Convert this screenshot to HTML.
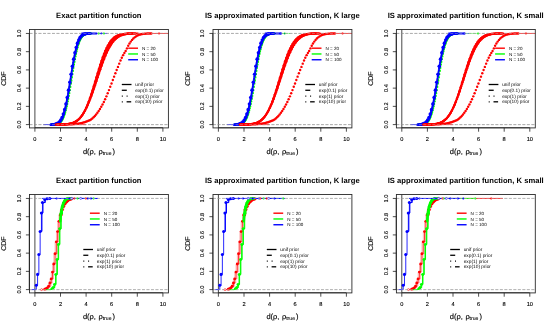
<!DOCTYPE html>
<html><head><meta charset="utf-8"><title>CDF plots</title>
<style>html,body{margin:0;padding:0;background:#fff;}svg{display:block;font-family:"Liberation Sans",sans-serif;text-rendering:geometricPrecision;}</style>
</head><body>
<svg width="550" height="330" viewBox="0 0 550 330">
<defs><filter id="bl" x="0" y="0" width="550" height="330" filterUnits="userSpaceOnUse"><feGaussianBlur stdDeviation="0.32"/></filter></defs>
<rect width="550" height="330" fill="#fff"/>
<g filter="url(#bl)">
<rect width="550" height="330" fill="#fff"/>
<g transform="translate(0,0)">
<text transform="translate(98.8,17.7) scale(0.1)" font-size="76.5" text-anchor="middle" font-weight="bold" fill="#000">Exact partition function</text>
<line x1="29.5" x2="168.4" y1="124.6" y2="124.6" stroke="#7f7f7f" stroke-width="0.7" stroke-dasharray="2.9 1.6"/>
<line x1="29.5" x2="168.4" y1="33.45" y2="33.45" stroke="#7f7f7f" stroke-width="0.7" stroke-dasharray="2.9 1.6"/>
<line x1="34.9" x2="34.9" y1="29.5" y2="127.9" stroke="#333" stroke-width="0.9"/>
<line x1="51.19" x2="60.18" y1="124.6" y2="124.6" stroke="#00ff00" stroke-width="0.8"/>
<g fill="#00ff00"><circle cx="51.96" cy="124.57" r="1.0"/><circle cx="52.48" cy="124.56" r="1.0"/><circle cx="52.99" cy="124.55" r="1.0"/><circle cx="53.5" cy="124.53" r="1.0"/><circle cx="54.02" cy="124.5" r="1.0"/><circle cx="54.53" cy="124.47" r="1.0"/><circle cx="55.04" cy="124.42" r="1.0"/><circle cx="55.56" cy="124.37" r="1.0"/><circle cx="56.07" cy="124.29" r="1.0"/><circle cx="56.58" cy="124.2" r="1.0"/><circle cx="57.1" cy="124.09" r="1.0"/><circle cx="57.61" cy="123.94" r="1.0"/><circle cx="58.13" cy="123.76" r="1.0"/><circle cx="58.64" cy="123.53" r="1.0"/><circle cx="59.15" cy="123.26" r="1.0"/><circle cx="59.67" cy="122.93" r="1.0"/><circle cx="60.18" cy="122.53" r="1.0"/><circle cx="60.69" cy="122.05" r="1.0"/><circle cx="61.21" cy="121.48" r="1.0"/><circle cx="61.72" cy="120.82" r="1.0"/><circle cx="62.23" cy="120.04" r="1.0"/><circle cx="62.75" cy="119.14" r="1.0"/><circle cx="63.26" cy="118.11" r="1.0"/><circle cx="63.78" cy="116.93" r="1.0"/><circle cx="64.29" cy="115.6" r="1.0"/><circle cx="64.8" cy="114.11" r="1.0"/><circle cx="65.32" cy="112.45" r="1.0"/><circle cx="65.83" cy="110.62" r="1.0"/><circle cx="66.34" cy="108.62" r="1.0"/><circle cx="66.86" cy="106.44" r="1.0"/><circle cx="67.37" cy="104.1" r="1.0"/><circle cx="67.88" cy="101.59" r="1.0"/><circle cx="68.4" cy="98.92" r="1.0"/><circle cx="68.91" cy="96.12" r="1.0"/><circle cx="69.42" cy="93.19" r="1.0"/><circle cx="69.94" cy="90.16" r="1.0"/><circle cx="70.45" cy="87.04" r="1.0"/><circle cx="70.97" cy="83.86" r="1.0"/><circle cx="71.48" cy="80.64" r="1.0"/><circle cx="71.99" cy="77.41" r="1.0"/><circle cx="72.51" cy="74.19" r="1.0"/><circle cx="73.02" cy="71.01" r="1.0"/><circle cx="73.53" cy="67.89" r="1.0"/><circle cx="74.05" cy="64.86" r="1.0"/><circle cx="74.56" cy="61.93" r="1.0"/><circle cx="75.07" cy="59.13" r="1.0"/><circle cx="75.59" cy="56.46" r="1.0"/><circle cx="76.1" cy="53.95" r="1.0"/><circle cx="76.62" cy="51.61" r="1.0"/><circle cx="77.13" cy="49.43" r="1.0"/><circle cx="77.64" cy="47.43" r="1.0"/><circle cx="78.16" cy="45.6" r="1.0"/><circle cx="78.67" cy="43.94" r="1.0"/><circle cx="79.18" cy="42.45" r="1.0"/><circle cx="79.7" cy="41.12" r="1.0"/><circle cx="80.21" cy="39.94" r="1.0"/><circle cx="80.72" cy="38.91" r="1.0"/><circle cx="81.24" cy="38.01" r="1.0"/><circle cx="81.75" cy="37.23" r="1.0"/><circle cx="82.26" cy="36.57" r="1.0"/><circle cx="82.78" cy="36" r="1.0"/><circle cx="83.29" cy="35.52" r="1.0"/><circle cx="83.81" cy="35.12" r="1.0"/><circle cx="84.32" cy="34.79" r="1.0"/><circle cx="84.83" cy="34.52" r="1.0"/><circle cx="85.35" cy="34.29" r="1.0"/><circle cx="85.86" cy="34.11" r="1.0"/><circle cx="86.37" cy="33.96" r="1.0"/><circle cx="86.89" cy="33.85" r="1.0"/><circle cx="87.4" cy="33.76" r="1.0"/><circle cx="87.91" cy="33.68" r="1.0"/><circle cx="88.43" cy="33.63" r="1.0"/><circle cx="88.94" cy="33.58" r="1.0"/><circle cx="89.46" cy="33.55" r="1.0"/><circle cx="89.97" cy="33.52" r="1.0"/><circle cx="90.48" cy="33.5" r="1.0"/><circle cx="91" cy="33.49" r="1.0"/><circle cx="51.19" cy="124.58" r="1.0"/><circle cx="51.71" cy="124.57" r="1.0"/><circle cx="52.22" cy="124.56" r="1.0"/><circle cx="52.73" cy="124.54" r="1.0"/><circle cx="53.25" cy="124.52" r="1.0"/><circle cx="53.76" cy="124.49" r="1.0"/><circle cx="54.27" cy="124.46" r="1.0"/><circle cx="54.79" cy="124.41" r="1.0"/><circle cx="55.3" cy="124.35" r="1.0"/><circle cx="55.81" cy="124.27" r="1.0"/><circle cx="56.33" cy="124.18" r="1.0"/><circle cx="56.84" cy="124.05" r="1.0"/><circle cx="57.36" cy="123.9" r="1.0"/><circle cx="57.87" cy="123.71" r="1.0"/><circle cx="58.38" cy="123.47" r="1.0"/><circle cx="58.9" cy="123.18" r="1.0"/><circle cx="59.41" cy="122.83" r="1.0"/><circle cx="59.92" cy="122.41" r="1.0"/><circle cx="60.44" cy="121.92" r="1.0"/><circle cx="60.95" cy="121.32" r="1.0"/><circle cx="61.46" cy="120.63" r="1.0"/><circle cx="61.98" cy="119.83" r="1.0"/><circle cx="62.49" cy="118.89" r="1.0"/><circle cx="63" cy="117.83" r="1.0"/><circle cx="63.52" cy="116.61" r="1.0"/><circle cx="64.03" cy="115.24" r="1.0"/><circle cx="64.55" cy="113.71" r="1.0"/><circle cx="65.06" cy="112.01" r="1.0"/><circle cx="65.57" cy="110.14" r="1.0"/><circle cx="66.09" cy="108.09" r="1.0"/><circle cx="66.6" cy="105.87" r="1.0"/><circle cx="67.11" cy="103.48" r="1.0"/><circle cx="67.63" cy="100.93" r="1.0"/><circle cx="68.14" cy="98.23" r="1.0"/><circle cx="68.65" cy="95.4" r="1.0"/><circle cx="69.17" cy="92.44" r="1.0"/><circle cx="69.68" cy="89.39" r="1.0"/><circle cx="70.2" cy="86.25" r="1.0"/><circle cx="70.71" cy="83.06" r="1.0"/><circle cx="71.22" cy="79.83" r="1.0"/><circle cx="71.74" cy="76.6" r="1.0"/><circle cx="72.25" cy="73.39" r="1.0"/><circle cx="72.76" cy="70.22" r="1.0"/><circle cx="73.28" cy="67.12" r="1.0"/><circle cx="73.79" cy="64.12" r="1.0"/><circle cx="74.3" cy="61.22" r="1.0"/><circle cx="74.82" cy="58.45" r="1.0"/><circle cx="75.33" cy="55.82" r="1.0"/><circle cx="75.84" cy="53.35" r="1.0"/><circle cx="76.36" cy="51.05" r="1.0"/><circle cx="76.87" cy="48.91" r="1.0"/><circle cx="77.39" cy="46.95" r="1.0"/><circle cx="77.9" cy="45.17" r="1.0"/><circle cx="78.41" cy="43.55" r="1.0"/><circle cx="78.93" cy="42.1" r="1.0"/><circle cx="79.44" cy="40.81" r="1.0"/><circle cx="79.95" cy="39.67" r="1.0"/><circle cx="80.47" cy="38.67" r="1.0"/><circle cx="80.98" cy="37.81" r="1.0"/><circle cx="81.49" cy="37.06" r="1.0"/><circle cx="82.01" cy="36.42" r="1.0"/><circle cx="82.52" cy="35.87" r="1.0"/><circle cx="83.04" cy="35.42" r="1.0"/><circle cx="83.55" cy="35.03" r="1.0"/><circle cx="84.06" cy="34.72" r="1.0"/><circle cx="84.58" cy="34.46" r="1.0"/><circle cx="85.09" cy="34.24" r="1.0"/><circle cx="85.6" cy="34.07" r="1.0"/><circle cx="86.12" cy="33.93" r="1.0"/><circle cx="86.63" cy="33.82" r="1.0"/><circle cx="87.14" cy="33.74" r="1.0"/><circle cx="87.66" cy="33.67" r="1.0"/><circle cx="88.17" cy="33.61" r="1.0"/><circle cx="88.68" cy="33.57" r="1.0"/><circle cx="89.2" cy="33.54" r="1.0"/><circle cx="89.71" cy="33.52" r="1.0"/><circle cx="90.23" cy="33.5" r="1.0"/><circle cx="90.74" cy="33.49" r="1.0"/></g>
<line x1="83.29" x2="104.48" y1="33.45" y2="33.45" stroke="#00ff00" stroke-width="0.5" stroke-opacity="0.7"/>
<g fill="#0000ff"><circle cx="50.16" cy="124.58" r="0.9"/><circle cx="50.42" cy="124.57" r="0.9"/><circle cx="50.68" cy="124.57" r="0.9"/><circle cx="50.94" cy="124.56" r="0.9"/><circle cx="51.19" cy="124.56" r="0.9"/><circle cx="51.45" cy="124.55" r="0.9"/><circle cx="51.71" cy="124.54" r="0.9"/><circle cx="51.96" cy="124.53" r="0.9"/><circle cx="52.22" cy="124.52" r="0.9"/><circle cx="52.48" cy="124.51" r="0.9"/><circle cx="52.73" cy="124.49" r="0.9"/><circle cx="52.99" cy="124.48" r="0.9"/><circle cx="53.25" cy="124.46" r="0.9"/><circle cx="53.5" cy="124.44" r="0.9"/><circle cx="53.76" cy="124.41" r="0.9"/><circle cx="54.02" cy="124.38" r="0.9"/><circle cx="54.27" cy="124.35" r="0.9"/><circle cx="54.53" cy="124.31" r="0.9"/><circle cx="54.79" cy="124.27" r="0.9"/><circle cx="55.04" cy="124.23" r="0.9"/><circle cx="55.3" cy="124.18" r="0.9"/><circle cx="55.56" cy="124.12" r="0.9"/><circle cx="55.81" cy="124.05" r="0.9"/><circle cx="56.07" cy="123.98" r="0.9"/><circle cx="56.33" cy="123.9" r="0.9"/><circle cx="56.58" cy="123.81" r="0.9"/><circle cx="56.84" cy="123.71" r="0.9"/><circle cx="57.1" cy="123.59" r="0.9"/><circle cx="57.36" cy="123.47" r="0.9"/><circle cx="57.61" cy="123.33" r="0.9"/><circle cx="57.87" cy="123.18" r="0.9"/><circle cx="58.13" cy="123.02" r="0.9"/><circle cx="58.38" cy="122.83" r="0.9"/><circle cx="58.64" cy="122.63" r="0.9"/><circle cx="58.9" cy="122.41" r="0.9"/><circle cx="59.15" cy="122.18" r="0.9"/><circle cx="59.41" cy="121.92" r="0.9"/><circle cx="59.67" cy="121.63" r="0.9"/><circle cx="59.92" cy="121.32" r="0.9"/><circle cx="60.18" cy="120.99" r="0.9"/><circle cx="60.44" cy="120.63" r="0.9"/><circle cx="60.69" cy="120.24" r="0.9"/><circle cx="60.95" cy="119.83" r="0.9"/><circle cx="61.21" cy="119.38" r="0.9"/><circle cx="61.46" cy="118.89" r="0.9"/><circle cx="61.72" cy="118.38" r="0.9"/><circle cx="61.98" cy="117.83" r="0.9"/><circle cx="62.23" cy="117.24" r="0.9"/><circle cx="62.49" cy="116.61" r="0.9"/><circle cx="62.75" cy="115.95" r="0.9"/><circle cx="63" cy="115.24" r="0.9"/><circle cx="63.26" cy="114.5" r="0.9"/><circle cx="63.52" cy="113.71" r="0.9"/><circle cx="63.78" cy="112.88" r="0.9"/><circle cx="64.03" cy="112.01" r="0.9"/><circle cx="64.29" cy="111.1" r="0.9"/><circle cx="64.55" cy="110.14" r="0.9"/><circle cx="64.8" cy="109.14" r="0.9"/><circle cx="65.06" cy="108.09" r="0.9"/><circle cx="65.32" cy="107" r="0.9"/><circle cx="65.57" cy="105.87" r="0.9"/><circle cx="65.83" cy="104.7" r="0.9"/><circle cx="66.09" cy="103.48" r="0.9"/><circle cx="66.34" cy="102.23" r="0.9"/><circle cx="66.6" cy="100.93" r="0.9"/><circle cx="66.86" cy="99.6" r="0.9"/><circle cx="67.11" cy="98.23" r="0.9"/><circle cx="67.37" cy="96.83" r="0.9"/><circle cx="67.63" cy="95.4" r="0.9"/><circle cx="67.88" cy="93.93" r="0.9"/><circle cx="68.14" cy="92.44" r="0.9"/><circle cx="68.4" cy="90.93" r="0.9"/><circle cx="68.65" cy="89.39" r="0.9"/><circle cx="68.91" cy="87.83" r="0.9"/><circle cx="69.17" cy="86.25" r="0.9"/><circle cx="69.42" cy="84.66" r="0.9"/><circle cx="69.68" cy="83.06" r="0.9"/><circle cx="69.94" cy="81.45" r="0.9"/><circle cx="70.2" cy="79.83" r="0.9"/><circle cx="70.45" cy="78.22" r="0.9"/><circle cx="70.71" cy="76.6" r="0.9"/><circle cx="70.97" cy="74.99" r="0.9"/><circle cx="71.22" cy="73.39" r="0.9"/><circle cx="71.48" cy="71.8" r="0.9"/><circle cx="71.74" cy="70.22" r="0.9"/><circle cx="71.99" cy="68.66" r="0.9"/><circle cx="72.25" cy="67.12" r="0.9"/><circle cx="72.51" cy="65.61" r="0.9"/><circle cx="72.76" cy="64.12" r="0.9"/><circle cx="73.02" cy="62.65" r="0.9"/><circle cx="73.28" cy="61.22" r="0.9"/><circle cx="73.53" cy="59.82" r="0.9"/><circle cx="73.79" cy="58.45" r="0.9"/><circle cx="74.05" cy="57.12" r="0.9"/><circle cx="74.3" cy="55.82" r="0.9"/><circle cx="74.56" cy="54.57" r="0.9"/><circle cx="74.82" cy="53.35" r="0.9"/><circle cx="75.07" cy="52.18" r="0.9"/><circle cx="75.33" cy="51.05" r="0.9"/><circle cx="75.59" cy="49.96" r="0.9"/><circle cx="75.84" cy="48.91" r="0.9"/><circle cx="76.1" cy="47.91" r="0.9"/><circle cx="76.36" cy="46.95" r="0.9"/><circle cx="76.62" cy="46.04" r="0.9"/><circle cx="76.87" cy="45.17" r="0.9"/><circle cx="77.13" cy="44.34" r="0.9"/><circle cx="77.39" cy="43.55" r="0.9"/><circle cx="77.64" cy="42.81" r="0.9"/><circle cx="77.9" cy="42.1" r="0.9"/><circle cx="78.16" cy="41.44" r="0.9"/><circle cx="78.41" cy="40.81" r="0.9"/><circle cx="78.67" cy="40.22" r="0.9"/><circle cx="78.93" cy="39.67" r="0.9"/><circle cx="79.18" cy="39.16" r="0.9"/><circle cx="79.44" cy="38.67" r="0.9"/><circle cx="79.7" cy="38.22" r="0.9"/><circle cx="79.95" cy="37.81" r="0.9"/><circle cx="80.21" cy="37.42" r="0.9"/><circle cx="80.47" cy="37.06" r="0.9"/><circle cx="80.72" cy="36.73" r="0.9"/><circle cx="80.98" cy="36.42" r="0.9"/><circle cx="81.24" cy="36.13" r="0.9"/><circle cx="81.49" cy="35.87" r="0.9"/><circle cx="81.75" cy="35.64" r="0.9"/><circle cx="82.01" cy="35.42" r="0.9"/><circle cx="82.26" cy="35.22" r="0.9"/><circle cx="82.52" cy="35.03" r="0.9"/><circle cx="82.78" cy="34.87" r="0.9"/><circle cx="83.04" cy="34.72" r="0.9"/><circle cx="83.29" cy="34.58" r="0.9"/><circle cx="83.55" cy="34.46" r="0.9"/><circle cx="83.81" cy="34.34" r="0.9"/><circle cx="84.06" cy="34.24" r="0.9"/><circle cx="84.32" cy="34.15" r="0.9"/><circle cx="84.58" cy="34.07" r="0.9"/><circle cx="84.83" cy="34" r="0.9"/><circle cx="85.09" cy="33.93" r="0.9"/><circle cx="85.35" cy="33.87" r="0.9"/><circle cx="85.6" cy="33.82" r="0.9"/><circle cx="85.86" cy="33.78" r="0.9"/><circle cx="86.12" cy="33.74" r="0.9"/><circle cx="86.37" cy="33.7" r="0.9"/><circle cx="86.63" cy="33.67" r="0.9"/><circle cx="86.89" cy="33.64" r="0.9"/><circle cx="87.14" cy="33.61" r="0.9"/><circle cx="87.4" cy="33.59" r="0.9"/><circle cx="87.66" cy="33.57" r="0.9"/><circle cx="87.91" cy="33.56" r="0.9"/><circle cx="88.17" cy="33.54" r="0.9"/><circle cx="88.43" cy="33.53" r="0.9"/><circle cx="88.68" cy="33.52" r="0.9"/><circle cx="88.94" cy="33.51" r="0.9"/><circle cx="89.2" cy="33.5" r="0.9"/><circle cx="89.46" cy="33.49" r="0.9"/><circle cx="89.71" cy="33.49" r="0.9"/><circle cx="50.55" cy="124.58" r="0.9"/><circle cx="50.81" cy="124.57" r="0.9"/><circle cx="51.06" cy="124.57" r="0.9"/><circle cx="51.32" cy="124.56" r="0.9"/><circle cx="51.58" cy="124.56" r="0.9"/><circle cx="51.83" cy="124.55" r="0.9"/><circle cx="52.09" cy="124.54" r="0.9"/><circle cx="52.35" cy="124.53" r="0.9"/><circle cx="52.6" cy="124.52" r="0.9"/><circle cx="52.86" cy="124.51" r="0.9"/><circle cx="53.12" cy="124.49" r="0.9"/><circle cx="53.37" cy="124.48" r="0.9"/><circle cx="53.63" cy="124.46" r="0.9"/><circle cx="53.89" cy="124.44" r="0.9"/><circle cx="54.15" cy="124.41" r="0.9"/><circle cx="54.4" cy="124.38" r="0.9"/><circle cx="54.66" cy="124.35" r="0.9"/><circle cx="54.92" cy="124.31" r="0.9"/><circle cx="55.17" cy="124.27" r="0.9"/><circle cx="55.43" cy="124.23" r="0.9"/><circle cx="55.69" cy="124.18" r="0.9"/><circle cx="55.94" cy="124.12" r="0.9"/><circle cx="56.2" cy="124.05" r="0.9"/><circle cx="56.46" cy="123.98" r="0.9"/><circle cx="56.71" cy="123.9" r="0.9"/><circle cx="56.97" cy="123.81" r="0.9"/><circle cx="57.23" cy="123.71" r="0.9"/><circle cx="57.48" cy="123.59" r="0.9"/><circle cx="57.74" cy="123.47" r="0.9"/><circle cx="58" cy="123.33" r="0.9"/><circle cx="58.25" cy="123.18" r="0.9"/><circle cx="58.51" cy="123.02" r="0.9"/><circle cx="58.77" cy="122.83" r="0.9"/><circle cx="59.02" cy="122.63" r="0.9"/><circle cx="59.28" cy="122.41" r="0.9"/><circle cx="59.54" cy="122.18" r="0.9"/><circle cx="59.79" cy="121.92" r="0.9"/><circle cx="60.05" cy="121.63" r="0.9"/><circle cx="60.31" cy="121.32" r="0.9"/><circle cx="60.57" cy="120.99" r="0.9"/><circle cx="60.82" cy="120.63" r="0.9"/><circle cx="61.08" cy="120.24" r="0.9"/><circle cx="61.34" cy="119.83" r="0.9"/><circle cx="61.59" cy="119.38" r="0.9"/><circle cx="61.85" cy="118.89" r="0.9"/><circle cx="62.11" cy="118.38" r="0.9"/><circle cx="62.36" cy="117.83" r="0.9"/><circle cx="62.62" cy="117.24" r="0.9"/><circle cx="62.88" cy="116.61" r="0.9"/><circle cx="63.13" cy="115.95" r="0.9"/><circle cx="63.39" cy="115.24" r="0.9"/><circle cx="63.65" cy="114.5" r="0.9"/><circle cx="63.9" cy="113.71" r="0.9"/><circle cx="64.16" cy="112.88" r="0.9"/><circle cx="64.42" cy="112.01" r="0.9"/><circle cx="64.67" cy="111.1" r="0.9"/><circle cx="64.93" cy="110.14" r="0.9"/><circle cx="65.19" cy="109.14" r="0.9"/><circle cx="65.44" cy="108.09" r="0.9"/><circle cx="65.7" cy="107" r="0.9"/><circle cx="65.96" cy="105.87" r="0.9"/><circle cx="66.21" cy="104.7" r="0.9"/><circle cx="66.47" cy="103.48" r="0.9"/><circle cx="66.73" cy="102.23" r="0.9"/><circle cx="66.99" cy="100.93" r="0.9"/><circle cx="67.24" cy="99.6" r="0.9"/><circle cx="67.5" cy="98.23" r="0.9"/><circle cx="67.76" cy="96.83" r="0.9"/><circle cx="68.01" cy="95.4" r="0.9"/><circle cx="68.27" cy="93.93" r="0.9"/><circle cx="68.53" cy="92.44" r="0.9"/><circle cx="68.78" cy="90.93" r="0.9"/><circle cx="69.04" cy="89.39" r="0.9"/><circle cx="69.3" cy="87.83" r="0.9"/><circle cx="69.55" cy="86.25" r="0.9"/><circle cx="69.81" cy="84.66" r="0.9"/><circle cx="70.07" cy="83.06" r="0.9"/><circle cx="70.32" cy="81.45" r="0.9"/><circle cx="70.58" cy="79.83" r="0.9"/><circle cx="70.84" cy="78.22" r="0.9"/><circle cx="71.09" cy="76.6" r="0.9"/><circle cx="71.35" cy="74.99" r="0.9"/><circle cx="71.61" cy="73.39" r="0.9"/><circle cx="71.86" cy="71.8" r="0.9"/><circle cx="72.12" cy="70.22" r="0.9"/><circle cx="72.38" cy="68.66" r="0.9"/><circle cx="72.63" cy="67.12" r="0.9"/><circle cx="72.89" cy="65.61" r="0.9"/><circle cx="73.15" cy="64.12" r="0.9"/><circle cx="73.41" cy="62.65" r="0.9"/><circle cx="73.66" cy="61.22" r="0.9"/><circle cx="73.92" cy="59.82" r="0.9"/><circle cx="74.18" cy="58.45" r="0.9"/><circle cx="74.43" cy="57.12" r="0.9"/><circle cx="74.69" cy="55.82" r="0.9"/><circle cx="74.95" cy="54.57" r="0.9"/><circle cx="75.2" cy="53.35" r="0.9"/><circle cx="75.46" cy="52.18" r="0.9"/><circle cx="75.72" cy="51.05" r="0.9"/><circle cx="75.97" cy="49.96" r="0.9"/><circle cx="76.23" cy="48.91" r="0.9"/><circle cx="76.49" cy="47.91" r="0.9"/><circle cx="76.74" cy="46.95" r="0.9"/><circle cx="77" cy="46.04" r="0.9"/><circle cx="77.26" cy="45.17" r="0.9"/><circle cx="77.51" cy="44.34" r="0.9"/><circle cx="77.77" cy="43.55" r="0.9"/><circle cx="78.03" cy="42.81" r="0.9"/><circle cx="78.28" cy="42.1" r="0.9"/><circle cx="78.54" cy="41.44" r="0.9"/><circle cx="78.8" cy="40.81" r="0.9"/><circle cx="79.05" cy="40.22" r="0.9"/><circle cx="79.31" cy="39.67" r="0.9"/><circle cx="79.57" cy="39.16" r="0.9"/><circle cx="79.83" cy="38.67" r="0.9"/><circle cx="80.08" cy="38.22" r="0.9"/><circle cx="80.34" cy="37.81" r="0.9"/><circle cx="80.6" cy="37.42" r="0.9"/><circle cx="80.85" cy="37.06" r="0.9"/><circle cx="81.11" cy="36.73" r="0.9"/><circle cx="81.37" cy="36.42" r="0.9"/><circle cx="81.62" cy="36.13" r="0.9"/><circle cx="81.88" cy="35.87" r="0.9"/><circle cx="82.14" cy="35.64" r="0.9"/><circle cx="82.39" cy="35.42" r="0.9"/><circle cx="82.65" cy="35.22" r="0.9"/><circle cx="82.91" cy="35.03" r="0.9"/><circle cx="83.16" cy="34.87" r="0.9"/><circle cx="83.42" cy="34.72" r="0.9"/><circle cx="83.68" cy="34.58" r="0.9"/><circle cx="83.93" cy="34.46" r="0.9"/><circle cx="84.19" cy="34.34" r="0.9"/><circle cx="84.45" cy="34.24" r="0.9"/><circle cx="84.7" cy="34.15" r="0.9"/><circle cx="84.96" cy="34.07" r="0.9"/><circle cx="85.22" cy="34" r="0.9"/><circle cx="85.47" cy="33.93" r="0.9"/><circle cx="85.73" cy="33.87" r="0.9"/><circle cx="85.99" cy="33.82" r="0.9"/><circle cx="86.25" cy="33.78" r="0.9"/><circle cx="86.5" cy="33.74" r="0.9"/><circle cx="86.76" cy="33.7" r="0.9"/><circle cx="87.02" cy="33.67" r="0.9"/><circle cx="87.27" cy="33.64" r="0.9"/><circle cx="87.53" cy="33.61" r="0.9"/><circle cx="87.79" cy="33.59" r="0.9"/><circle cx="88.04" cy="33.57" r="0.9"/><circle cx="88.3" cy="33.56" r="0.9"/><circle cx="88.56" cy="33.54" r="0.9"/><circle cx="88.81" cy="33.53" r="0.9"/><circle cx="89.07" cy="33.52" r="0.9"/><circle cx="89.33" cy="33.51" r="0.9"/><circle cx="89.58" cy="33.5" r="0.9"/><circle cx="89.84" cy="33.49" r="0.9"/><circle cx="90.1" cy="33.49" r="0.9"/><circle cx="90.35" cy="33.48" r="0.9"/></g>
<g fill="#0000ff"><circle cx="55.69" cy="124.09" r="1.8"/><circle cx="56.97" cy="123.65" r="1.8"/><circle cx="58.25" cy="122.93" r="1.8"/><circle cx="59.54" cy="121.78" r="1.8"/><circle cx="60.82" cy="120.04" r="1.8"/><circle cx="62.11" cy="117.54" r="1.8"/><circle cx="63.39" cy="114.11" r="1.8"/><circle cx="64.67" cy="109.64" r="1.8"/><circle cx="65.96" cy="104.1" r="1.8"/><circle cx="67.24" cy="97.54" r="1.8"/><circle cx="68.53" cy="90.16" r="1.8"/><circle cx="69.81" cy="82.25" r="1.8"/><circle cx="71.09" cy="74.19" r="1.8"/><circle cx="72.38" cy="66.36" r="1.8"/><circle cx="73.66" cy="59.13" r="1.8"/><circle cx="74.95" cy="52.76" r="1.8"/><circle cx="76.23" cy="47.43" r="1.8"/><circle cx="77.51" cy="43.17" r="1.8"/><circle cx="78.8" cy="39.94" r="1.8"/><circle cx="80.08" cy="37.61" r="1.8"/><circle cx="81.37" cy="36" r="1.8"/><circle cx="82.65" cy="34.95" r="1.8"/><circle cx="83.93" cy="34.29" r="1.8"/><circle cx="85.22" cy="33.9" r="1.8"/></g>
<line x1="43.49" x2="55.04" y1="124.6" y2="124.6" stroke="#0000ff" stroke-width="0.7"/>
<line x1="82.01" x2="96.52" y1="33.45" y2="33.45" stroke="#0000ff" stroke-width="2.0" stroke-linecap="round"/>
<line x1="96.13" x2="107.43" y1="33.45" y2="33.45" stroke="#0000ff" stroke-width="0.6"/>
<g fill="#00ff00"><circle cx="98.7" cy="33.45" r="1.0"/><circle cx="103.96" cy="33.45" r="1.0"/></g>
<circle cx="101.4" cy="33.45" r="0.9" fill="#0000ff"/>
<polygon points="67.88,123.97 68.53,123.87 69.17,123.75 69.81,123.62 70.45,123.47 71.09,123.31 71.74,123.12 72.38,122.91 73.02,122.67 73.66,122.41 74.3,122.12 74.95,121.8 75.59,121.44 76.23,121.05 76.87,120.62 77.51,120.14 78.16,119.62 78.8,119.06 79.44,118.45 80.08,117.78 80.72,117.07 81.37,116.29 82.01,115.41 82.65,114.41 83.29,113.33 83.93,112.18 84.58,110.95 85.22,109.64 85.86,108.25 86.5,106.78 87.14,105.23 87.79,103.61 88.43,101.92 89.07,100.15 89.71,98.32 90.35,96.43 91,94.48 91.64,92.48 92.28,90.43 92.92,88.34 93.56,86.22 94.21,84.07 94.85,81.91 95.49,79.73 96.13,77.56 96.77,75.38 97.42,73.23 98.06,71.09 98.7,68.98 99.34,66.9 99.98,64.87 100.63,62.88 101.27,60.95 101.91,59.08 102.55,57.27 103.19,55.53 103.84,53.86 104.48,52.27 105.12,50.75 105.76,49.31 106.4,47.94 107.05,46.66 107.69,45.46 108.33,44.33 108.97,43.28 109.61,42.31 110.26,41.4 110.9,40.57 111.54,39.81 112.18,39.11 112.82,38.47 113.47,37.89 114.11,37.37 114.75,36.89 115.39,36.47 116.03,36.09 116.68,35.75 117.32,35.44 117.96,35.18 118.6,34.94 119.24,34.73 119.89,34.55 120.53,34.39 121.17,34.25 121.81,34.13 122.45,34.02 123.1,33.93 123.74,33.86 124.38,33.79 125.02,33.73 125.66,33.69 126.31,33.65 126.95,33.61 127.59,33.58 128.23,33.56 128.23,33.9 127.59,33.97 126.95,34.06 126.31,34.16 125.66,34.27 125.02,34.4 124.38,34.54 123.74,34.7 123.1,34.88 122.45,35.09 121.81,35.32 121.17,35.57 120.53,35.85 119.89,36.17 119.24,36.52 118.6,36.9 117.96,37.32 117.32,37.79 116.68,38.29 116.03,38.84 115.39,39.45 114.75,40.1 114.11,40.8 113.47,41.56 112.82,42.37 112.18,43.25 111.54,44.18 110.9,45.18 110.26,46.24 109.61,47.36 108.97,48.54 108.33,49.79 107.69,51.1 107.05,52.47 106.4,53.91 105.76,55.4 105.12,56.95 104.48,58.55 103.84,60.21 103.19,61.92 102.55,63.67 101.91,65.46 101.27,67.29 100.63,69.16 99.98,71.05 99.34,72.96 98.7,74.89 98.06,76.83 97.42,78.78 96.77,80.73 96.13,82.67 95.49,84.61 94.85,86.53 94.21,88.42 93.56,90.29 92.92,92.13 92.28,93.94 91.64,95.7 91,97.42 90.35,99.09 89.71,100.7 89.07,102.27 88.43,103.78 87.79,105.23 87.14,106.61 86.5,107.94 85.86,109.2 85.22,110.4 84.58,111.54 83.93,112.61 83.29,113.62 82.65,114.57 82.01,115.46 81.37,116.34 80.72,117.19 80.08,117.98 79.44,118.7 78.8,119.36 78.16,119.96 77.51,120.5 76.87,121 76.23,121.44 75.59,121.83 74.95,122.19 74.3,122.5 73.66,122.78 73.02,123.03 72.38,123.25 71.74,123.44 71.09,123.61 70.45,123.76 69.81,123.88 69.17,123.99 68.53,124.09 67.88,124.17" fill="#ff0000" stroke="#ff0000" stroke-width="1.5" stroke-linejoin="round"/>
<line x1="60.18" x2="85.86" y1="124.6" y2="124.6" stroke="#ff0000" stroke-width="0.7"/>
<line x1="124.38" x2="168.4" y1="33.45" y2="33.45" stroke="#ff0000" stroke-width="0.7"/>
<g fill="#ff0000"><circle cx="58.9" cy="124.57" r="1.05"/><circle cx="60.18" cy="124.56" r="1.05"/><circle cx="61.46" cy="124.54" r="1.05"/><circle cx="62.75" cy="124.5" r="1.05"/><circle cx="64.03" cy="124.46" r="1.05"/><circle cx="65.32" cy="124.39" r="1.05"/><circle cx="66.6" cy="124.3" r="1.05"/><circle cx="67.88" cy="124.17" r="1.05"/><circle cx="69.17" cy="123.99" r="1.05"/><circle cx="70.45" cy="123.76" r="1.05"/><circle cx="71.74" cy="123.44" r="1.05"/><circle cx="73.02" cy="123.03" r="1.05"/><circle cx="74.3" cy="122.5" r="1.05"/><circle cx="75.59" cy="121.83" r="1.05"/><circle cx="76.87" cy="121" r="1.05"/><circle cx="78.16" cy="119.96" r="1.05"/><circle cx="79.44" cy="118.7" r="1.05"/><circle cx="80.72" cy="117.19" r="1.05"/><circle cx="82.01" cy="115.41" r="1.05"/><circle cx="83.29" cy="113.33" r="1.05"/><circle cx="84.58" cy="110.95" r="1.05"/><circle cx="85.86" cy="108.25" r="1.05"/><circle cx="87.14" cy="105.23" r="1.05"/><circle cx="88.43" cy="101.92" r="1.05"/><circle cx="89.71" cy="98.32" r="1.05"/><circle cx="91" cy="94.48" r="1.05"/><circle cx="92.28" cy="90.43" r="1.05"/><circle cx="93.56" cy="86.22" r="1.05"/><circle cx="94.85" cy="81.91" r="1.05"/><circle cx="96.13" cy="77.56" r="1.05"/><circle cx="97.42" cy="73.23" r="1.05"/><circle cx="98.7" cy="68.98" r="1.05"/><circle cx="99.98" cy="64.87" r="1.05"/><circle cx="101.27" cy="60.95" r="1.05"/><circle cx="102.55" cy="57.27" r="1.05"/><circle cx="103.84" cy="53.86" r="1.05"/><circle cx="105.12" cy="50.75" r="1.05"/><circle cx="106.4" cy="47.94" r="1.05"/><circle cx="107.69" cy="45.46" r="1.05"/><circle cx="108.97" cy="43.28" r="1.05"/><circle cx="110.26" cy="41.4" r="1.05"/><circle cx="111.54" cy="39.81" r="1.05"/><circle cx="112.82" cy="38.47" r="1.05"/><circle cx="114.11" cy="37.37" r="1.05"/><circle cx="115.39" cy="36.47" r="1.05"/><circle cx="116.68" cy="35.75" r="1.05"/><circle cx="117.96" cy="35.18" r="1.05"/><circle cx="119.24" cy="34.73" r="1.05"/><circle cx="120.53" cy="34.39" r="1.05"/><circle cx="121.81" cy="34.13" r="1.05"/><circle cx="123.1" cy="33.93" r="1.05"/><circle cx="124.38" cy="33.79" r="1.05"/><circle cx="125.66" cy="33.69" r="1.05"/><circle cx="126.95" cy="33.61" r="1.05"/><circle cx="128.23" cy="33.56" r="1.05"/><circle cx="129.52" cy="33.52" r="1.05"/><circle cx="130.8" cy="33.5" r="1.05"/><circle cx="132.08" cy="33.48" r="1.05"/><circle cx="58.25" cy="124.57" r="1.05"/><circle cx="59.54" cy="124.56" r="1.05"/><circle cx="60.82" cy="124.54" r="1.05"/><circle cx="62.11" cy="124.51" r="1.05"/><circle cx="63.39" cy="124.46" r="1.05"/><circle cx="64.67" cy="124.4" r="1.05"/><circle cx="65.96" cy="124.32" r="1.05"/><circle cx="67.24" cy="124.2" r="1.05"/><circle cx="68.53" cy="124.04" r="1.05"/><circle cx="69.81" cy="123.83" r="1.05"/><circle cx="71.09" cy="123.55" r="1.05"/><circle cx="72.38" cy="123.18" r="1.05"/><circle cx="73.66" cy="122.71" r="1.05"/><circle cx="74.95" cy="122.11" r="1.05"/><circle cx="76.23" cy="121.36" r="1.05"/><circle cx="77.51" cy="120.44" r="1.05"/><circle cx="78.8" cy="119.32" r="1.05"/><circle cx="80.08" cy="117.97" r="1.05"/><circle cx="81.37" cy="116.37" r="1.05"/><circle cx="82.65" cy="114.5" r="1.05"/><circle cx="83.93" cy="112.35" r="1.05"/><circle cx="85.22" cy="109.9" r="1.05"/><circle cx="86.5" cy="107.15" r="1.05"/><circle cx="87.79" cy="104.1" r="1.05"/><circle cx="89.07" cy="100.78" r="1.05"/><circle cx="90.35" cy="97.2" r="1.05"/><circle cx="91.64" cy="93.39" r="1.05"/><circle cx="92.92" cy="89.4" r="1.05"/><circle cx="94.21" cy="85.28" r="1.05"/><circle cx="95.49" cy="81.06" r="1.05"/><circle cx="96.77" cy="76.83" r="1.05"/><circle cx="98.06" cy="72.62" r="1.05"/><circle cx="99.34" cy="68.5" r="1.05"/><circle cx="100.63" cy="64.51" r="1.05"/><circle cx="101.91" cy="60.71" r="1.05"/><circle cx="103.19" cy="57.14" r="1.05"/><circle cx="104.48" cy="53.83" r="1.05"/><circle cx="105.76" cy="50.8" r="1.05"/><circle cx="107.05" cy="48.06" r="1.05"/><circle cx="108.33" cy="45.62" r="1.05"/><circle cx="109.61" cy="43.47" r="1.05"/><circle cx="110.9" cy="41.62" r="1.05"/><circle cx="112.18" cy="40.03" r="1.05"/><circle cx="113.47" cy="38.69" r="1.05"/><circle cx="114.75" cy="37.57" r="1.05"/><circle cx="116.03" cy="36.66" r="1.05"/><circle cx="117.32" cy="35.91" r="1.05"/><circle cx="118.6" cy="35.32" r="1.05"/><circle cx="119.89" cy="34.85" r="1.05"/><circle cx="121.17" cy="34.49" r="1.05"/><circle cx="122.45" cy="34.21" r="1.05"/><circle cx="123.74" cy="34" r="1.05"/><circle cx="125.02" cy="33.84" r="1.05"/><circle cx="126.31" cy="33.73" r="1.05"/><circle cx="127.59" cy="33.64" r="1.05"/><circle cx="128.87" cy="33.58" r="1.05"/><circle cx="130.16" cy="33.54" r="1.05"/><circle cx="131.44" cy="33.51" r="1.05"/><circle cx="132.73" cy="33.49" r="1.05"/><circle cx="57.87" cy="124.57" r="1.05"/><circle cx="59.15" cy="124.56" r="1.05"/><circle cx="60.44" cy="124.54" r="1.05"/><circle cx="61.72" cy="124.51" r="1.05"/><circle cx="63" cy="124.46" r="1.05"/><circle cx="64.29" cy="124.4" r="1.05"/><circle cx="65.57" cy="124.32" r="1.05"/><circle cx="66.86" cy="124.21" r="1.05"/><circle cx="68.14" cy="124.05" r="1.05"/><circle cx="69.42" cy="123.85" r="1.05"/><circle cx="70.71" cy="123.58" r="1.05"/><circle cx="71.99" cy="123.23" r="1.05"/><circle cx="73.28" cy="122.79" r="1.05"/><circle cx="74.56" cy="122.23" r="1.05"/><circle cx="75.84" cy="121.53" r="1.05"/><circle cx="77.13" cy="120.67" r="1.05"/><circle cx="78.41" cy="119.63" r="1.05"/><circle cx="79.7" cy="118.38" r="1.05"/><circle cx="80.98" cy="116.89" r="1.05"/><circle cx="82.26" cy="115.16" r="1.05"/><circle cx="83.55" cy="113.16" r="1.05"/><circle cx="84.83" cy="110.88" r="1.05"/><circle cx="86.12" cy="108.31" r="1.05"/><circle cx="87.4" cy="105.47" r="1.05"/><circle cx="88.68" cy="102.35" r="1.05"/><circle cx="89.97" cy="98.98" r="1.05"/><circle cx="91.25" cy="95.37" r="1.05"/><circle cx="92.54" cy="91.57" r="1.05"/><circle cx="93.82" cy="87.62" r="1.05"/><circle cx="95.1" cy="83.56" r="1.05"/><circle cx="96.39" cy="79.44" r="1.05"/><circle cx="97.67" cy="75.31" r="1.05"/><circle cx="98.96" cy="71.23" r="1.05"/><circle cx="100.24" cy="67.25" r="1.05"/><circle cx="101.52" cy="63.42" r="1.05"/><circle cx="102.81" cy="59.78" r="1.05"/><circle cx="104.09" cy="56.35" r="1.05"/><circle cx="105.38" cy="53.18" r="1.05"/><circle cx="106.66" cy="50.28" r="1.05"/><circle cx="107.94" cy="47.66" r="1.05"/><circle cx="109.23" cy="45.33" r="1.05"/><circle cx="110.51" cy="43.27" r="1.05"/><circle cx="111.8" cy="41.48" r="1.05"/><circle cx="113.08" cy="39.95" r="1.05"/><circle cx="114.36" cy="38.66" r="1.05"/><circle cx="115.65" cy="37.57" r="1.05"/><circle cx="116.93" cy="36.68" r="1.05"/><circle cx="118.22" cy="35.95" r="1.05"/><circle cx="119.5" cy="35.36" r="1.05"/><circle cx="120.78" cy="34.9" r="1.05"/><circle cx="122.07" cy="34.53" r="1.05"/><circle cx="123.35" cy="34.25" r="1.05"/><circle cx="124.64" cy="34.03" r="1.05"/><circle cx="125.92" cy="33.87" r="1.05"/><circle cx="127.2" cy="33.75" r="1.05"/><circle cx="128.49" cy="33.66" r="1.05"/><circle cx="129.77" cy="33.6" r="1.05"/><circle cx="131.06" cy="33.55" r="1.05"/><circle cx="132.34" cy="33.52" r="1.05"/><circle cx="133.62" cy="33.5" r="1.05"/><circle cx="134.91" cy="33.48" r="1.05"/><circle cx="57.23" cy="124.57" r="1.05"/><circle cx="58.51" cy="124.56" r="1.05"/><circle cx="59.79" cy="124.54" r="1.05"/><circle cx="61.08" cy="124.51" r="1.05"/><circle cx="62.36" cy="124.46" r="1.05"/><circle cx="63.65" cy="124.41" r="1.05"/><circle cx="64.93" cy="124.33" r="1.05"/><circle cx="66.21" cy="124.22" r="1.05"/><circle cx="67.5" cy="124.08" r="1.05"/><circle cx="68.78" cy="123.89" r="1.05"/><circle cx="70.07" cy="123.64" r="1.05"/><circle cx="71.35" cy="123.33" r="1.05"/><circle cx="72.63" cy="122.92" r="1.05"/><circle cx="73.92" cy="122.41" r="1.05"/><circle cx="75.2" cy="121.78" r="1.05"/><circle cx="76.49" cy="121" r="1.05"/><circle cx="77.77" cy="120.06" r="1.05"/><circle cx="79.05" cy="118.92" r="1.05"/><circle cx="80.34" cy="117.58" r="1.05"/><circle cx="81.62" cy="116.01" r="1.05"/><circle cx="82.91" cy="114.2" r="1.05"/><circle cx="84.19" cy="112.12" r="1.05"/><circle cx="85.47" cy="109.79" r="1.05"/><circle cx="86.76" cy="107.18" r="1.05"/><circle cx="88.04" cy="104.31" r="1.05"/><circle cx="89.33" cy="101.19" r="1.05"/><circle cx="90.61" cy="97.83" r="1.05"/><circle cx="91.89" cy="94.27" r="1.05"/><circle cx="93.18" cy="90.54" r="1.05"/><circle cx="94.46" cy="86.67" r="1.05"/><circle cx="95.75" cy="82.71" r="1.05"/><circle cx="97.03" cy="78.7" r="1.05"/><circle cx="98.31" cy="74.7" r="1.05"/><circle cx="99.6" cy="70.75" r="1.05"/><circle cx="100.88" cy="66.9" r="1.05"/><circle cx="102.17" cy="63.19" r="1.05"/><circle cx="103.45" cy="59.66" r="1.05"/><circle cx="104.73" cy="56.34" r="1.05"/><circle cx="106.02" cy="53.26" r="1.05"/><circle cx="107.3" cy="50.43" r="1.05"/><circle cx="108.59" cy="47.87" r="1.05"/><circle cx="109.87" cy="45.57" r="1.05"/><circle cx="111.15" cy="43.54" r="1.05"/><circle cx="112.44" cy="41.77" r="1.05"/><circle cx="113.72" cy="40.24" r="1.05"/><circle cx="115.01" cy="38.93" r="1.05"/><circle cx="116.29" cy="37.83" r="1.05"/><circle cx="117.57" cy="36.91" r="1.05"/><circle cx="118.86" cy="36.16" r="1.05"/><circle cx="120.14" cy="35.55" r="1.05"/><circle cx="121.43" cy="35.06" r="1.05"/><circle cx="122.71" cy="34.67" r="1.05"/><circle cx="123.99" cy="34.36" r="1.05"/><circle cx="125.28" cy="34.13" r="1.05"/><circle cx="126.56" cy="33.95" r="1.05"/><circle cx="127.85" cy="33.81" r="1.05"/><circle cx="129.13" cy="33.71" r="1.05"/><circle cx="130.41" cy="33.63" r="1.05"/><circle cx="131.7" cy="33.58" r="1.05"/><circle cx="132.98" cy="33.54" r="1.05"/><circle cx="134.27" cy="33.51" r="1.05"/><circle cx="135.55" cy="33.49" r="1.05"/><circle cx="55.56" cy="124.58" r="1.05"/><circle cx="56.84" cy="124.57" r="1.05"/><circle cx="58.13" cy="124.55" r="1.05"/><circle cx="59.41" cy="124.53" r="1.05"/><circle cx="60.69" cy="124.5" r="1.05"/><circle cx="61.98" cy="124.46" r="1.05"/><circle cx="63.26" cy="124.4" r="1.05"/><circle cx="64.55" cy="124.32" r="1.05"/><circle cx="65.83" cy="124.21" r="1.05"/><circle cx="67.11" cy="124.07" r="1.05"/><circle cx="68.4" cy="123.89" r="1.05"/><circle cx="69.68" cy="123.65" r="1.05"/><circle cx="70.97" cy="123.34" r="1.05"/><circle cx="72.25" cy="122.95" r="1.05"/><circle cx="73.53" cy="122.47" r="1.05"/><circle cx="74.82" cy="121.86" r="1.05"/><circle cx="76.1" cy="121.13" r="1.05"/><circle cx="77.39" cy="120.24" r="1.05"/><circle cx="78.67" cy="119.18" r="1.05"/><circle cx="79.95" cy="117.92" r="1.05"/><circle cx="81.24" cy="116.45" r="1.05"/><circle cx="82.52" cy="114.76" r="1.05"/><circle cx="83.81" cy="112.82" r="1.05"/><circle cx="85.09" cy="110.64" r="1.05"/><circle cx="86.37" cy="108.2" r="1.05"/><circle cx="87.66" cy="105.51" r="1.05"/><circle cx="88.94" cy="102.58" r="1.05"/><circle cx="90.23" cy="99.41" r="1.05"/><circle cx="91.51" cy="96.05" r="1.05"/><circle cx="92.79" cy="92.5" r="1.05"/><circle cx="94.08" cy="88.8" r="1.05"/><circle cx="95.36" cy="84.99" r="1.05"/><circle cx="96.65" cy="81.12" r="1.05"/><circle cx="97.93" cy="77.22" r="1.05"/><circle cx="99.21" cy="73.35" r="1.05"/><circle cx="100.5" cy="69.53" r="1.05"/><circle cx="101.78" cy="65.83" r="1.05"/><circle cx="103.07" cy="62.27" r="1.05"/><circle cx="104.35" cy="58.88" r="1.05"/><circle cx="105.63" cy="55.7" r="1.05"/><circle cx="106.92" cy="52.75" r="1.05"/><circle cx="108.2" cy="50.05" r="1.05"/><circle cx="109.49" cy="47.59" r="1.05"/><circle cx="110.77" cy="45.38" r="1.05"/><circle cx="112.05" cy="43.43" r="1.05"/><circle cx="113.34" cy="41.72" r="1.05"/><circle cx="114.62" cy="40.23" r="1.05"/><circle cx="115.91" cy="38.96" r="1.05"/><circle cx="117.19" cy="37.88" r="1.05"/><circle cx="118.47" cy="36.98" r="1.05"/><circle cx="119.76" cy="36.24" r="1.05"/><circle cx="121.04" cy="35.62" r="1.05"/><circle cx="122.33" cy="35.13" r="1.05"/><circle cx="123.61" cy="34.74" r="1.05"/><circle cx="124.89" cy="34.42" r="1.05"/><circle cx="126.18" cy="34.18" r="1.05"/><circle cx="127.46" cy="33.99" r="1.05"/><circle cx="128.75" cy="33.85" r="1.05"/><circle cx="130.03" cy="33.74" r="1.05"/><circle cx="131.31" cy="33.66" r="1.05"/><circle cx="132.6" cy="33.6" r="1.05"/><circle cx="133.88" cy="33.55" r="1.05"/><circle cx="135.17" cy="33.52" r="1.05"/><circle cx="136.45" cy="33.5" r="1.05"/><circle cx="137.73" cy="33.48" r="1.05"/></g>
<g fill="#ff0000"><circle cx="56.33" cy="124.58" r="1.2"/><circle cx="57.61" cy="124.57" r="1.2"/><circle cx="58.9" cy="124.56" r="1.2"/><circle cx="60.18" cy="124.55" r="1.2"/><circle cx="61.46" cy="124.54" r="1.2"/><circle cx="62.75" cy="124.52" r="1.2"/><circle cx="64.03" cy="124.5" r="1.2"/><circle cx="65.32" cy="124.47" r="1.2"/><circle cx="66.6" cy="124.44" r="1.2"/><circle cx="67.88" cy="124.4" r="1.2"/><circle cx="69.17" cy="124.35" r="1.2"/><circle cx="70.45" cy="124.29" r="1.2"/><circle cx="71.74" cy="124.22" r="1.2"/><circle cx="73.02" cy="124.13" r="1.2"/><circle cx="74.3" cy="124.03" r="1.2"/><circle cx="75.59" cy="123.91" r="1.2"/><circle cx="76.87" cy="123.76" r="1.2"/><circle cx="78.16" cy="123.59" r="1.2"/><circle cx="79.44" cy="123.39" r="1.2"/><circle cx="80.72" cy="123.16" r="1.2"/><circle cx="82.01" cy="122.88" r="1.2"/><circle cx="83.29" cy="122.57" r="1.2"/><circle cx="84.58" cy="122.21" r="1.2"/><circle cx="85.86" cy="121.8" r="1.2"/><circle cx="87.14" cy="121.32" r="1.2"/><circle cx="88.43" cy="120.79" r="1.2"/><circle cx="89.71" cy="120.19" r="1.2"/><circle cx="91" cy="119.49" r="1.2"/><circle cx="92.28" cy="118.47" r="1.2"/><circle cx="93.56" cy="117.3" r="1.2"/><circle cx="94.85" cy="115.97" r="1.2"/><circle cx="96.13" cy="114.46" r="1.2"/><circle cx="97.42" cy="112.78" r="1.2"/><circle cx="98.7" cy="110.93" r="1.2"/><circle cx="99.98" cy="108.96" r="1.2"/><circle cx="101.27" cy="106.82" r="1.2"/><circle cx="102.55" cy="104.52" r="1.2"/><circle cx="103.84" cy="102.05" r="1.2"/><circle cx="105.12" cy="99.29" r="1.2"/><circle cx="106.4" cy="96.35" r="1.2"/><circle cx="107.69" cy="93.28" r="1.2"/><circle cx="108.97" cy="90.08" r="1.2"/><circle cx="110.26" cy="86.8" r="1.2"/><circle cx="111.54" cy="83.44" r="1.2"/><circle cx="112.82" cy="80.05" r="1.2"/><circle cx="114.11" cy="76.65" r="1.2"/><circle cx="115.39" cy="73.27" r="1.2"/><circle cx="116.68" cy="70.05" r="1.2"/><circle cx="117.96" cy="66.9" r="1.2"/><circle cx="119.24" cy="63.65" r="1.2"/><circle cx="120.53" cy="60.54" r="1.2"/><circle cx="121.81" cy="57.75" r="1.2"/><circle cx="123.1" cy="55.14" r="1.2"/><circle cx="124.38" cy="52.99" r="1.2"/><circle cx="125.66" cy="50.98" r="1.2"/><circle cx="126.95" cy="48.4" r="1.2"/><circle cx="128.23" cy="45.82" r="1.2"/><circle cx="129.52" cy="43.57" r="1.2"/><circle cx="130.8" cy="41.6" r="1.2"/><circle cx="132.08" cy="39.91" r="1.2"/><circle cx="133.37" cy="38.51" r="1.2"/><circle cx="134.65" cy="37.35" r="1.2"/><circle cx="135.94" cy="36.4" r="1.2"/><circle cx="137.22" cy="35.65" r="1.2"/><circle cx="138.5" cy="35.07" r="1.2"/><circle cx="139.79" cy="34.63" r="1.2"/><circle cx="141.07" cy="34.29" r="1.2"/><circle cx="142.36" cy="34.04" r="1.2"/><circle cx="143.64" cy="33.86" r="1.2"/><circle cx="144.92" cy="33.73" r="1.2"/><circle cx="146.21" cy="33.64" r="1.2"/><circle cx="147.49" cy="33.57" r="1.2"/><circle cx="148.78" cy="33.53" r="1.2"/><circle cx="150.06" cy="33.5" r="1.2"/><circle cx="151.34" cy="33.48" r="1.2"/></g>
<circle cx="159.05" cy="33.45" r="0.9" fill="none" stroke="#ff0000" stroke-width="0.5"/>
<line x1="29.5" x2="168.4" y1="124.6" y2="124.6" stroke="#bbb" stroke-opacity="0.8" stroke-width="0.6" stroke-dasharray="2.9 1.6"/>
<line x1="29.5" x2="168.4" y1="33.45" y2="33.45" stroke="#bbb" stroke-opacity="0.8" stroke-width="0.6" stroke-dasharray="2.9 1.6"/>
<rect x="29.5" y="29.5" width="138.9" height="98.4" fill="none" stroke="#2a2a2a" stroke-width="0.9"/>
<path d="M29.5 124.6H25.9M34.9 127.9V131.7M29.5 106.37H25.9M60.5 127.9V131.7M29.5 88.14H25.9M86.1 127.9V131.7M29.5 69.91H25.9M111.7 127.9V131.7M29.5 51.68H25.9M137.3 127.9V131.7M29.5 33.45H25.9M162.9 127.9V131.7M34.9 127.7H162.9M29.25 124.6V33.45" stroke="#222" stroke-width="0.8" fill="none"/>
<text transform="translate(34.9,140.6) scale(0.1)" font-size="57" text-anchor="middle" stroke="#000" stroke-width="1.2" fill="#000">0</text>
<text transform="translate(20.8,124.6) rotate(-90) scale(0.1)" font-size="57" text-anchor="middle" stroke="#000" stroke-width="1.2" fill="#000">0.0</text>
<text transform="translate(60.5,140.6) scale(0.1)" font-size="57" text-anchor="middle" stroke="#000" stroke-width="1.2" fill="#000">2</text>
<text transform="translate(20.8,106.37) rotate(-90) scale(0.1)" font-size="57" text-anchor="middle" stroke="#000" stroke-width="1.2" fill="#000">0.2</text>
<text transform="translate(86.1,140.6) scale(0.1)" font-size="57" text-anchor="middle" stroke="#000" stroke-width="1.2" fill="#000">4</text>
<text transform="translate(20.8,88.14) rotate(-90) scale(0.1)" font-size="57" text-anchor="middle" stroke="#000" stroke-width="1.2" fill="#000">0.4</text>
<text transform="translate(111.7,140.6) scale(0.1)" font-size="57" text-anchor="middle" stroke="#000" stroke-width="1.2" fill="#000">6</text>
<text transform="translate(20.8,69.91) rotate(-90) scale(0.1)" font-size="57" text-anchor="middle" stroke="#000" stroke-width="1.2" fill="#000">0.6</text>
<text transform="translate(137.3,140.6) scale(0.1)" font-size="57" text-anchor="middle" stroke="#000" stroke-width="1.2" fill="#000">8</text>
<text transform="translate(20.8,51.68) rotate(-90) scale(0.1)" font-size="57" text-anchor="middle" stroke="#000" stroke-width="1.2" fill="#000">0.8</text>
<text transform="translate(162.9,140.6) scale(0.1)" font-size="57" text-anchor="middle" stroke="#000" stroke-width="1.2" fill="#000">10</text>
<text transform="translate(20.8,33.45) rotate(-90) scale(0.1)" font-size="57" text-anchor="middle" stroke="#000" stroke-width="1.2" fill="#000">1.0</text>
<text transform="translate(6.3,78.55) rotate(-90) scale(0.1)" font-size="70" text-anchor="middle" stroke="#000" stroke-width="1" fill="#000">CDF</text>
<text transform="translate(82.9,153.8) scale(0.1)" font-size="75" stroke="#000" stroke-width="1.5" fill="#000">d(ρ,</text>
<text transform="translate(98.6,153.8) scale(0.1)" font-size="75" stroke="#000" stroke-width="1.5" fill="#000">ρ</text>
<text transform="translate(102.7,155.3) scale(0.1)" font-size="51" stroke="#000" stroke-width="1" fill="#000">true</text>
<text transform="translate(112.5,153.8) scale(0.1)" font-size="75" stroke="#000" stroke-width="1.5" fill="#000">)</text>
<g stroke-width="1.4" fill="none">
<line x1="128.2" x2="138" y1="48.2" y2="48.2" stroke="#ff0000"/>
<line x1="128.2" x2="138" y1="53.97" y2="53.97" stroke="#00ff00"/>
<line x1="128.2" x2="138" y1="59.74" y2="59.74" stroke="#0000ff"/>
</g>
<text transform="translate(142,49.85) scale(0.1)" font-size="45.5" fill="#000">N = 20</text>
<text transform="translate(142,55.62) scale(0.1)" font-size="45.5" fill="#000">N = 50</text>
<text transform="translate(142,61.39) scale(0.1)" font-size="45.5" fill="#000">N = 100</text>
<g stroke="#000" stroke-width="1.3" fill="none">
<line x1="121.8" x2="131.5" y1="84.5" y2="84.5"/>
<line x1="121.8" x2="126.8" y1="90.27" y2="90.27"/>
<line x1="121.8" x2="122.8" y1="96.04" y2="96.04"/>
<line x1="126.6" x2="127.6" y1="96.04" y2="96.04"/>
<line x1="121.8" x2="122.8" y1="101.81" y2="101.81"/>
<line x1="126.6" x2="131.2" y1="101.81" y2="101.81"/>
</g>
<text transform="translate(135.3,86.15) scale(0.1)" font-size="48" fill="#000">unif prior</text>
<text transform="translate(135.3,91.92) scale(0.1)" font-size="48" fill="#000">exp(0.1) prior</text>
<text transform="translate(135.3,97.69) scale(0.1)" font-size="48" fill="#000">exp(1) prior</text>
<text transform="translate(135.3,103.46) scale(0.1)" font-size="48" fill="#000">exp(10) prior</text>
</g>
<g transform="translate(183.5,0)">
<text transform="translate(98.8,17.7) scale(0.1)" font-size="76.5" text-anchor="middle" font-weight="bold" fill="#000">IS approximated partition function, K large</text>
<line x1="29.5" x2="168.4" y1="124.6" y2="124.6" stroke="#7f7f7f" stroke-width="0.7" stroke-dasharray="2.9 1.6"/>
<line x1="29.5" x2="168.4" y1="33.45" y2="33.45" stroke="#7f7f7f" stroke-width="0.7" stroke-dasharray="2.9 1.6"/>
<line x1="34.9" x2="34.9" y1="29.5" y2="127.9" stroke="#333" stroke-width="0.9"/>
<line x1="51.19" x2="60.18" y1="124.6" y2="124.6" stroke="#00ff00" stroke-width="0.8"/>
<g fill="#00ff00"><circle cx="51.96" cy="124.57" r="1.0"/><circle cx="52.48" cy="124.56" r="1.0"/><circle cx="52.99" cy="124.55" r="1.0"/><circle cx="53.5" cy="124.53" r="1.0"/><circle cx="54.02" cy="124.5" r="1.0"/><circle cx="54.53" cy="124.47" r="1.0"/><circle cx="55.04" cy="124.42" r="1.0"/><circle cx="55.56" cy="124.37" r="1.0"/><circle cx="56.07" cy="124.29" r="1.0"/><circle cx="56.58" cy="124.2" r="1.0"/><circle cx="57.1" cy="124.09" r="1.0"/><circle cx="57.61" cy="123.94" r="1.0"/><circle cx="58.13" cy="123.76" r="1.0"/><circle cx="58.64" cy="123.53" r="1.0"/><circle cx="59.15" cy="123.26" r="1.0"/><circle cx="59.67" cy="122.93" r="1.0"/><circle cx="60.18" cy="122.53" r="1.0"/><circle cx="60.69" cy="122.05" r="1.0"/><circle cx="61.21" cy="121.48" r="1.0"/><circle cx="61.72" cy="120.82" r="1.0"/><circle cx="62.23" cy="120.04" r="1.0"/><circle cx="62.75" cy="119.14" r="1.0"/><circle cx="63.26" cy="118.11" r="1.0"/><circle cx="63.78" cy="116.93" r="1.0"/><circle cx="64.29" cy="115.6" r="1.0"/><circle cx="64.8" cy="114.11" r="1.0"/><circle cx="65.32" cy="112.45" r="1.0"/><circle cx="65.83" cy="110.62" r="1.0"/><circle cx="66.34" cy="108.62" r="1.0"/><circle cx="66.86" cy="106.44" r="1.0"/><circle cx="67.37" cy="104.1" r="1.0"/><circle cx="67.88" cy="101.59" r="1.0"/><circle cx="68.4" cy="98.92" r="1.0"/><circle cx="68.91" cy="96.12" r="1.0"/><circle cx="69.42" cy="93.19" r="1.0"/><circle cx="69.94" cy="90.16" r="1.0"/><circle cx="70.45" cy="87.04" r="1.0"/><circle cx="70.97" cy="83.86" r="1.0"/><circle cx="71.48" cy="80.64" r="1.0"/><circle cx="71.99" cy="77.41" r="1.0"/><circle cx="72.51" cy="74.19" r="1.0"/><circle cx="73.02" cy="71.01" r="1.0"/><circle cx="73.53" cy="67.89" r="1.0"/><circle cx="74.05" cy="64.86" r="1.0"/><circle cx="74.56" cy="61.93" r="1.0"/><circle cx="75.07" cy="59.13" r="1.0"/><circle cx="75.59" cy="56.46" r="1.0"/><circle cx="76.1" cy="53.95" r="1.0"/><circle cx="76.62" cy="51.61" r="1.0"/><circle cx="77.13" cy="49.43" r="1.0"/><circle cx="77.64" cy="47.43" r="1.0"/><circle cx="78.16" cy="45.6" r="1.0"/><circle cx="78.67" cy="43.94" r="1.0"/><circle cx="79.18" cy="42.45" r="1.0"/><circle cx="79.7" cy="41.12" r="1.0"/><circle cx="80.21" cy="39.94" r="1.0"/><circle cx="80.72" cy="38.91" r="1.0"/><circle cx="81.24" cy="38.01" r="1.0"/><circle cx="81.75" cy="37.23" r="1.0"/><circle cx="82.26" cy="36.57" r="1.0"/><circle cx="82.78" cy="36" r="1.0"/><circle cx="83.29" cy="35.52" r="1.0"/><circle cx="83.81" cy="35.12" r="1.0"/><circle cx="84.32" cy="34.79" r="1.0"/><circle cx="84.83" cy="34.52" r="1.0"/><circle cx="85.35" cy="34.29" r="1.0"/><circle cx="85.86" cy="34.11" r="1.0"/><circle cx="86.37" cy="33.96" r="1.0"/><circle cx="86.89" cy="33.85" r="1.0"/><circle cx="87.4" cy="33.76" r="1.0"/><circle cx="87.91" cy="33.68" r="1.0"/><circle cx="88.43" cy="33.63" r="1.0"/><circle cx="88.94" cy="33.58" r="1.0"/><circle cx="89.46" cy="33.55" r="1.0"/><circle cx="89.97" cy="33.52" r="1.0"/><circle cx="90.48" cy="33.5" r="1.0"/><circle cx="91" cy="33.49" r="1.0"/><circle cx="51.19" cy="124.58" r="1.0"/><circle cx="51.71" cy="124.57" r="1.0"/><circle cx="52.22" cy="124.56" r="1.0"/><circle cx="52.73" cy="124.54" r="1.0"/><circle cx="53.25" cy="124.52" r="1.0"/><circle cx="53.76" cy="124.49" r="1.0"/><circle cx="54.27" cy="124.46" r="1.0"/><circle cx="54.79" cy="124.41" r="1.0"/><circle cx="55.3" cy="124.35" r="1.0"/><circle cx="55.81" cy="124.27" r="1.0"/><circle cx="56.33" cy="124.18" r="1.0"/><circle cx="56.84" cy="124.05" r="1.0"/><circle cx="57.36" cy="123.9" r="1.0"/><circle cx="57.87" cy="123.71" r="1.0"/><circle cx="58.38" cy="123.47" r="1.0"/><circle cx="58.9" cy="123.18" r="1.0"/><circle cx="59.41" cy="122.83" r="1.0"/><circle cx="59.92" cy="122.41" r="1.0"/><circle cx="60.44" cy="121.92" r="1.0"/><circle cx="60.95" cy="121.32" r="1.0"/><circle cx="61.46" cy="120.63" r="1.0"/><circle cx="61.98" cy="119.83" r="1.0"/><circle cx="62.49" cy="118.89" r="1.0"/><circle cx="63" cy="117.83" r="1.0"/><circle cx="63.52" cy="116.61" r="1.0"/><circle cx="64.03" cy="115.24" r="1.0"/><circle cx="64.55" cy="113.71" r="1.0"/><circle cx="65.06" cy="112.01" r="1.0"/><circle cx="65.57" cy="110.14" r="1.0"/><circle cx="66.09" cy="108.09" r="1.0"/><circle cx="66.6" cy="105.87" r="1.0"/><circle cx="67.11" cy="103.48" r="1.0"/><circle cx="67.63" cy="100.93" r="1.0"/><circle cx="68.14" cy="98.23" r="1.0"/><circle cx="68.65" cy="95.4" r="1.0"/><circle cx="69.17" cy="92.44" r="1.0"/><circle cx="69.68" cy="89.39" r="1.0"/><circle cx="70.2" cy="86.25" r="1.0"/><circle cx="70.71" cy="83.06" r="1.0"/><circle cx="71.22" cy="79.83" r="1.0"/><circle cx="71.74" cy="76.6" r="1.0"/><circle cx="72.25" cy="73.39" r="1.0"/><circle cx="72.76" cy="70.22" r="1.0"/><circle cx="73.28" cy="67.12" r="1.0"/><circle cx="73.79" cy="64.12" r="1.0"/><circle cx="74.3" cy="61.22" r="1.0"/><circle cx="74.82" cy="58.45" r="1.0"/><circle cx="75.33" cy="55.82" r="1.0"/><circle cx="75.84" cy="53.35" r="1.0"/><circle cx="76.36" cy="51.05" r="1.0"/><circle cx="76.87" cy="48.91" r="1.0"/><circle cx="77.39" cy="46.95" r="1.0"/><circle cx="77.9" cy="45.17" r="1.0"/><circle cx="78.41" cy="43.55" r="1.0"/><circle cx="78.93" cy="42.1" r="1.0"/><circle cx="79.44" cy="40.81" r="1.0"/><circle cx="79.95" cy="39.67" r="1.0"/><circle cx="80.47" cy="38.67" r="1.0"/><circle cx="80.98" cy="37.81" r="1.0"/><circle cx="81.49" cy="37.06" r="1.0"/><circle cx="82.01" cy="36.42" r="1.0"/><circle cx="82.52" cy="35.87" r="1.0"/><circle cx="83.04" cy="35.42" r="1.0"/><circle cx="83.55" cy="35.03" r="1.0"/><circle cx="84.06" cy="34.72" r="1.0"/><circle cx="84.58" cy="34.46" r="1.0"/><circle cx="85.09" cy="34.24" r="1.0"/><circle cx="85.6" cy="34.07" r="1.0"/><circle cx="86.12" cy="33.93" r="1.0"/><circle cx="86.63" cy="33.82" r="1.0"/><circle cx="87.14" cy="33.74" r="1.0"/><circle cx="87.66" cy="33.67" r="1.0"/><circle cx="88.17" cy="33.61" r="1.0"/><circle cx="88.68" cy="33.57" r="1.0"/><circle cx="89.2" cy="33.54" r="1.0"/><circle cx="89.71" cy="33.52" r="1.0"/><circle cx="90.23" cy="33.5" r="1.0"/><circle cx="90.74" cy="33.49" r="1.0"/></g>
<line x1="83.29" x2="106.4" y1="33.45" y2="33.45" stroke="#00ff00" stroke-width="0.5" stroke-opacity="0.7"/>
<g fill="#0000ff"><circle cx="50.16" cy="124.58" r="0.9"/><circle cx="50.42" cy="124.57" r="0.9"/><circle cx="50.68" cy="124.57" r="0.9"/><circle cx="50.94" cy="124.56" r="0.9"/><circle cx="51.19" cy="124.56" r="0.9"/><circle cx="51.45" cy="124.55" r="0.9"/><circle cx="51.71" cy="124.54" r="0.9"/><circle cx="51.96" cy="124.53" r="0.9"/><circle cx="52.22" cy="124.52" r="0.9"/><circle cx="52.48" cy="124.51" r="0.9"/><circle cx="52.73" cy="124.49" r="0.9"/><circle cx="52.99" cy="124.48" r="0.9"/><circle cx="53.25" cy="124.46" r="0.9"/><circle cx="53.5" cy="124.44" r="0.9"/><circle cx="53.76" cy="124.41" r="0.9"/><circle cx="54.02" cy="124.38" r="0.9"/><circle cx="54.27" cy="124.35" r="0.9"/><circle cx="54.53" cy="124.31" r="0.9"/><circle cx="54.79" cy="124.27" r="0.9"/><circle cx="55.04" cy="124.23" r="0.9"/><circle cx="55.3" cy="124.18" r="0.9"/><circle cx="55.56" cy="124.12" r="0.9"/><circle cx="55.81" cy="124.05" r="0.9"/><circle cx="56.07" cy="123.98" r="0.9"/><circle cx="56.33" cy="123.9" r="0.9"/><circle cx="56.58" cy="123.81" r="0.9"/><circle cx="56.84" cy="123.71" r="0.9"/><circle cx="57.1" cy="123.59" r="0.9"/><circle cx="57.36" cy="123.47" r="0.9"/><circle cx="57.61" cy="123.33" r="0.9"/><circle cx="57.87" cy="123.18" r="0.9"/><circle cx="58.13" cy="123.02" r="0.9"/><circle cx="58.38" cy="122.83" r="0.9"/><circle cx="58.64" cy="122.63" r="0.9"/><circle cx="58.9" cy="122.41" r="0.9"/><circle cx="59.15" cy="122.18" r="0.9"/><circle cx="59.41" cy="121.92" r="0.9"/><circle cx="59.67" cy="121.63" r="0.9"/><circle cx="59.92" cy="121.32" r="0.9"/><circle cx="60.18" cy="120.99" r="0.9"/><circle cx="60.44" cy="120.63" r="0.9"/><circle cx="60.69" cy="120.24" r="0.9"/><circle cx="60.95" cy="119.83" r="0.9"/><circle cx="61.21" cy="119.38" r="0.9"/><circle cx="61.46" cy="118.89" r="0.9"/><circle cx="61.72" cy="118.38" r="0.9"/><circle cx="61.98" cy="117.83" r="0.9"/><circle cx="62.23" cy="117.24" r="0.9"/><circle cx="62.49" cy="116.61" r="0.9"/><circle cx="62.75" cy="115.95" r="0.9"/><circle cx="63" cy="115.24" r="0.9"/><circle cx="63.26" cy="114.5" r="0.9"/><circle cx="63.52" cy="113.71" r="0.9"/><circle cx="63.78" cy="112.88" r="0.9"/><circle cx="64.03" cy="112.01" r="0.9"/><circle cx="64.29" cy="111.1" r="0.9"/><circle cx="64.55" cy="110.14" r="0.9"/><circle cx="64.8" cy="109.14" r="0.9"/><circle cx="65.06" cy="108.09" r="0.9"/><circle cx="65.32" cy="107" r="0.9"/><circle cx="65.57" cy="105.87" r="0.9"/><circle cx="65.83" cy="104.7" r="0.9"/><circle cx="66.09" cy="103.48" r="0.9"/><circle cx="66.34" cy="102.23" r="0.9"/><circle cx="66.6" cy="100.93" r="0.9"/><circle cx="66.86" cy="99.6" r="0.9"/><circle cx="67.11" cy="98.23" r="0.9"/><circle cx="67.37" cy="96.83" r="0.9"/><circle cx="67.63" cy="95.4" r="0.9"/><circle cx="67.88" cy="93.93" r="0.9"/><circle cx="68.14" cy="92.44" r="0.9"/><circle cx="68.4" cy="90.93" r="0.9"/><circle cx="68.65" cy="89.39" r="0.9"/><circle cx="68.91" cy="87.83" r="0.9"/><circle cx="69.17" cy="86.25" r="0.9"/><circle cx="69.42" cy="84.66" r="0.9"/><circle cx="69.68" cy="83.06" r="0.9"/><circle cx="69.94" cy="81.45" r="0.9"/><circle cx="70.2" cy="79.83" r="0.9"/><circle cx="70.45" cy="78.22" r="0.9"/><circle cx="70.71" cy="76.6" r="0.9"/><circle cx="70.97" cy="74.99" r="0.9"/><circle cx="71.22" cy="73.39" r="0.9"/><circle cx="71.48" cy="71.8" r="0.9"/><circle cx="71.74" cy="70.22" r="0.9"/><circle cx="71.99" cy="68.66" r="0.9"/><circle cx="72.25" cy="67.12" r="0.9"/><circle cx="72.51" cy="65.61" r="0.9"/><circle cx="72.76" cy="64.12" r="0.9"/><circle cx="73.02" cy="62.65" r="0.9"/><circle cx="73.28" cy="61.22" r="0.9"/><circle cx="73.53" cy="59.82" r="0.9"/><circle cx="73.79" cy="58.45" r="0.9"/><circle cx="74.05" cy="57.12" r="0.9"/><circle cx="74.3" cy="55.82" r="0.9"/><circle cx="74.56" cy="54.57" r="0.9"/><circle cx="74.82" cy="53.35" r="0.9"/><circle cx="75.07" cy="52.18" r="0.9"/><circle cx="75.33" cy="51.05" r="0.9"/><circle cx="75.59" cy="49.96" r="0.9"/><circle cx="75.84" cy="48.91" r="0.9"/><circle cx="76.1" cy="47.91" r="0.9"/><circle cx="76.36" cy="46.95" r="0.9"/><circle cx="76.62" cy="46.04" r="0.9"/><circle cx="76.87" cy="45.17" r="0.9"/><circle cx="77.13" cy="44.34" r="0.9"/><circle cx="77.39" cy="43.55" r="0.9"/><circle cx="77.64" cy="42.81" r="0.9"/><circle cx="77.9" cy="42.1" r="0.9"/><circle cx="78.16" cy="41.44" r="0.9"/><circle cx="78.41" cy="40.81" r="0.9"/><circle cx="78.67" cy="40.22" r="0.9"/><circle cx="78.93" cy="39.67" r="0.9"/><circle cx="79.18" cy="39.16" r="0.9"/><circle cx="79.44" cy="38.67" r="0.9"/><circle cx="79.7" cy="38.22" r="0.9"/><circle cx="79.95" cy="37.81" r="0.9"/><circle cx="80.21" cy="37.42" r="0.9"/><circle cx="80.47" cy="37.06" r="0.9"/><circle cx="80.72" cy="36.73" r="0.9"/><circle cx="80.98" cy="36.42" r="0.9"/><circle cx="81.24" cy="36.13" r="0.9"/><circle cx="81.49" cy="35.87" r="0.9"/><circle cx="81.75" cy="35.64" r="0.9"/><circle cx="82.01" cy="35.42" r="0.9"/><circle cx="82.26" cy="35.22" r="0.9"/><circle cx="82.52" cy="35.03" r="0.9"/><circle cx="82.78" cy="34.87" r="0.9"/><circle cx="83.04" cy="34.72" r="0.9"/><circle cx="83.29" cy="34.58" r="0.9"/><circle cx="83.55" cy="34.46" r="0.9"/><circle cx="83.81" cy="34.34" r="0.9"/><circle cx="84.06" cy="34.24" r="0.9"/><circle cx="84.32" cy="34.15" r="0.9"/><circle cx="84.58" cy="34.07" r="0.9"/><circle cx="84.83" cy="34" r="0.9"/><circle cx="85.09" cy="33.93" r="0.9"/><circle cx="85.35" cy="33.87" r="0.9"/><circle cx="85.6" cy="33.82" r="0.9"/><circle cx="85.86" cy="33.78" r="0.9"/><circle cx="86.12" cy="33.74" r="0.9"/><circle cx="86.37" cy="33.7" r="0.9"/><circle cx="86.63" cy="33.67" r="0.9"/><circle cx="86.89" cy="33.64" r="0.9"/><circle cx="87.14" cy="33.61" r="0.9"/><circle cx="87.4" cy="33.59" r="0.9"/><circle cx="87.66" cy="33.57" r="0.9"/><circle cx="87.91" cy="33.56" r="0.9"/><circle cx="88.17" cy="33.54" r="0.9"/><circle cx="88.43" cy="33.53" r="0.9"/><circle cx="88.68" cy="33.52" r="0.9"/><circle cx="88.94" cy="33.51" r="0.9"/><circle cx="89.2" cy="33.5" r="0.9"/><circle cx="89.46" cy="33.49" r="0.9"/><circle cx="89.71" cy="33.49" r="0.9"/><circle cx="50.55" cy="124.58" r="0.9"/><circle cx="50.81" cy="124.57" r="0.9"/><circle cx="51.06" cy="124.57" r="0.9"/><circle cx="51.32" cy="124.56" r="0.9"/><circle cx="51.58" cy="124.56" r="0.9"/><circle cx="51.83" cy="124.55" r="0.9"/><circle cx="52.09" cy="124.54" r="0.9"/><circle cx="52.35" cy="124.53" r="0.9"/><circle cx="52.6" cy="124.52" r="0.9"/><circle cx="52.86" cy="124.51" r="0.9"/><circle cx="53.12" cy="124.49" r="0.9"/><circle cx="53.37" cy="124.48" r="0.9"/><circle cx="53.63" cy="124.46" r="0.9"/><circle cx="53.89" cy="124.44" r="0.9"/><circle cx="54.15" cy="124.41" r="0.9"/><circle cx="54.4" cy="124.38" r="0.9"/><circle cx="54.66" cy="124.35" r="0.9"/><circle cx="54.92" cy="124.31" r="0.9"/><circle cx="55.17" cy="124.27" r="0.9"/><circle cx="55.43" cy="124.23" r="0.9"/><circle cx="55.69" cy="124.18" r="0.9"/><circle cx="55.94" cy="124.12" r="0.9"/><circle cx="56.2" cy="124.05" r="0.9"/><circle cx="56.46" cy="123.98" r="0.9"/><circle cx="56.71" cy="123.9" r="0.9"/><circle cx="56.97" cy="123.81" r="0.9"/><circle cx="57.23" cy="123.71" r="0.9"/><circle cx="57.48" cy="123.59" r="0.9"/><circle cx="57.74" cy="123.47" r="0.9"/><circle cx="58" cy="123.33" r="0.9"/><circle cx="58.25" cy="123.18" r="0.9"/><circle cx="58.51" cy="123.02" r="0.9"/><circle cx="58.77" cy="122.83" r="0.9"/><circle cx="59.02" cy="122.63" r="0.9"/><circle cx="59.28" cy="122.41" r="0.9"/><circle cx="59.54" cy="122.18" r="0.9"/><circle cx="59.79" cy="121.92" r="0.9"/><circle cx="60.05" cy="121.63" r="0.9"/><circle cx="60.31" cy="121.32" r="0.9"/><circle cx="60.57" cy="120.99" r="0.9"/><circle cx="60.82" cy="120.63" r="0.9"/><circle cx="61.08" cy="120.24" r="0.9"/><circle cx="61.34" cy="119.83" r="0.9"/><circle cx="61.59" cy="119.38" r="0.9"/><circle cx="61.85" cy="118.89" r="0.9"/><circle cx="62.11" cy="118.38" r="0.9"/><circle cx="62.36" cy="117.83" r="0.9"/><circle cx="62.62" cy="117.24" r="0.9"/><circle cx="62.88" cy="116.61" r="0.9"/><circle cx="63.13" cy="115.95" r="0.9"/><circle cx="63.39" cy="115.24" r="0.9"/><circle cx="63.65" cy="114.5" r="0.9"/><circle cx="63.9" cy="113.71" r="0.9"/><circle cx="64.16" cy="112.88" r="0.9"/><circle cx="64.42" cy="112.01" r="0.9"/><circle cx="64.67" cy="111.1" r="0.9"/><circle cx="64.93" cy="110.14" r="0.9"/><circle cx="65.19" cy="109.14" r="0.9"/><circle cx="65.44" cy="108.09" r="0.9"/><circle cx="65.7" cy="107" r="0.9"/><circle cx="65.96" cy="105.87" r="0.9"/><circle cx="66.21" cy="104.7" r="0.9"/><circle cx="66.47" cy="103.48" r="0.9"/><circle cx="66.73" cy="102.23" r="0.9"/><circle cx="66.99" cy="100.93" r="0.9"/><circle cx="67.24" cy="99.6" r="0.9"/><circle cx="67.5" cy="98.23" r="0.9"/><circle cx="67.76" cy="96.83" r="0.9"/><circle cx="68.01" cy="95.4" r="0.9"/><circle cx="68.27" cy="93.93" r="0.9"/><circle cx="68.53" cy="92.44" r="0.9"/><circle cx="68.78" cy="90.93" r="0.9"/><circle cx="69.04" cy="89.39" r="0.9"/><circle cx="69.3" cy="87.83" r="0.9"/><circle cx="69.55" cy="86.25" r="0.9"/><circle cx="69.81" cy="84.66" r="0.9"/><circle cx="70.07" cy="83.06" r="0.9"/><circle cx="70.32" cy="81.45" r="0.9"/><circle cx="70.58" cy="79.83" r="0.9"/><circle cx="70.84" cy="78.22" r="0.9"/><circle cx="71.09" cy="76.6" r="0.9"/><circle cx="71.35" cy="74.99" r="0.9"/><circle cx="71.61" cy="73.39" r="0.9"/><circle cx="71.86" cy="71.8" r="0.9"/><circle cx="72.12" cy="70.22" r="0.9"/><circle cx="72.38" cy="68.66" r="0.9"/><circle cx="72.63" cy="67.12" r="0.9"/><circle cx="72.89" cy="65.61" r="0.9"/><circle cx="73.15" cy="64.12" r="0.9"/><circle cx="73.41" cy="62.65" r="0.9"/><circle cx="73.66" cy="61.22" r="0.9"/><circle cx="73.92" cy="59.82" r="0.9"/><circle cx="74.18" cy="58.45" r="0.9"/><circle cx="74.43" cy="57.12" r="0.9"/><circle cx="74.69" cy="55.82" r="0.9"/><circle cx="74.95" cy="54.57" r="0.9"/><circle cx="75.2" cy="53.35" r="0.9"/><circle cx="75.46" cy="52.18" r="0.9"/><circle cx="75.72" cy="51.05" r="0.9"/><circle cx="75.97" cy="49.96" r="0.9"/><circle cx="76.23" cy="48.91" r="0.9"/><circle cx="76.49" cy="47.91" r="0.9"/><circle cx="76.74" cy="46.95" r="0.9"/><circle cx="77" cy="46.04" r="0.9"/><circle cx="77.26" cy="45.17" r="0.9"/><circle cx="77.51" cy="44.34" r="0.9"/><circle cx="77.77" cy="43.55" r="0.9"/><circle cx="78.03" cy="42.81" r="0.9"/><circle cx="78.28" cy="42.1" r="0.9"/><circle cx="78.54" cy="41.44" r="0.9"/><circle cx="78.8" cy="40.81" r="0.9"/><circle cx="79.05" cy="40.22" r="0.9"/><circle cx="79.31" cy="39.67" r="0.9"/><circle cx="79.57" cy="39.16" r="0.9"/><circle cx="79.83" cy="38.67" r="0.9"/><circle cx="80.08" cy="38.22" r="0.9"/><circle cx="80.34" cy="37.81" r="0.9"/><circle cx="80.6" cy="37.42" r="0.9"/><circle cx="80.85" cy="37.06" r="0.9"/><circle cx="81.11" cy="36.73" r="0.9"/><circle cx="81.37" cy="36.42" r="0.9"/><circle cx="81.62" cy="36.13" r="0.9"/><circle cx="81.88" cy="35.87" r="0.9"/><circle cx="82.14" cy="35.64" r="0.9"/><circle cx="82.39" cy="35.42" r="0.9"/><circle cx="82.65" cy="35.22" r="0.9"/><circle cx="82.91" cy="35.03" r="0.9"/><circle cx="83.16" cy="34.87" r="0.9"/><circle cx="83.42" cy="34.72" r="0.9"/><circle cx="83.68" cy="34.58" r="0.9"/><circle cx="83.93" cy="34.46" r="0.9"/><circle cx="84.19" cy="34.34" r="0.9"/><circle cx="84.45" cy="34.24" r="0.9"/><circle cx="84.7" cy="34.15" r="0.9"/><circle cx="84.96" cy="34.07" r="0.9"/><circle cx="85.22" cy="34" r="0.9"/><circle cx="85.47" cy="33.93" r="0.9"/><circle cx="85.73" cy="33.87" r="0.9"/><circle cx="85.99" cy="33.82" r="0.9"/><circle cx="86.25" cy="33.78" r="0.9"/><circle cx="86.5" cy="33.74" r="0.9"/><circle cx="86.76" cy="33.7" r="0.9"/><circle cx="87.02" cy="33.67" r="0.9"/><circle cx="87.27" cy="33.64" r="0.9"/><circle cx="87.53" cy="33.61" r="0.9"/><circle cx="87.79" cy="33.59" r="0.9"/><circle cx="88.04" cy="33.57" r="0.9"/><circle cx="88.3" cy="33.56" r="0.9"/><circle cx="88.56" cy="33.54" r="0.9"/><circle cx="88.81" cy="33.53" r="0.9"/><circle cx="89.07" cy="33.52" r="0.9"/><circle cx="89.33" cy="33.51" r="0.9"/><circle cx="89.58" cy="33.5" r="0.9"/><circle cx="89.84" cy="33.49" r="0.9"/><circle cx="90.1" cy="33.49" r="0.9"/><circle cx="90.35" cy="33.48" r="0.9"/></g>
<g fill="#0000ff"><circle cx="55.69" cy="124.09" r="1.8"/><circle cx="56.97" cy="123.65" r="1.8"/><circle cx="58.25" cy="122.93" r="1.8"/><circle cx="59.54" cy="121.78" r="1.8"/><circle cx="60.82" cy="120.04" r="1.8"/><circle cx="62.11" cy="117.54" r="1.8"/><circle cx="63.39" cy="114.11" r="1.8"/><circle cx="64.67" cy="109.64" r="1.8"/><circle cx="65.96" cy="104.1" r="1.8"/><circle cx="67.24" cy="97.54" r="1.8"/><circle cx="68.53" cy="90.16" r="1.8"/><circle cx="69.81" cy="82.25" r="1.8"/><circle cx="71.09" cy="74.19" r="1.8"/><circle cx="72.38" cy="66.36" r="1.8"/><circle cx="73.66" cy="59.13" r="1.8"/><circle cx="74.95" cy="52.76" r="1.8"/><circle cx="76.23" cy="47.43" r="1.8"/><circle cx="77.51" cy="43.17" r="1.8"/><circle cx="78.8" cy="39.94" r="1.8"/><circle cx="80.08" cy="37.61" r="1.8"/><circle cx="81.37" cy="36" r="1.8"/><circle cx="82.65" cy="34.95" r="1.8"/><circle cx="83.93" cy="34.29" r="1.8"/><circle cx="85.22" cy="33.9" r="1.8"/></g>
<line x1="43.49" x2="55.04" y1="124.6" y2="124.6" stroke="#0000ff" stroke-width="0.7"/>
<line x1="82.01" x2="97.67" y1="33.45" y2="33.45" stroke="#0000ff" stroke-width="2.0" stroke-linecap="round"/>
<g fill="#00ff00"><circle cx="101.14" cy="33.45" r="1.0"/></g>
<circle cx="96.77" cy="33.45" r="1.0" fill="#0000ff"/>
<circle cx="101.14" cy="33.45" r="0.45" fill="#0000ff"/>
<circle cx="106.15" cy="33.45" r="0.55" fill="#00ff00" fill-opacity="0.6"/>
<polygon points="67.88,123.99 68.53,123.89 69.17,123.78 69.81,123.65 70.45,123.51 71.09,123.34 71.74,123.16 72.38,122.95 73.02,122.72 73.66,122.46 74.3,122.17 74.95,121.84 75.59,121.49 76.23,121.1 76.87,120.66 77.51,120.19 78.16,119.67 78.8,119.1 79.44,118.48 80.08,117.82 80.72,117.09 81.37,116.31 82.01,115.44 82.65,114.45 83.29,113.39 83.93,112.25 84.58,111.03 85.22,109.74 85.86,108.37 86.5,106.93 87.14,105.41 87.79,103.81 88.43,102.15 89.07,100.41 89.71,98.61 90.35,96.74 91,94.82 91.64,92.85 92.28,90.83 92.92,88.77 93.56,86.68 94.21,84.56 94.85,82.42 95.49,80.27 96.13,78.12 96.77,75.97 97.42,73.83 98.06,71.71 98.7,69.61 99.34,67.55 99.98,65.52 100.63,63.54 101.27,61.61 101.91,59.74 102.55,57.93 103.19,56.18 103.84,54.5 104.48,52.89 105.12,51.36 105.76,49.9 106.4,48.52 107.05,47.22 107.69,45.99 108.33,44.84 108.97,43.77 109.61,42.77 110.26,41.84 110.9,40.98 111.54,40.19 112.18,39.47 112.82,38.81 113.47,38.2 114.11,37.65 114.75,37.16 115.39,36.71 116.03,36.31 116.68,35.95 117.32,35.62 117.96,35.34 118.6,35.09 119.24,34.86 119.89,34.66 120.53,34.49 121.17,34.34 121.81,34.21 122.45,34.09 123.1,34 123.74,33.91 124.38,33.84 125.02,33.77 125.66,33.72 126.31,33.68 126.95,33.64 127.59,33.61 127.59,33.91 126.95,33.99 126.31,34.08 125.66,34.18 125.02,34.3 124.38,34.43 123.74,34.58 123.1,34.75 122.45,34.94 121.81,35.15 121.17,35.39 120.53,35.66 119.89,35.96 119.24,36.29 118.6,36.65 117.96,37.05 117.32,37.5 116.68,37.98 116.03,38.51 115.39,39.09 114.75,39.72 114.11,40.4 113.47,41.14 112.82,41.93 112.18,42.79 111.54,43.7 110.9,44.67 110.26,45.71 109.61,46.82 108.97,47.98 108.33,49.22 107.69,50.51 107.05,51.87 106.4,53.3 105.76,54.78 105.12,56.33 104.48,57.93 103.84,59.59 103.19,61.3 102.55,63.05 101.91,64.85 101.27,66.69 100.63,68.56 99.98,70.47 99.34,72.4 98.7,74.34 98.06,76.31 97.42,78.28 96.77,80.25 96.13,82.22 95.49,84.17 94.85,86.12 94.21,88.04 93.56,89.94 92.92,91.8 92.28,93.63 91.64,95.42 91,97.17 90.35,98.87 89.71,100.51 89.07,102.1 88.43,103.63 87.79,105.1 87.14,106.51 86.5,107.85 85.86,109.14 85.22,110.35 84.58,111.5 83.93,112.59 83.29,113.62 82.65,114.58 82.01,115.47 81.37,116.35 80.72,117.2 80.08,117.98 79.44,118.69 78.8,119.34 78.16,119.94 77.51,120.48 76.87,120.97 76.23,121.41 75.59,121.8 74.95,122.16 74.3,122.47 73.66,122.75 73.02,123 72.38,123.22 71.74,123.42 71.09,123.58 70.45,123.73 69.81,123.86 69.17,123.97 68.53,124.07 67.88,124.15" fill="#ff0000" stroke="#ff0000" stroke-width="1.5" stroke-linejoin="round"/>
<line x1="60.18" x2="85.86" y1="124.6" y2="124.6" stroke="#ff0000" stroke-width="0.7"/>
<line x1="124.38" x2="168.4" y1="33.45" y2="33.45" stroke="#ff0000" stroke-width="0.7"/>
<g fill="#ff0000"><circle cx="58.9" cy="124.57" r="1.05"/><circle cx="60.18" cy="124.55" r="1.05"/><circle cx="61.46" cy="124.53" r="1.05"/><circle cx="62.75" cy="124.5" r="1.05"/><circle cx="64.03" cy="124.45" r="1.05"/><circle cx="65.32" cy="124.38" r="1.05"/><circle cx="66.6" cy="124.28" r="1.05"/><circle cx="67.88" cy="124.15" r="1.05"/><circle cx="69.17" cy="123.97" r="1.05"/><circle cx="70.45" cy="123.73" r="1.05"/><circle cx="71.74" cy="123.42" r="1.05"/><circle cx="73.02" cy="123" r="1.05"/><circle cx="74.3" cy="122.47" r="1.05"/><circle cx="75.59" cy="121.8" r="1.05"/><circle cx="76.87" cy="120.97" r="1.05"/><circle cx="78.16" cy="119.94" r="1.05"/><circle cx="79.44" cy="118.69" r="1.05"/><circle cx="80.72" cy="117.2" r="1.05"/><circle cx="82.01" cy="115.44" r="1.05"/><circle cx="83.29" cy="113.39" r="1.05"/><circle cx="84.58" cy="111.03" r="1.05"/><circle cx="85.86" cy="108.37" r="1.05"/><circle cx="87.14" cy="105.41" r="1.05"/><circle cx="88.43" cy="102.15" r="1.05"/><circle cx="89.71" cy="98.61" r="1.05"/><circle cx="91" cy="94.82" r="1.05"/><circle cx="92.28" cy="90.83" r="1.05"/><circle cx="93.56" cy="86.68" r="1.05"/><circle cx="94.85" cy="82.42" r="1.05"/><circle cx="96.13" cy="78.12" r="1.05"/><circle cx="97.42" cy="73.83" r="1.05"/><circle cx="98.7" cy="69.61" r="1.05"/><circle cx="99.98" cy="65.52" r="1.05"/><circle cx="101.27" cy="61.61" r="1.05"/><circle cx="102.55" cy="57.93" r="1.05"/><circle cx="103.84" cy="54.5" r="1.05"/><circle cx="105.12" cy="51.36" r="1.05"/><circle cx="106.4" cy="48.52" r="1.05"/><circle cx="107.69" cy="45.99" r="1.05"/><circle cx="108.97" cy="43.77" r="1.05"/><circle cx="110.26" cy="41.84" r="1.05"/><circle cx="111.54" cy="40.19" r="1.05"/><circle cx="112.82" cy="38.81" r="1.05"/><circle cx="114.11" cy="37.65" r="1.05"/><circle cx="115.39" cy="36.71" r="1.05"/><circle cx="116.68" cy="35.95" r="1.05"/><circle cx="117.96" cy="35.34" r="1.05"/><circle cx="119.24" cy="34.86" r="1.05"/><circle cx="120.53" cy="34.49" r="1.05"/><circle cx="121.81" cy="34.21" r="1.05"/><circle cx="123.1" cy="34" r="1.05"/><circle cx="124.38" cy="33.84" r="1.05"/><circle cx="125.66" cy="33.72" r="1.05"/><circle cx="126.95" cy="33.64" r="1.05"/><circle cx="128.23" cy="33.58" r="1.05"/><circle cx="129.52" cy="33.54" r="1.05"/><circle cx="130.8" cy="33.51" r="1.05"/><circle cx="132.08" cy="33.49" r="1.05"/><circle cx="58.25" cy="124.57" r="1.05"/><circle cx="59.54" cy="124.56" r="1.05"/><circle cx="60.82" cy="124.54" r="1.05"/><circle cx="62.11" cy="124.51" r="1.05"/><circle cx="63.39" cy="124.46" r="1.05"/><circle cx="64.67" cy="124.4" r="1.05"/><circle cx="65.96" cy="124.31" r="1.05"/><circle cx="67.24" cy="124.19" r="1.05"/><circle cx="68.53" cy="124.03" r="1.05"/><circle cx="69.81" cy="123.82" r="1.05"/><circle cx="71.09" cy="123.54" r="1.05"/><circle cx="72.38" cy="123.17" r="1.05"/><circle cx="73.66" cy="122.69" r="1.05"/><circle cx="74.95" cy="122.1" r="1.05"/><circle cx="76.23" cy="121.35" r="1.05"/><circle cx="77.51" cy="120.43" r="1.05"/><circle cx="78.8" cy="119.31" r="1.05"/><circle cx="80.08" cy="117.97" r="1.05"/><circle cx="81.37" cy="116.38" r="1.05"/><circle cx="82.65" cy="114.52" r="1.05"/><circle cx="83.93" cy="112.38" r="1.05"/><circle cx="85.22" cy="109.95" r="1.05"/><circle cx="86.5" cy="107.22" r="1.05"/><circle cx="87.79" cy="104.2" r="1.05"/><circle cx="89.07" cy="100.9" r="1.05"/><circle cx="90.35" cy="97.35" r="1.05"/><circle cx="91.64" cy="93.57" r="1.05"/><circle cx="92.92" cy="89.61" r="1.05"/><circle cx="94.21" cy="85.51" r="1.05"/><circle cx="95.49" cy="81.32" r="1.05"/><circle cx="96.77" cy="77.11" r="1.05"/><circle cx="98.06" cy="72.92" r="1.05"/><circle cx="99.34" cy="68.81" r="1.05"/><circle cx="100.63" cy="64.83" r="1.05"/><circle cx="101.91" cy="61.04" r="1.05"/><circle cx="103.19" cy="57.46" r="1.05"/><circle cx="104.48" cy="54.14" r="1.05"/><circle cx="105.76" cy="51.09" r="1.05"/><circle cx="107.05" cy="48.34" r="1.05"/><circle cx="108.33" cy="45.88" r="1.05"/><circle cx="109.61" cy="43.71" r="1.05"/><circle cx="110.9" cy="41.83" r="1.05"/><circle cx="112.18" cy="40.22" r="1.05"/><circle cx="113.47" cy="38.85" r="1.05"/><circle cx="114.75" cy="37.71" r="1.05"/><circle cx="116.03" cy="36.78" r="1.05"/><circle cx="117.32" cy="36.01" r="1.05"/><circle cx="118.6" cy="35.4" r="1.05"/><circle cx="119.89" cy="34.92" r="1.05"/><circle cx="121.17" cy="34.54" r="1.05"/><circle cx="122.45" cy="34.25" r="1.05"/><circle cx="123.74" cy="34.03" r="1.05"/><circle cx="125.02" cy="33.87" r="1.05"/><circle cx="126.31" cy="33.75" r="1.05"/><circle cx="127.59" cy="33.66" r="1.05"/><circle cx="128.87" cy="33.59" r="1.05"/><circle cx="130.16" cy="33.55" r="1.05"/><circle cx="131.44" cy="33.52" r="1.05"/><circle cx="132.73" cy="33.49" r="1.05"/><circle cx="57.87" cy="124.57" r="1.05"/><circle cx="59.15" cy="124.56" r="1.05"/><circle cx="60.44" cy="124.54" r="1.05"/><circle cx="61.72" cy="124.51" r="1.05"/><circle cx="63" cy="124.46" r="1.05"/><circle cx="64.29" cy="124.4" r="1.05"/><circle cx="65.57" cy="124.32" r="1.05"/><circle cx="66.86" cy="124.21" r="1.05"/><circle cx="68.14" cy="124.05" r="1.05"/><circle cx="69.42" cy="123.85" r="1.05"/><circle cx="70.71" cy="123.58" r="1.05"/><circle cx="71.99" cy="123.23" r="1.05"/><circle cx="73.28" cy="122.79" r="1.05"/><circle cx="74.56" cy="122.23" r="1.05"/><circle cx="75.84" cy="121.53" r="1.05"/><circle cx="77.13" cy="120.67" r="1.05"/><circle cx="78.41" cy="119.63" r="1.05"/><circle cx="79.7" cy="118.38" r="1.05"/><circle cx="80.98" cy="116.89" r="1.05"/><circle cx="82.26" cy="115.16" r="1.05"/><circle cx="83.55" cy="113.16" r="1.05"/><circle cx="84.83" cy="110.88" r="1.05"/><circle cx="86.12" cy="108.31" r="1.05"/><circle cx="87.4" cy="105.47" r="1.05"/><circle cx="88.68" cy="102.35" r="1.05"/><circle cx="89.97" cy="98.98" r="1.05"/><circle cx="91.25" cy="95.37" r="1.05"/><circle cx="92.54" cy="91.57" r="1.05"/><circle cx="93.82" cy="87.62" r="1.05"/><circle cx="95.1" cy="83.56" r="1.05"/><circle cx="96.39" cy="79.44" r="1.05"/><circle cx="97.67" cy="75.31" r="1.05"/><circle cx="98.96" cy="71.23" r="1.05"/><circle cx="100.24" cy="67.25" r="1.05"/><circle cx="101.52" cy="63.42" r="1.05"/><circle cx="102.81" cy="59.78" r="1.05"/><circle cx="104.09" cy="56.35" r="1.05"/><circle cx="105.38" cy="53.18" r="1.05"/><circle cx="106.66" cy="50.28" r="1.05"/><circle cx="107.94" cy="47.66" r="1.05"/><circle cx="109.23" cy="45.33" r="1.05"/><circle cx="110.51" cy="43.27" r="1.05"/><circle cx="111.8" cy="41.48" r="1.05"/><circle cx="113.08" cy="39.95" r="1.05"/><circle cx="114.36" cy="38.66" r="1.05"/><circle cx="115.65" cy="37.57" r="1.05"/><circle cx="116.93" cy="36.68" r="1.05"/><circle cx="118.22" cy="35.95" r="1.05"/><circle cx="119.5" cy="35.36" r="1.05"/><circle cx="120.78" cy="34.9" r="1.05"/><circle cx="122.07" cy="34.53" r="1.05"/><circle cx="123.35" cy="34.25" r="1.05"/><circle cx="124.64" cy="34.03" r="1.05"/><circle cx="125.92" cy="33.87" r="1.05"/><circle cx="127.2" cy="33.75" r="1.05"/><circle cx="128.49" cy="33.66" r="1.05"/><circle cx="129.77" cy="33.6" r="1.05"/><circle cx="131.06" cy="33.55" r="1.05"/><circle cx="132.34" cy="33.52" r="1.05"/><circle cx="133.62" cy="33.5" r="1.05"/><circle cx="134.91" cy="33.48" r="1.05"/><circle cx="57.23" cy="124.57" r="1.05"/><circle cx="58.51" cy="124.56" r="1.05"/><circle cx="59.79" cy="124.54" r="1.05"/><circle cx="61.08" cy="124.51" r="1.05"/><circle cx="62.36" cy="124.47" r="1.05"/><circle cx="63.65" cy="124.41" r="1.05"/><circle cx="64.93" cy="124.34" r="1.05"/><circle cx="66.21" cy="124.23" r="1.05"/><circle cx="67.5" cy="124.09" r="1.05"/><circle cx="68.78" cy="123.9" r="1.05"/><circle cx="70.07" cy="123.66" r="1.05"/><circle cx="71.35" cy="123.34" r="1.05"/><circle cx="72.63" cy="122.94" r="1.05"/><circle cx="73.92" cy="122.43" r="1.05"/><circle cx="75.2" cy="121.8" r="1.05"/><circle cx="76.49" cy="121.02" r="1.05"/><circle cx="77.77" cy="120.08" r="1.05"/><circle cx="79.05" cy="118.94" r="1.05"/><circle cx="80.34" cy="117.6" r="1.05"/><circle cx="81.62" cy="116.02" r="1.05"/><circle cx="82.91" cy="114.2" r="1.05"/><circle cx="84.19" cy="112.11" r="1.05"/><circle cx="85.47" cy="109.76" r="1.05"/><circle cx="86.76" cy="107.13" r="1.05"/><circle cx="88.04" cy="104.24" r="1.05"/><circle cx="89.33" cy="101.09" r="1.05"/><circle cx="90.61" cy="97.71" r="1.05"/><circle cx="91.89" cy="94.12" r="1.05"/><circle cx="93.18" cy="90.36" r="1.05"/><circle cx="94.46" cy="86.46" r="1.05"/><circle cx="95.75" cy="82.47" r="1.05"/><circle cx="97.03" cy="78.44" r="1.05"/><circle cx="98.31" cy="74.42" r="1.05"/><circle cx="99.6" cy="70.45" r="1.05"/><circle cx="100.88" cy="66.59" r="1.05"/><circle cx="102.17" cy="62.87" r="1.05"/><circle cx="103.45" cy="59.34" r="1.05"/><circle cx="104.73" cy="56.02" r="1.05"/><circle cx="106.02" cy="52.95" r="1.05"/><circle cx="107.3" cy="50.13" r="1.05"/><circle cx="108.59" cy="47.58" r="1.05"/><circle cx="109.87" cy="45.31" r="1.05"/><circle cx="111.15" cy="43.3" r="1.05"/><circle cx="112.44" cy="41.55" r="1.05"/><circle cx="113.72" cy="40.04" r="1.05"/><circle cx="115.01" cy="38.76" r="1.05"/><circle cx="116.29" cy="37.68" r="1.05"/><circle cx="117.57" cy="36.78" r="1.05"/><circle cx="118.86" cy="36.05" r="1.05"/><circle cx="120.14" cy="35.46" r="1.05"/><circle cx="121.43" cy="34.98" r="1.05"/><circle cx="122.71" cy="34.61" r="1.05"/><circle cx="123.99" cy="34.31" r="1.05"/><circle cx="125.28" cy="34.09" r="1.05"/><circle cx="126.56" cy="33.92" r="1.05"/><circle cx="127.85" cy="33.79" r="1.05"/><circle cx="129.13" cy="33.69" r="1.05"/><circle cx="130.41" cy="33.62" r="1.05"/><circle cx="131.7" cy="33.57" r="1.05"/><circle cx="132.98" cy="33.53" r="1.05"/><circle cx="134.27" cy="33.51" r="1.05"/><circle cx="135.55" cy="33.49" r="1.05"/><circle cx="56.84" cy="124.57" r="1.05"/><circle cx="58.13" cy="124.56" r="1.05"/><circle cx="59.41" cy="124.54" r="1.05"/><circle cx="60.69" cy="124.51" r="1.05"/><circle cx="61.98" cy="124.47" r="1.05"/><circle cx="63.26" cy="124.41" r="1.05"/><circle cx="64.55" cy="124.33" r="1.05"/><circle cx="65.83" cy="124.23" r="1.05"/><circle cx="67.11" cy="124.09" r="1.05"/><circle cx="68.4" cy="123.91" r="1.05"/><circle cx="69.68" cy="123.68" r="1.05"/><circle cx="70.97" cy="123.38" r="1.05"/><circle cx="72.25" cy="122.99" r="1.05"/><circle cx="73.53" cy="122.51" r="1.05"/><circle cx="74.82" cy="121.91" r="1.05"/><circle cx="76.1" cy="121.18" r="1.05"/><circle cx="77.39" cy="120.29" r="1.05"/><circle cx="78.67" cy="119.22" r="1.05"/><circle cx="79.95" cy="117.95" r="1.05"/><circle cx="81.24" cy="116.47" r="1.05"/><circle cx="82.52" cy="114.76" r="1.05"/><circle cx="83.81" cy="112.8" r="1.05"/><circle cx="85.09" cy="110.59" r="1.05"/><circle cx="86.37" cy="108.12" r="1.05"/><circle cx="87.66" cy="105.39" r="1.05"/><circle cx="88.94" cy="102.41" r="1.05"/><circle cx="90.23" cy="99.2" r="1.05"/><circle cx="91.51" cy="95.78" r="1.05"/><circle cx="92.79" cy="92.17" r="1.05"/><circle cx="94.08" cy="88.42" r="1.05"/><circle cx="95.36" cy="84.56" r="1.05"/><circle cx="96.65" cy="80.64" r="1.05"/><circle cx="97.93" cy="76.7" r="1.05"/><circle cx="99.21" cy="72.78" r="1.05"/><circle cx="100.5" cy="68.94" r="1.05"/><circle cx="101.78" cy="65.22" r="1.05"/><circle cx="103.07" cy="61.64" r="1.05"/><circle cx="104.35" cy="58.26" r="1.05"/><circle cx="105.63" cy="55.09" r="1.05"/><circle cx="106.92" cy="52.15" r="1.05"/><circle cx="108.2" cy="49.47" r="1.05"/><circle cx="109.49" cy="47.04" r="1.05"/><circle cx="110.77" cy="44.88" r="1.05"/><circle cx="112.05" cy="42.96" r="1.05"/><circle cx="113.34" cy="41.29" r="1.05"/><circle cx="114.62" cy="39.85" r="1.05"/><circle cx="115.91" cy="38.63" r="1.05"/><circle cx="117.19" cy="37.59" r="1.05"/><circle cx="118.47" cy="36.73" r="1.05"/><circle cx="119.76" cy="36.02" r="1.05"/><circle cx="121.04" cy="35.44" r="1.05"/><circle cx="122.33" cy="34.98" r="1.05"/><circle cx="123.61" cy="34.61" r="1.05"/><circle cx="124.89" cy="34.32" r="1.05"/><circle cx="126.18" cy="34.1" r="1.05"/><circle cx="127.46" cy="33.93" r="1.05"/><circle cx="128.75" cy="33.8" r="1.05"/><circle cx="130.03" cy="33.7" r="1.05"/><circle cx="131.31" cy="33.63" r="1.05"/><circle cx="132.6" cy="33.58" r="1.05"/><circle cx="133.88" cy="33.54" r="1.05"/><circle cx="135.17" cy="33.51" r="1.05"/><circle cx="136.45" cy="33.49" r="1.05"/></g>
<g fill="#ff0000"><circle cx="56.33" cy="124.58" r="1.2"/><circle cx="57.61" cy="124.57" r="1.2"/><circle cx="58.9" cy="124.56" r="1.2"/><circle cx="60.18" cy="124.55" r="1.2"/><circle cx="61.46" cy="124.54" r="1.2"/><circle cx="62.75" cy="124.52" r="1.2"/><circle cx="64.03" cy="124.5" r="1.2"/><circle cx="65.32" cy="124.47" r="1.2"/><circle cx="66.6" cy="124.44" r="1.2"/><circle cx="67.88" cy="124.4" r="1.2"/><circle cx="69.17" cy="124.35" r="1.2"/><circle cx="70.45" cy="124.29" r="1.2"/><circle cx="71.74" cy="124.22" r="1.2"/><circle cx="73.02" cy="124.13" r="1.2"/><circle cx="74.3" cy="124.03" r="1.2"/><circle cx="75.59" cy="123.91" r="1.2"/><circle cx="76.87" cy="123.76" r="1.2"/><circle cx="78.16" cy="123.59" r="1.2"/><circle cx="79.44" cy="123.39" r="1.2"/><circle cx="80.72" cy="123.16" r="1.2"/><circle cx="82.01" cy="122.88" r="1.2"/><circle cx="83.29" cy="122.57" r="1.2"/><circle cx="84.58" cy="122.21" r="1.2"/><circle cx="85.86" cy="121.8" r="1.2"/><circle cx="87.14" cy="121.32" r="1.2"/><circle cx="88.43" cy="120.79" r="1.2"/><circle cx="89.71" cy="120.19" r="1.2"/><circle cx="91" cy="119.49" r="1.2"/><circle cx="92.28" cy="118.47" r="1.2"/><circle cx="93.56" cy="117.3" r="1.2"/><circle cx="94.85" cy="115.97" r="1.2"/><circle cx="96.13" cy="114.46" r="1.2"/><circle cx="97.42" cy="112.78" r="1.2"/><circle cx="98.7" cy="110.93" r="1.2"/><circle cx="99.98" cy="108.96" r="1.2"/><circle cx="101.27" cy="106.82" r="1.2"/><circle cx="102.55" cy="104.52" r="1.2"/><circle cx="103.84" cy="102.05" r="1.2"/><circle cx="105.12" cy="99.29" r="1.2"/><circle cx="106.4" cy="96.35" r="1.2"/><circle cx="107.69" cy="93.28" r="1.2"/><circle cx="108.97" cy="90.08" r="1.2"/><circle cx="110.26" cy="86.8" r="1.2"/><circle cx="111.54" cy="83.44" r="1.2"/><circle cx="112.82" cy="80.05" r="1.2"/><circle cx="114.11" cy="76.65" r="1.2"/><circle cx="115.39" cy="73.27" r="1.2"/><circle cx="116.68" cy="70.05" r="1.2"/><circle cx="117.96" cy="66.9" r="1.2"/><circle cx="119.24" cy="63.65" r="1.2"/><circle cx="120.53" cy="60.54" r="1.2"/><circle cx="121.81" cy="57.75" r="1.2"/><circle cx="123.1" cy="55.14" r="1.2"/><circle cx="124.38" cy="52.99" r="1.2"/><circle cx="125.66" cy="50.98" r="1.2"/><circle cx="126.95" cy="48.4" r="1.2"/><circle cx="128.23" cy="45.82" r="1.2"/><circle cx="129.52" cy="43.57" r="1.2"/><circle cx="130.8" cy="41.6" r="1.2"/><circle cx="132.08" cy="39.91" r="1.2"/><circle cx="133.37" cy="38.51" r="1.2"/><circle cx="134.65" cy="37.35" r="1.2"/><circle cx="135.94" cy="36.4" r="1.2"/><circle cx="137.22" cy="35.65" r="1.2"/><circle cx="138.5" cy="35.07" r="1.2"/><circle cx="139.79" cy="34.63" r="1.2"/><circle cx="141.07" cy="34.29" r="1.2"/><circle cx="142.36" cy="34.04" r="1.2"/><circle cx="143.64" cy="33.86" r="1.2"/><circle cx="144.92" cy="33.73" r="1.2"/><circle cx="146.21" cy="33.64" r="1.2"/><circle cx="147.49" cy="33.57" r="1.2"/><circle cx="148.78" cy="33.53" r="1.2"/><circle cx="150.06" cy="33.5" r="1.2"/><circle cx="151.34" cy="33.48" r="1.2"/></g>
<circle cx="159.05" cy="33.45" r="0.9" fill="none" stroke="#ff0000" stroke-width="0.5"/>
<line x1="29.5" x2="168.4" y1="124.6" y2="124.6" stroke="#bbb" stroke-opacity="0.8" stroke-width="0.6" stroke-dasharray="2.9 1.6"/>
<line x1="29.5" x2="168.4" y1="33.45" y2="33.45" stroke="#bbb" stroke-opacity="0.8" stroke-width="0.6" stroke-dasharray="2.9 1.6"/>
<rect x="29.5" y="29.5" width="138.9" height="98.4" fill="none" stroke="#2a2a2a" stroke-width="0.9"/>
<path d="M29.5 124.6H25.9M34.9 127.9V131.7M29.5 106.37H25.9M60.5 127.9V131.7M29.5 88.14H25.9M86.1 127.9V131.7M29.5 69.91H25.9M111.7 127.9V131.7M29.5 51.68H25.9M137.3 127.9V131.7M29.5 33.45H25.9M162.9 127.9V131.7M34.9 127.7H162.9M29.25 124.6V33.45" stroke="#222" stroke-width="0.8" fill="none"/>
<text transform="translate(34.9,140.6) scale(0.1)" font-size="57" text-anchor="middle" stroke="#000" stroke-width="1.2" fill="#000">0</text>
<text transform="translate(20.8,124.6) rotate(-90) scale(0.1)" font-size="57" text-anchor="middle" stroke="#000" stroke-width="1.2" fill="#000">0.0</text>
<text transform="translate(60.5,140.6) scale(0.1)" font-size="57" text-anchor="middle" stroke="#000" stroke-width="1.2" fill="#000">2</text>
<text transform="translate(20.8,106.37) rotate(-90) scale(0.1)" font-size="57" text-anchor="middle" stroke="#000" stroke-width="1.2" fill="#000">0.2</text>
<text transform="translate(86.1,140.6) scale(0.1)" font-size="57" text-anchor="middle" stroke="#000" stroke-width="1.2" fill="#000">4</text>
<text transform="translate(20.8,88.14) rotate(-90) scale(0.1)" font-size="57" text-anchor="middle" stroke="#000" stroke-width="1.2" fill="#000">0.4</text>
<text transform="translate(111.7,140.6) scale(0.1)" font-size="57" text-anchor="middle" stroke="#000" stroke-width="1.2" fill="#000">6</text>
<text transform="translate(20.8,69.91) rotate(-90) scale(0.1)" font-size="57" text-anchor="middle" stroke="#000" stroke-width="1.2" fill="#000">0.6</text>
<text transform="translate(137.3,140.6) scale(0.1)" font-size="57" text-anchor="middle" stroke="#000" stroke-width="1.2" fill="#000">8</text>
<text transform="translate(20.8,51.68) rotate(-90) scale(0.1)" font-size="57" text-anchor="middle" stroke="#000" stroke-width="1.2" fill="#000">0.8</text>
<text transform="translate(162.9,140.6) scale(0.1)" font-size="57" text-anchor="middle" stroke="#000" stroke-width="1.2" fill="#000">10</text>
<text transform="translate(20.8,33.45) rotate(-90) scale(0.1)" font-size="57" text-anchor="middle" stroke="#000" stroke-width="1.2" fill="#000">1.0</text>
<text transform="translate(6.3,78.55) rotate(-90) scale(0.1)" font-size="70" text-anchor="middle" stroke="#000" stroke-width="1" fill="#000">CDF</text>
<text transform="translate(82.9,153.8) scale(0.1)" font-size="75" stroke="#000" stroke-width="1.5" fill="#000">d(ρ,</text>
<text transform="translate(98.6,153.8) scale(0.1)" font-size="75" stroke="#000" stroke-width="1.5" fill="#000">ρ</text>
<text transform="translate(102.7,155.3) scale(0.1)" font-size="51" stroke="#000" stroke-width="1" fill="#000">true</text>
<text transform="translate(112.5,153.8) scale(0.1)" font-size="75" stroke="#000" stroke-width="1.5" fill="#000">)</text>
<g stroke-width="1.4" fill="none">
<line x1="128.2" x2="138" y1="48.2" y2="48.2" stroke="#ff0000"/>
<line x1="128.2" x2="138" y1="53.97" y2="53.97" stroke="#00ff00"/>
<line x1="128.2" x2="138" y1="59.74" y2="59.74" stroke="#0000ff"/>
</g>
<text transform="translate(142,49.85) scale(0.1)" font-size="45.5" fill="#000">N = 20</text>
<text transform="translate(142,55.62) scale(0.1)" font-size="45.5" fill="#000">N = 50</text>
<text transform="translate(142,61.39) scale(0.1)" font-size="45.5" fill="#000">N = 100</text>
<g stroke="#000" stroke-width="1.3" fill="none">
<line x1="121.8" x2="131.5" y1="84.5" y2="84.5"/>
<line x1="121.8" x2="126.8" y1="90.27" y2="90.27"/>
<line x1="121.8" x2="122.8" y1="96.04" y2="96.04"/>
<line x1="126.6" x2="127.6" y1="96.04" y2="96.04"/>
<line x1="121.8" x2="122.8" y1="101.81" y2="101.81"/>
<line x1="126.6" x2="131.2" y1="101.81" y2="101.81"/>
</g>
<text transform="translate(135.3,86.15) scale(0.1)" font-size="48" fill="#000">unif prior</text>
<text transform="translate(135.3,91.92) scale(0.1)" font-size="48" fill="#000">exp(0.1) prior</text>
<text transform="translate(135.3,97.69) scale(0.1)" font-size="48" fill="#000">exp(1) prior</text>
<text transform="translate(135.3,103.46) scale(0.1)" font-size="48" fill="#000">exp(10) prior</text>
</g>
<g transform="translate(366.9,0)">
<text transform="translate(98.8,17.7) scale(0.1)" font-size="76.5" text-anchor="middle" font-weight="bold" fill="#000">IS approximated partition function, K small</text>
<line x1="29.5" x2="168.4" y1="124.6" y2="124.6" stroke="#7f7f7f" stroke-width="0.7" stroke-dasharray="2.9 1.6"/>
<line x1="29.5" x2="168.4" y1="33.45" y2="33.45" stroke="#7f7f7f" stroke-width="0.7" stroke-dasharray="2.9 1.6"/>
<line x1="34.9" x2="34.9" y1="29.5" y2="127.9" stroke="#333" stroke-width="0.9"/>
<line x1="51.19" x2="60.18" y1="124.6" y2="124.6" stroke="#00ff00" stroke-width="0.8"/>
<g fill="#00ff00"><circle cx="51.96" cy="124.57" r="1.0"/><circle cx="52.48" cy="124.56" r="1.0"/><circle cx="52.99" cy="124.55" r="1.0"/><circle cx="53.5" cy="124.53" r="1.0"/><circle cx="54.02" cy="124.5" r="1.0"/><circle cx="54.53" cy="124.47" r="1.0"/><circle cx="55.04" cy="124.42" r="1.0"/><circle cx="55.56" cy="124.37" r="1.0"/><circle cx="56.07" cy="124.29" r="1.0"/><circle cx="56.58" cy="124.2" r="1.0"/><circle cx="57.1" cy="124.09" r="1.0"/><circle cx="57.61" cy="123.94" r="1.0"/><circle cx="58.13" cy="123.76" r="1.0"/><circle cx="58.64" cy="123.53" r="1.0"/><circle cx="59.15" cy="123.26" r="1.0"/><circle cx="59.67" cy="122.93" r="1.0"/><circle cx="60.18" cy="122.53" r="1.0"/><circle cx="60.69" cy="122.05" r="1.0"/><circle cx="61.21" cy="121.48" r="1.0"/><circle cx="61.72" cy="120.82" r="1.0"/><circle cx="62.23" cy="120.04" r="1.0"/><circle cx="62.75" cy="119.14" r="1.0"/><circle cx="63.26" cy="118.11" r="1.0"/><circle cx="63.78" cy="116.93" r="1.0"/><circle cx="64.29" cy="115.6" r="1.0"/><circle cx="64.8" cy="114.11" r="1.0"/><circle cx="65.32" cy="112.45" r="1.0"/><circle cx="65.83" cy="110.62" r="1.0"/><circle cx="66.34" cy="108.62" r="1.0"/><circle cx="66.86" cy="106.44" r="1.0"/><circle cx="67.37" cy="104.1" r="1.0"/><circle cx="67.88" cy="101.59" r="1.0"/><circle cx="68.4" cy="98.92" r="1.0"/><circle cx="68.91" cy="96.12" r="1.0"/><circle cx="69.42" cy="93.19" r="1.0"/><circle cx="69.94" cy="90.16" r="1.0"/><circle cx="70.45" cy="87.04" r="1.0"/><circle cx="70.97" cy="83.86" r="1.0"/><circle cx="71.48" cy="80.64" r="1.0"/><circle cx="71.99" cy="77.41" r="1.0"/><circle cx="72.51" cy="74.19" r="1.0"/><circle cx="73.02" cy="71.01" r="1.0"/><circle cx="73.53" cy="67.89" r="1.0"/><circle cx="74.05" cy="64.86" r="1.0"/><circle cx="74.56" cy="61.93" r="1.0"/><circle cx="75.07" cy="59.13" r="1.0"/><circle cx="75.59" cy="56.46" r="1.0"/><circle cx="76.1" cy="53.95" r="1.0"/><circle cx="76.62" cy="51.61" r="1.0"/><circle cx="77.13" cy="49.43" r="1.0"/><circle cx="77.64" cy="47.43" r="1.0"/><circle cx="78.16" cy="45.6" r="1.0"/><circle cx="78.67" cy="43.94" r="1.0"/><circle cx="79.18" cy="42.45" r="1.0"/><circle cx="79.7" cy="41.12" r="1.0"/><circle cx="80.21" cy="39.94" r="1.0"/><circle cx="80.72" cy="38.91" r="1.0"/><circle cx="81.24" cy="38.01" r="1.0"/><circle cx="81.75" cy="37.23" r="1.0"/><circle cx="82.26" cy="36.57" r="1.0"/><circle cx="82.78" cy="36" r="1.0"/><circle cx="83.29" cy="35.52" r="1.0"/><circle cx="83.81" cy="35.12" r="1.0"/><circle cx="84.32" cy="34.79" r="1.0"/><circle cx="84.83" cy="34.52" r="1.0"/><circle cx="85.35" cy="34.29" r="1.0"/><circle cx="85.86" cy="34.11" r="1.0"/><circle cx="86.37" cy="33.96" r="1.0"/><circle cx="86.89" cy="33.85" r="1.0"/><circle cx="87.4" cy="33.76" r="1.0"/><circle cx="87.91" cy="33.68" r="1.0"/><circle cx="88.43" cy="33.63" r="1.0"/><circle cx="88.94" cy="33.58" r="1.0"/><circle cx="89.46" cy="33.55" r="1.0"/><circle cx="89.97" cy="33.52" r="1.0"/><circle cx="90.48" cy="33.5" r="1.0"/><circle cx="91" cy="33.49" r="1.0"/><circle cx="51.19" cy="124.58" r="1.0"/><circle cx="51.71" cy="124.57" r="1.0"/><circle cx="52.22" cy="124.56" r="1.0"/><circle cx="52.73" cy="124.54" r="1.0"/><circle cx="53.25" cy="124.52" r="1.0"/><circle cx="53.76" cy="124.49" r="1.0"/><circle cx="54.27" cy="124.46" r="1.0"/><circle cx="54.79" cy="124.41" r="1.0"/><circle cx="55.3" cy="124.35" r="1.0"/><circle cx="55.81" cy="124.27" r="1.0"/><circle cx="56.33" cy="124.18" r="1.0"/><circle cx="56.84" cy="124.05" r="1.0"/><circle cx="57.36" cy="123.9" r="1.0"/><circle cx="57.87" cy="123.71" r="1.0"/><circle cx="58.38" cy="123.47" r="1.0"/><circle cx="58.9" cy="123.18" r="1.0"/><circle cx="59.41" cy="122.83" r="1.0"/><circle cx="59.92" cy="122.41" r="1.0"/><circle cx="60.44" cy="121.92" r="1.0"/><circle cx="60.95" cy="121.32" r="1.0"/><circle cx="61.46" cy="120.63" r="1.0"/><circle cx="61.98" cy="119.83" r="1.0"/><circle cx="62.49" cy="118.89" r="1.0"/><circle cx="63" cy="117.83" r="1.0"/><circle cx="63.52" cy="116.61" r="1.0"/><circle cx="64.03" cy="115.24" r="1.0"/><circle cx="64.55" cy="113.71" r="1.0"/><circle cx="65.06" cy="112.01" r="1.0"/><circle cx="65.57" cy="110.14" r="1.0"/><circle cx="66.09" cy="108.09" r="1.0"/><circle cx="66.6" cy="105.87" r="1.0"/><circle cx="67.11" cy="103.48" r="1.0"/><circle cx="67.63" cy="100.93" r="1.0"/><circle cx="68.14" cy="98.23" r="1.0"/><circle cx="68.65" cy="95.4" r="1.0"/><circle cx="69.17" cy="92.44" r="1.0"/><circle cx="69.68" cy="89.39" r="1.0"/><circle cx="70.2" cy="86.25" r="1.0"/><circle cx="70.71" cy="83.06" r="1.0"/><circle cx="71.22" cy="79.83" r="1.0"/><circle cx="71.74" cy="76.6" r="1.0"/><circle cx="72.25" cy="73.39" r="1.0"/><circle cx="72.76" cy="70.22" r="1.0"/><circle cx="73.28" cy="67.12" r="1.0"/><circle cx="73.79" cy="64.12" r="1.0"/><circle cx="74.3" cy="61.22" r="1.0"/><circle cx="74.82" cy="58.45" r="1.0"/><circle cx="75.33" cy="55.82" r="1.0"/><circle cx="75.84" cy="53.35" r="1.0"/><circle cx="76.36" cy="51.05" r="1.0"/><circle cx="76.87" cy="48.91" r="1.0"/><circle cx="77.39" cy="46.95" r="1.0"/><circle cx="77.9" cy="45.17" r="1.0"/><circle cx="78.41" cy="43.55" r="1.0"/><circle cx="78.93" cy="42.1" r="1.0"/><circle cx="79.44" cy="40.81" r="1.0"/><circle cx="79.95" cy="39.67" r="1.0"/><circle cx="80.47" cy="38.67" r="1.0"/><circle cx="80.98" cy="37.81" r="1.0"/><circle cx="81.49" cy="37.06" r="1.0"/><circle cx="82.01" cy="36.42" r="1.0"/><circle cx="82.52" cy="35.87" r="1.0"/><circle cx="83.04" cy="35.42" r="1.0"/><circle cx="83.55" cy="35.03" r="1.0"/><circle cx="84.06" cy="34.72" r="1.0"/><circle cx="84.58" cy="34.46" r="1.0"/><circle cx="85.09" cy="34.24" r="1.0"/><circle cx="85.6" cy="34.07" r="1.0"/><circle cx="86.12" cy="33.93" r="1.0"/><circle cx="86.63" cy="33.82" r="1.0"/><circle cx="87.14" cy="33.74" r="1.0"/><circle cx="87.66" cy="33.67" r="1.0"/><circle cx="88.17" cy="33.61" r="1.0"/><circle cx="88.68" cy="33.57" r="1.0"/><circle cx="89.2" cy="33.54" r="1.0"/><circle cx="89.71" cy="33.52" r="1.0"/><circle cx="90.23" cy="33.5" r="1.0"/><circle cx="90.74" cy="33.49" r="1.0"/></g>
<line x1="83.29" x2="111.15" y1="33.45" y2="33.45" stroke="#00ff00" stroke-width="0.5" stroke-opacity="0.7"/>
<g fill="#0000ff"><circle cx="50.16" cy="124.58" r="0.9"/><circle cx="50.42" cy="124.57" r="0.9"/><circle cx="50.68" cy="124.57" r="0.9"/><circle cx="50.94" cy="124.56" r="0.9"/><circle cx="51.19" cy="124.56" r="0.9"/><circle cx="51.45" cy="124.55" r="0.9"/><circle cx="51.71" cy="124.54" r="0.9"/><circle cx="51.96" cy="124.53" r="0.9"/><circle cx="52.22" cy="124.52" r="0.9"/><circle cx="52.48" cy="124.51" r="0.9"/><circle cx="52.73" cy="124.49" r="0.9"/><circle cx="52.99" cy="124.48" r="0.9"/><circle cx="53.25" cy="124.46" r="0.9"/><circle cx="53.5" cy="124.44" r="0.9"/><circle cx="53.76" cy="124.41" r="0.9"/><circle cx="54.02" cy="124.38" r="0.9"/><circle cx="54.27" cy="124.35" r="0.9"/><circle cx="54.53" cy="124.31" r="0.9"/><circle cx="54.79" cy="124.27" r="0.9"/><circle cx="55.04" cy="124.23" r="0.9"/><circle cx="55.3" cy="124.18" r="0.9"/><circle cx="55.56" cy="124.12" r="0.9"/><circle cx="55.81" cy="124.05" r="0.9"/><circle cx="56.07" cy="123.98" r="0.9"/><circle cx="56.33" cy="123.9" r="0.9"/><circle cx="56.58" cy="123.81" r="0.9"/><circle cx="56.84" cy="123.71" r="0.9"/><circle cx="57.1" cy="123.59" r="0.9"/><circle cx="57.36" cy="123.47" r="0.9"/><circle cx="57.61" cy="123.33" r="0.9"/><circle cx="57.87" cy="123.18" r="0.9"/><circle cx="58.13" cy="123.02" r="0.9"/><circle cx="58.38" cy="122.83" r="0.9"/><circle cx="58.64" cy="122.63" r="0.9"/><circle cx="58.9" cy="122.41" r="0.9"/><circle cx="59.15" cy="122.18" r="0.9"/><circle cx="59.41" cy="121.92" r="0.9"/><circle cx="59.67" cy="121.63" r="0.9"/><circle cx="59.92" cy="121.32" r="0.9"/><circle cx="60.18" cy="120.99" r="0.9"/><circle cx="60.44" cy="120.63" r="0.9"/><circle cx="60.69" cy="120.24" r="0.9"/><circle cx="60.95" cy="119.83" r="0.9"/><circle cx="61.21" cy="119.38" r="0.9"/><circle cx="61.46" cy="118.89" r="0.9"/><circle cx="61.72" cy="118.38" r="0.9"/><circle cx="61.98" cy="117.83" r="0.9"/><circle cx="62.23" cy="117.24" r="0.9"/><circle cx="62.49" cy="116.61" r="0.9"/><circle cx="62.75" cy="115.95" r="0.9"/><circle cx="63" cy="115.24" r="0.9"/><circle cx="63.26" cy="114.5" r="0.9"/><circle cx="63.52" cy="113.71" r="0.9"/><circle cx="63.78" cy="112.88" r="0.9"/><circle cx="64.03" cy="112.01" r="0.9"/><circle cx="64.29" cy="111.1" r="0.9"/><circle cx="64.55" cy="110.14" r="0.9"/><circle cx="64.8" cy="109.14" r="0.9"/><circle cx="65.06" cy="108.09" r="0.9"/><circle cx="65.32" cy="107" r="0.9"/><circle cx="65.57" cy="105.87" r="0.9"/><circle cx="65.83" cy="104.7" r="0.9"/><circle cx="66.09" cy="103.48" r="0.9"/><circle cx="66.34" cy="102.23" r="0.9"/><circle cx="66.6" cy="100.93" r="0.9"/><circle cx="66.86" cy="99.6" r="0.9"/><circle cx="67.11" cy="98.23" r="0.9"/><circle cx="67.37" cy="96.83" r="0.9"/><circle cx="67.63" cy="95.4" r="0.9"/><circle cx="67.88" cy="93.93" r="0.9"/><circle cx="68.14" cy="92.44" r="0.9"/><circle cx="68.4" cy="90.93" r="0.9"/><circle cx="68.65" cy="89.39" r="0.9"/><circle cx="68.91" cy="87.83" r="0.9"/><circle cx="69.17" cy="86.25" r="0.9"/><circle cx="69.42" cy="84.66" r="0.9"/><circle cx="69.68" cy="83.06" r="0.9"/><circle cx="69.94" cy="81.45" r="0.9"/><circle cx="70.2" cy="79.83" r="0.9"/><circle cx="70.45" cy="78.22" r="0.9"/><circle cx="70.71" cy="76.6" r="0.9"/><circle cx="70.97" cy="74.99" r="0.9"/><circle cx="71.22" cy="73.39" r="0.9"/><circle cx="71.48" cy="71.8" r="0.9"/><circle cx="71.74" cy="70.22" r="0.9"/><circle cx="71.99" cy="68.66" r="0.9"/><circle cx="72.25" cy="67.12" r="0.9"/><circle cx="72.51" cy="65.61" r="0.9"/><circle cx="72.76" cy="64.12" r="0.9"/><circle cx="73.02" cy="62.65" r="0.9"/><circle cx="73.28" cy="61.22" r="0.9"/><circle cx="73.53" cy="59.82" r="0.9"/><circle cx="73.79" cy="58.45" r="0.9"/><circle cx="74.05" cy="57.12" r="0.9"/><circle cx="74.3" cy="55.82" r="0.9"/><circle cx="74.56" cy="54.57" r="0.9"/><circle cx="74.82" cy="53.35" r="0.9"/><circle cx="75.07" cy="52.18" r="0.9"/><circle cx="75.33" cy="51.05" r="0.9"/><circle cx="75.59" cy="49.96" r="0.9"/><circle cx="75.84" cy="48.91" r="0.9"/><circle cx="76.1" cy="47.91" r="0.9"/><circle cx="76.36" cy="46.95" r="0.9"/><circle cx="76.62" cy="46.04" r="0.9"/><circle cx="76.87" cy="45.17" r="0.9"/><circle cx="77.13" cy="44.34" r="0.9"/><circle cx="77.39" cy="43.55" r="0.9"/><circle cx="77.64" cy="42.81" r="0.9"/><circle cx="77.9" cy="42.1" r="0.9"/><circle cx="78.16" cy="41.44" r="0.9"/><circle cx="78.41" cy="40.81" r="0.9"/><circle cx="78.67" cy="40.22" r="0.9"/><circle cx="78.93" cy="39.67" r="0.9"/><circle cx="79.18" cy="39.16" r="0.9"/><circle cx="79.44" cy="38.67" r="0.9"/><circle cx="79.7" cy="38.22" r="0.9"/><circle cx="79.95" cy="37.81" r="0.9"/><circle cx="80.21" cy="37.42" r="0.9"/><circle cx="80.47" cy="37.06" r="0.9"/><circle cx="80.72" cy="36.73" r="0.9"/><circle cx="80.98" cy="36.42" r="0.9"/><circle cx="81.24" cy="36.13" r="0.9"/><circle cx="81.49" cy="35.87" r="0.9"/><circle cx="81.75" cy="35.64" r="0.9"/><circle cx="82.01" cy="35.42" r="0.9"/><circle cx="82.26" cy="35.22" r="0.9"/><circle cx="82.52" cy="35.03" r="0.9"/><circle cx="82.78" cy="34.87" r="0.9"/><circle cx="83.04" cy="34.72" r="0.9"/><circle cx="83.29" cy="34.58" r="0.9"/><circle cx="83.55" cy="34.46" r="0.9"/><circle cx="83.81" cy="34.34" r="0.9"/><circle cx="84.06" cy="34.24" r="0.9"/><circle cx="84.32" cy="34.15" r="0.9"/><circle cx="84.58" cy="34.07" r="0.9"/><circle cx="84.83" cy="34" r="0.9"/><circle cx="85.09" cy="33.93" r="0.9"/><circle cx="85.35" cy="33.87" r="0.9"/><circle cx="85.6" cy="33.82" r="0.9"/><circle cx="85.86" cy="33.78" r="0.9"/><circle cx="86.12" cy="33.74" r="0.9"/><circle cx="86.37" cy="33.7" r="0.9"/><circle cx="86.63" cy="33.67" r="0.9"/><circle cx="86.89" cy="33.64" r="0.9"/><circle cx="87.14" cy="33.61" r="0.9"/><circle cx="87.4" cy="33.59" r="0.9"/><circle cx="87.66" cy="33.57" r="0.9"/><circle cx="87.91" cy="33.56" r="0.9"/><circle cx="88.17" cy="33.54" r="0.9"/><circle cx="88.43" cy="33.53" r="0.9"/><circle cx="88.68" cy="33.52" r="0.9"/><circle cx="88.94" cy="33.51" r="0.9"/><circle cx="89.2" cy="33.5" r="0.9"/><circle cx="89.46" cy="33.49" r="0.9"/><circle cx="89.71" cy="33.49" r="0.9"/><circle cx="50.55" cy="124.58" r="0.9"/><circle cx="50.81" cy="124.57" r="0.9"/><circle cx="51.06" cy="124.57" r="0.9"/><circle cx="51.32" cy="124.56" r="0.9"/><circle cx="51.58" cy="124.56" r="0.9"/><circle cx="51.83" cy="124.55" r="0.9"/><circle cx="52.09" cy="124.54" r="0.9"/><circle cx="52.35" cy="124.53" r="0.9"/><circle cx="52.6" cy="124.52" r="0.9"/><circle cx="52.86" cy="124.51" r="0.9"/><circle cx="53.12" cy="124.49" r="0.9"/><circle cx="53.37" cy="124.48" r="0.9"/><circle cx="53.63" cy="124.46" r="0.9"/><circle cx="53.89" cy="124.44" r="0.9"/><circle cx="54.15" cy="124.41" r="0.9"/><circle cx="54.4" cy="124.38" r="0.9"/><circle cx="54.66" cy="124.35" r="0.9"/><circle cx="54.92" cy="124.31" r="0.9"/><circle cx="55.17" cy="124.27" r="0.9"/><circle cx="55.43" cy="124.23" r="0.9"/><circle cx="55.69" cy="124.18" r="0.9"/><circle cx="55.94" cy="124.12" r="0.9"/><circle cx="56.2" cy="124.05" r="0.9"/><circle cx="56.46" cy="123.98" r="0.9"/><circle cx="56.71" cy="123.9" r="0.9"/><circle cx="56.97" cy="123.81" r="0.9"/><circle cx="57.23" cy="123.71" r="0.9"/><circle cx="57.48" cy="123.59" r="0.9"/><circle cx="57.74" cy="123.47" r="0.9"/><circle cx="58" cy="123.33" r="0.9"/><circle cx="58.25" cy="123.18" r="0.9"/><circle cx="58.51" cy="123.02" r="0.9"/><circle cx="58.77" cy="122.83" r="0.9"/><circle cx="59.02" cy="122.63" r="0.9"/><circle cx="59.28" cy="122.41" r="0.9"/><circle cx="59.54" cy="122.18" r="0.9"/><circle cx="59.79" cy="121.92" r="0.9"/><circle cx="60.05" cy="121.63" r="0.9"/><circle cx="60.31" cy="121.32" r="0.9"/><circle cx="60.57" cy="120.99" r="0.9"/><circle cx="60.82" cy="120.63" r="0.9"/><circle cx="61.08" cy="120.24" r="0.9"/><circle cx="61.34" cy="119.83" r="0.9"/><circle cx="61.59" cy="119.38" r="0.9"/><circle cx="61.85" cy="118.89" r="0.9"/><circle cx="62.11" cy="118.38" r="0.9"/><circle cx="62.36" cy="117.83" r="0.9"/><circle cx="62.62" cy="117.24" r="0.9"/><circle cx="62.88" cy="116.61" r="0.9"/><circle cx="63.13" cy="115.95" r="0.9"/><circle cx="63.39" cy="115.24" r="0.9"/><circle cx="63.65" cy="114.5" r="0.9"/><circle cx="63.9" cy="113.71" r="0.9"/><circle cx="64.16" cy="112.88" r="0.9"/><circle cx="64.42" cy="112.01" r="0.9"/><circle cx="64.67" cy="111.1" r="0.9"/><circle cx="64.93" cy="110.14" r="0.9"/><circle cx="65.19" cy="109.14" r="0.9"/><circle cx="65.44" cy="108.09" r="0.9"/><circle cx="65.7" cy="107" r="0.9"/><circle cx="65.96" cy="105.87" r="0.9"/><circle cx="66.21" cy="104.7" r="0.9"/><circle cx="66.47" cy="103.48" r="0.9"/><circle cx="66.73" cy="102.23" r="0.9"/><circle cx="66.99" cy="100.93" r="0.9"/><circle cx="67.24" cy="99.6" r="0.9"/><circle cx="67.5" cy="98.23" r="0.9"/><circle cx="67.76" cy="96.83" r="0.9"/><circle cx="68.01" cy="95.4" r="0.9"/><circle cx="68.27" cy="93.93" r="0.9"/><circle cx="68.53" cy="92.44" r="0.9"/><circle cx="68.78" cy="90.93" r="0.9"/><circle cx="69.04" cy="89.39" r="0.9"/><circle cx="69.3" cy="87.83" r="0.9"/><circle cx="69.55" cy="86.25" r="0.9"/><circle cx="69.81" cy="84.66" r="0.9"/><circle cx="70.07" cy="83.06" r="0.9"/><circle cx="70.32" cy="81.45" r="0.9"/><circle cx="70.58" cy="79.83" r="0.9"/><circle cx="70.84" cy="78.22" r="0.9"/><circle cx="71.09" cy="76.6" r="0.9"/><circle cx="71.35" cy="74.99" r="0.9"/><circle cx="71.61" cy="73.39" r="0.9"/><circle cx="71.86" cy="71.8" r="0.9"/><circle cx="72.12" cy="70.22" r="0.9"/><circle cx="72.38" cy="68.66" r="0.9"/><circle cx="72.63" cy="67.12" r="0.9"/><circle cx="72.89" cy="65.61" r="0.9"/><circle cx="73.15" cy="64.12" r="0.9"/><circle cx="73.41" cy="62.65" r="0.9"/><circle cx="73.66" cy="61.22" r="0.9"/><circle cx="73.92" cy="59.82" r="0.9"/><circle cx="74.18" cy="58.45" r="0.9"/><circle cx="74.43" cy="57.12" r="0.9"/><circle cx="74.69" cy="55.82" r="0.9"/><circle cx="74.95" cy="54.57" r="0.9"/><circle cx="75.2" cy="53.35" r="0.9"/><circle cx="75.46" cy="52.18" r="0.9"/><circle cx="75.72" cy="51.05" r="0.9"/><circle cx="75.97" cy="49.96" r="0.9"/><circle cx="76.23" cy="48.91" r="0.9"/><circle cx="76.49" cy="47.91" r="0.9"/><circle cx="76.74" cy="46.95" r="0.9"/><circle cx="77" cy="46.04" r="0.9"/><circle cx="77.26" cy="45.17" r="0.9"/><circle cx="77.51" cy="44.34" r="0.9"/><circle cx="77.77" cy="43.55" r="0.9"/><circle cx="78.03" cy="42.81" r="0.9"/><circle cx="78.28" cy="42.1" r="0.9"/><circle cx="78.54" cy="41.44" r="0.9"/><circle cx="78.8" cy="40.81" r="0.9"/><circle cx="79.05" cy="40.22" r="0.9"/><circle cx="79.31" cy="39.67" r="0.9"/><circle cx="79.57" cy="39.16" r="0.9"/><circle cx="79.83" cy="38.67" r="0.9"/><circle cx="80.08" cy="38.22" r="0.9"/><circle cx="80.34" cy="37.81" r="0.9"/><circle cx="80.6" cy="37.42" r="0.9"/><circle cx="80.85" cy="37.06" r="0.9"/><circle cx="81.11" cy="36.73" r="0.9"/><circle cx="81.37" cy="36.42" r="0.9"/><circle cx="81.62" cy="36.13" r="0.9"/><circle cx="81.88" cy="35.87" r="0.9"/><circle cx="82.14" cy="35.64" r="0.9"/><circle cx="82.39" cy="35.42" r="0.9"/><circle cx="82.65" cy="35.22" r="0.9"/><circle cx="82.91" cy="35.03" r="0.9"/><circle cx="83.16" cy="34.87" r="0.9"/><circle cx="83.42" cy="34.72" r="0.9"/><circle cx="83.68" cy="34.58" r="0.9"/><circle cx="83.93" cy="34.46" r="0.9"/><circle cx="84.19" cy="34.34" r="0.9"/><circle cx="84.45" cy="34.24" r="0.9"/><circle cx="84.7" cy="34.15" r="0.9"/><circle cx="84.96" cy="34.07" r="0.9"/><circle cx="85.22" cy="34" r="0.9"/><circle cx="85.47" cy="33.93" r="0.9"/><circle cx="85.73" cy="33.87" r="0.9"/><circle cx="85.99" cy="33.82" r="0.9"/><circle cx="86.25" cy="33.78" r="0.9"/><circle cx="86.5" cy="33.74" r="0.9"/><circle cx="86.76" cy="33.7" r="0.9"/><circle cx="87.02" cy="33.67" r="0.9"/><circle cx="87.27" cy="33.64" r="0.9"/><circle cx="87.53" cy="33.61" r="0.9"/><circle cx="87.79" cy="33.59" r="0.9"/><circle cx="88.04" cy="33.57" r="0.9"/><circle cx="88.3" cy="33.56" r="0.9"/><circle cx="88.56" cy="33.54" r="0.9"/><circle cx="88.81" cy="33.53" r="0.9"/><circle cx="89.07" cy="33.52" r="0.9"/><circle cx="89.33" cy="33.51" r="0.9"/><circle cx="89.58" cy="33.5" r="0.9"/><circle cx="89.84" cy="33.49" r="0.9"/><circle cx="90.1" cy="33.49" r="0.9"/><circle cx="90.35" cy="33.48" r="0.9"/></g>
<g fill="#0000ff"><circle cx="55.69" cy="124.09" r="1.8"/><circle cx="56.97" cy="123.65" r="1.8"/><circle cx="58.25" cy="122.93" r="1.8"/><circle cx="59.54" cy="121.78" r="1.8"/><circle cx="60.82" cy="120.04" r="1.8"/><circle cx="62.11" cy="117.54" r="1.8"/><circle cx="63.39" cy="114.11" r="1.8"/><circle cx="64.67" cy="109.64" r="1.8"/><circle cx="65.96" cy="104.1" r="1.8"/><circle cx="67.24" cy="97.54" r="1.8"/><circle cx="68.53" cy="90.16" r="1.8"/><circle cx="69.81" cy="82.25" r="1.8"/><circle cx="71.09" cy="74.19" r="1.8"/><circle cx="72.38" cy="66.36" r="1.8"/><circle cx="73.66" cy="59.13" r="1.8"/><circle cx="74.95" cy="52.76" r="1.8"/><circle cx="76.23" cy="47.43" r="1.8"/><circle cx="77.51" cy="43.17" r="1.8"/><circle cx="78.8" cy="39.94" r="1.8"/><circle cx="80.08" cy="37.61" r="1.8"/><circle cx="81.37" cy="36" r="1.8"/><circle cx="82.65" cy="34.95" r="1.8"/><circle cx="83.93" cy="34.29" r="1.8"/><circle cx="85.22" cy="33.9" r="1.8"/></g>
<line x1="43.49" x2="55.04" y1="124.6" y2="124.6" stroke="#0000ff" stroke-width="0.7"/>
<line x1="82.01" x2="97.8" y1="33.45" y2="33.45" stroke="#0000ff" stroke-width="2.0" stroke-linecap="round"/>
<g fill="#00ff00"><circle cx="111.15" cy="33.45" r="1.0"/></g>
<circle cx="97.16" cy="33.45" r="1.0" fill="#0000ff"/>
<circle cx="101.14" cy="33.45" r="0.5" fill="#0000ff"/>
<polygon points="67.88,124.02 68.53,123.92 69.17,123.81 69.81,123.69 70.45,123.55 71.09,123.39 71.74,123.2 72.38,123 73.02,122.77 73.66,122.51 74.3,122.22 74.95,121.9 75.59,121.55 76.23,121.15 76.87,120.72 77.51,120.24 78.16,119.72 78.8,119.15 79.44,118.53 80.08,117.86 80.72,117.13 81.37,116.34 82.01,115.46 82.65,114.49 83.29,113.45 83.93,112.33 84.58,111.13 85.22,109.87 85.86,108.52 86.5,107.1 87.14,105.61 87.79,104.05 88.43,102.41 89.07,100.71 89.71,98.94 90.35,97.11 91,95.22 91.64,93.29 92.28,91.3 92.92,89.28 93.56,87.22 94.21,85.13 94.85,83.03 95.49,80.91 96.13,78.78 96.77,76.66 97.42,74.54 98.06,72.44 98.7,70.36 99.34,68.31 99.98,66.29 100.63,64.32 101.27,62.39 101.91,60.52 102.55,58.7 103.19,56.95 103.84,55.26 104.48,53.64 105.12,52.09 105.76,50.62 106.4,49.21 107.05,47.89 107.69,46.64 108.33,45.46 108.97,44.36 109.61,43.33 110.26,42.38 110.9,41.49 111.54,40.67 112.18,39.91 112.82,39.22 113.47,38.59 114.11,38.01 114.75,37.49 115.39,37.01 116.03,36.58 116.68,36.2 117.32,35.85 117.96,35.55 118.6,35.27 119.24,35.03 119.89,34.81 120.53,34.63 121.17,34.46 121.81,34.31 122.45,34.19 123.1,34.08 123.74,33.98 124.38,33.9 125.02,33.83 125.66,33.77 126.31,33.72 126.95,33.67 126.95,33.92 126.31,34 125.66,34.09 125.02,34.19 124.38,34.31 123.74,34.45 123.1,34.6 122.45,34.78 121.81,34.97 121.17,35.19 120.53,35.44 119.89,35.72 119.24,36.03 118.6,36.37 117.96,36.75 117.32,37.16 116.68,37.62 116.03,38.13 115.39,38.68 114.75,39.28 114.11,39.94 113.47,40.65 112.82,41.41 112.18,42.24 111.54,43.12 110.9,44.08 110.26,45.09 109.61,46.17 108.97,47.32 108.33,48.53 107.69,49.81 107.05,51.15 106.4,52.56 105.76,54.04 105.12,55.58 104.48,57.17 103.84,58.83 103.19,60.54 102.55,62.3 101.91,64.1 101.27,65.95 100.63,67.84 99.98,69.76 99.34,71.71 98.7,73.67 98.06,75.66 97.42,77.65 96.77,79.65 96.13,81.65 95.49,83.64 94.85,85.61 94.21,87.57 93.56,89.5 92.92,91.4 92.28,93.26 91.64,95.09 91,96.86 90.35,98.59 89.71,100.27 89.07,101.89 88.43,103.45 87.79,104.94 87.14,106.38 86.5,107.75 85.86,109.05 85.22,110.29 84.58,111.46 83.93,112.57 83.29,113.61 82.65,114.58 82.01,115.49 81.37,116.37 80.72,117.2 80.08,117.97 79.44,118.68 78.8,119.32 78.16,119.91 77.51,120.45 76.87,120.93 76.23,121.37 75.59,121.77 74.95,122.12 74.3,122.44 73.66,122.72 73.02,122.97 72.38,123.19 71.74,123.38 71.09,123.55 70.45,123.7 69.81,123.84 69.17,123.95 68.53,124.05 67.88,124.13" fill="#ff0000" stroke="#ff0000" stroke-width="1.5" stroke-linejoin="round"/>
<line x1="60.18" x2="85.86" y1="124.6" y2="124.6" stroke="#ff0000" stroke-width="0.7"/>
<line x1="124.38" x2="168.4" y1="33.45" y2="33.45" stroke="#ff0000" stroke-width="0.7"/>
<g fill="#ff0000"><circle cx="58.9" cy="124.57" r="1.05"/><circle cx="60.18" cy="124.55" r="1.05"/><circle cx="61.46" cy="124.53" r="1.05"/><circle cx="62.75" cy="124.49" r="1.05"/><circle cx="64.03" cy="124.44" r="1.05"/><circle cx="65.32" cy="124.37" r="1.05"/><circle cx="66.6" cy="124.27" r="1.05"/><circle cx="67.88" cy="124.13" r="1.05"/><circle cx="69.17" cy="123.95" r="1.05"/><circle cx="70.45" cy="123.7" r="1.05"/><circle cx="71.74" cy="123.38" r="1.05"/><circle cx="73.02" cy="122.97" r="1.05"/><circle cx="74.3" cy="122.44" r="1.05"/><circle cx="75.59" cy="121.77" r="1.05"/><circle cx="76.87" cy="120.93" r="1.05"/><circle cx="78.16" cy="119.91" r="1.05"/><circle cx="79.44" cy="118.68" r="1.05"/><circle cx="80.72" cy="117.2" r="1.05"/><circle cx="82.01" cy="115.46" r="1.05"/><circle cx="83.29" cy="113.45" r="1.05"/><circle cx="84.58" cy="111.13" r="1.05"/><circle cx="85.86" cy="108.52" r="1.05"/><circle cx="87.14" cy="105.61" r="1.05"/><circle cx="88.43" cy="102.41" r="1.05"/><circle cx="89.71" cy="98.94" r="1.05"/><circle cx="91" cy="95.22" r="1.05"/><circle cx="92.28" cy="91.3" r="1.05"/><circle cx="93.56" cy="87.22" r="1.05"/><circle cx="94.85" cy="83.03" r="1.05"/><circle cx="96.13" cy="78.78" r="1.05"/><circle cx="97.42" cy="74.54" r="1.05"/><circle cx="98.7" cy="70.36" r="1.05"/><circle cx="99.98" cy="66.29" r="1.05"/><circle cx="101.27" cy="62.39" r="1.05"/><circle cx="102.55" cy="58.7" r="1.05"/><circle cx="103.84" cy="55.26" r="1.05"/><circle cx="105.12" cy="52.09" r="1.05"/><circle cx="106.4" cy="49.21" r="1.05"/><circle cx="107.69" cy="46.64" r="1.05"/><circle cx="108.97" cy="44.36" r="1.05"/><circle cx="110.26" cy="42.38" r="1.05"/><circle cx="111.54" cy="40.67" r="1.05"/><circle cx="112.82" cy="39.22" r="1.05"/><circle cx="114.11" cy="38.01" r="1.05"/><circle cx="115.39" cy="37.01" r="1.05"/><circle cx="116.68" cy="36.2" r="1.05"/><circle cx="117.96" cy="35.55" r="1.05"/><circle cx="119.24" cy="35.03" r="1.05"/><circle cx="120.53" cy="34.63" r="1.05"/><circle cx="121.81" cy="34.31" r="1.05"/><circle cx="123.1" cy="34.08" r="1.05"/><circle cx="124.38" cy="33.9" r="1.05"/><circle cx="125.66" cy="33.77" r="1.05"/><circle cx="126.95" cy="33.67" r="1.05"/><circle cx="128.23" cy="33.6" r="1.05"/><circle cx="129.52" cy="33.55" r="1.05"/><circle cx="130.8" cy="33.52" r="1.05"/><circle cx="132.08" cy="33.5" r="1.05"/><circle cx="133.37" cy="33.48" r="1.05"/><circle cx="58.25" cy="124.57" r="1.05"/><circle cx="59.54" cy="124.56" r="1.05"/><circle cx="60.82" cy="124.53" r="1.05"/><circle cx="62.11" cy="124.5" r="1.05"/><circle cx="63.39" cy="124.46" r="1.05"/><circle cx="64.67" cy="124.39" r="1.05"/><circle cx="65.96" cy="124.31" r="1.05"/><circle cx="67.24" cy="124.18" r="1.05"/><circle cx="68.53" cy="124.02" r="1.05"/><circle cx="69.81" cy="123.81" r="1.05"/><circle cx="71.09" cy="123.52" r="1.05"/><circle cx="72.38" cy="123.15" r="1.05"/><circle cx="73.66" cy="122.68" r="1.05"/><circle cx="74.95" cy="122.08" r="1.05"/><circle cx="76.23" cy="121.33" r="1.05"/><circle cx="77.51" cy="120.41" r="1.05"/><circle cx="78.8" cy="119.3" r="1.05"/><circle cx="80.08" cy="117.96" r="1.05"/><circle cx="81.37" cy="116.38" r="1.05"/><circle cx="82.65" cy="114.54" r="1.05"/><circle cx="83.93" cy="112.42" r="1.05"/><circle cx="85.22" cy="110" r="1.05"/><circle cx="86.5" cy="107.3" r="1.05"/><circle cx="87.79" cy="104.31" r="1.05"/><circle cx="89.07" cy="101.04" r="1.05"/><circle cx="90.35" cy="97.52" r="1.05"/><circle cx="91.64" cy="93.78" r="1.05"/><circle cx="92.92" cy="89.85" r="1.05"/><circle cx="94.21" cy="85.78" r="1.05"/><circle cx="95.49" cy="81.63" r="1.05"/><circle cx="96.77" cy="77.44" r="1.05"/><circle cx="98.06" cy="73.27" r="1.05"/><circle cx="99.34" cy="69.18" r="1.05"/><circle cx="100.63" cy="65.21" r="1.05"/><circle cx="101.91" cy="61.42" r="1.05"/><circle cx="103.19" cy="57.84" r="1.05"/><circle cx="104.48" cy="54.51" r="1.05"/><circle cx="105.76" cy="51.45" r="1.05"/><circle cx="107.05" cy="48.68" r="1.05"/><circle cx="108.33" cy="46.19" r="1.05"/><circle cx="109.61" cy="44" r="1.05"/><circle cx="110.9" cy="42.09" r="1.05"/><circle cx="112.18" cy="40.45" r="1.05"/><circle cx="113.47" cy="39.06" r="1.05"/><circle cx="114.75" cy="37.89" r="1.05"/><circle cx="116.03" cy="36.92" r="1.05"/><circle cx="117.32" cy="36.14" r="1.05"/><circle cx="118.6" cy="35.51" r="1.05"/><circle cx="119.89" cy="35" r="1.05"/><circle cx="121.17" cy="34.61" r="1.05"/><circle cx="122.45" cy="34.31" r="1.05"/><circle cx="123.74" cy="34.08" r="1.05"/><circle cx="125.02" cy="33.9" r="1.05"/><circle cx="126.31" cy="33.77" r="1.05"/><circle cx="127.59" cy="33.68" r="1.05"/><circle cx="128.87" cy="33.61" r="1.05"/><circle cx="130.16" cy="33.56" r="1.05"/><circle cx="131.44" cy="33.52" r="1.05"/><circle cx="132.73" cy="33.5" r="1.05"/><circle cx="134.01" cy="33.48" r="1.05"/><circle cx="57.87" cy="124.57" r="1.05"/><circle cx="59.15" cy="124.56" r="1.05"/><circle cx="60.44" cy="124.54" r="1.05"/><circle cx="61.72" cy="124.51" r="1.05"/><circle cx="63" cy="124.46" r="1.05"/><circle cx="64.29" cy="124.4" r="1.05"/><circle cx="65.57" cy="124.32" r="1.05"/><circle cx="66.86" cy="124.21" r="1.05"/><circle cx="68.14" cy="124.05" r="1.05"/><circle cx="69.42" cy="123.85" r="1.05"/><circle cx="70.71" cy="123.58" r="1.05"/><circle cx="71.99" cy="123.23" r="1.05"/><circle cx="73.28" cy="122.79" r="1.05"/><circle cx="74.56" cy="122.23" r="1.05"/><circle cx="75.84" cy="121.53" r="1.05"/><circle cx="77.13" cy="120.67" r="1.05"/><circle cx="78.41" cy="119.63" r="1.05"/><circle cx="79.7" cy="118.38" r="1.05"/><circle cx="80.98" cy="116.89" r="1.05"/><circle cx="82.26" cy="115.16" r="1.05"/><circle cx="83.55" cy="113.16" r="1.05"/><circle cx="84.83" cy="110.88" r="1.05"/><circle cx="86.12" cy="108.31" r="1.05"/><circle cx="87.4" cy="105.47" r="1.05"/><circle cx="88.68" cy="102.35" r="1.05"/><circle cx="89.97" cy="98.98" r="1.05"/><circle cx="91.25" cy="95.37" r="1.05"/><circle cx="92.54" cy="91.57" r="1.05"/><circle cx="93.82" cy="87.62" r="1.05"/><circle cx="95.1" cy="83.56" r="1.05"/><circle cx="96.39" cy="79.44" r="1.05"/><circle cx="97.67" cy="75.31" r="1.05"/><circle cx="98.96" cy="71.23" r="1.05"/><circle cx="100.24" cy="67.25" r="1.05"/><circle cx="101.52" cy="63.42" r="1.05"/><circle cx="102.81" cy="59.78" r="1.05"/><circle cx="104.09" cy="56.35" r="1.05"/><circle cx="105.38" cy="53.18" r="1.05"/><circle cx="106.66" cy="50.28" r="1.05"/><circle cx="107.94" cy="47.66" r="1.05"/><circle cx="109.23" cy="45.33" r="1.05"/><circle cx="110.51" cy="43.27" r="1.05"/><circle cx="111.8" cy="41.48" r="1.05"/><circle cx="113.08" cy="39.95" r="1.05"/><circle cx="114.36" cy="38.66" r="1.05"/><circle cx="115.65" cy="37.57" r="1.05"/><circle cx="116.93" cy="36.68" r="1.05"/><circle cx="118.22" cy="35.95" r="1.05"/><circle cx="119.5" cy="35.36" r="1.05"/><circle cx="120.78" cy="34.9" r="1.05"/><circle cx="122.07" cy="34.53" r="1.05"/><circle cx="123.35" cy="34.25" r="1.05"/><circle cx="124.64" cy="34.03" r="1.05"/><circle cx="125.92" cy="33.87" r="1.05"/><circle cx="127.2" cy="33.75" r="1.05"/><circle cx="128.49" cy="33.66" r="1.05"/><circle cx="129.77" cy="33.6" r="1.05"/><circle cx="131.06" cy="33.55" r="1.05"/><circle cx="132.34" cy="33.52" r="1.05"/><circle cx="133.62" cy="33.5" r="1.05"/><circle cx="134.91" cy="33.48" r="1.05"/><circle cx="57.23" cy="124.57" r="1.05"/><circle cx="58.51" cy="124.56" r="1.05"/><circle cx="59.79" cy="124.54" r="1.05"/><circle cx="61.08" cy="124.51" r="1.05"/><circle cx="62.36" cy="124.47" r="1.05"/><circle cx="63.65" cy="124.42" r="1.05"/><circle cx="64.93" cy="124.34" r="1.05"/><circle cx="66.21" cy="124.24" r="1.05"/><circle cx="67.5" cy="124.1" r="1.05"/><circle cx="68.78" cy="123.92" r="1.05"/><circle cx="70.07" cy="123.68" r="1.05"/><circle cx="71.35" cy="123.37" r="1.05"/><circle cx="72.63" cy="122.97" r="1.05"/><circle cx="73.92" cy="122.46" r="1.05"/><circle cx="75.2" cy="121.83" r="1.05"/><circle cx="76.49" cy="121.05" r="1.05"/><circle cx="77.77" cy="120.11" r="1.05"/><circle cx="79.05" cy="118.97" r="1.05"/><circle cx="80.34" cy="117.62" r="1.05"/><circle cx="81.62" cy="116.03" r="1.05"/><circle cx="82.91" cy="114.19" r="1.05"/><circle cx="84.19" cy="112.09" r="1.05"/><circle cx="85.47" cy="109.72" r="1.05"/><circle cx="86.76" cy="107.07" r="1.05"/><circle cx="88.04" cy="104.15" r="1.05"/><circle cx="89.33" cy="100.98" r="1.05"/><circle cx="90.61" cy="97.56" r="1.05"/><circle cx="91.89" cy="93.94" r="1.05"/><circle cx="93.18" cy="90.14" r="1.05"/><circle cx="94.46" cy="86.21" r="1.05"/><circle cx="95.75" cy="82.19" r="1.05"/><circle cx="97.03" cy="78.12" r="1.05"/><circle cx="98.31" cy="74.08" r="1.05"/><circle cx="99.6" cy="70.09" r="1.05"/><circle cx="100.88" cy="66.21" r="1.05"/><circle cx="102.17" cy="62.48" r="1.05"/><circle cx="103.45" cy="58.95" r="1.05"/><circle cx="104.73" cy="55.64" r="1.05"/><circle cx="106.02" cy="52.57" r="1.05"/><circle cx="107.3" cy="49.77" r="1.05"/><circle cx="108.59" cy="47.25" r="1.05"/><circle cx="109.87" cy="44.99" r="1.05"/><circle cx="111.15" cy="43.01" r="1.05"/><circle cx="112.44" cy="41.29" r="1.05"/><circle cx="113.72" cy="39.81" r="1.05"/><circle cx="115.01" cy="38.55" r="1.05"/><circle cx="116.29" cy="37.5" r="1.05"/><circle cx="117.57" cy="36.63" r="1.05"/><circle cx="118.86" cy="35.92" r="1.05"/><circle cx="120.14" cy="35.35" r="1.05"/><circle cx="121.43" cy="34.89" r="1.05"/><circle cx="122.71" cy="34.54" r="1.05"/><circle cx="123.99" cy="34.26" r="1.05"/><circle cx="125.28" cy="34.04" r="1.05"/><circle cx="126.56" cy="33.88" r="1.05"/><circle cx="127.85" cy="33.76" r="1.05"/><circle cx="129.13" cy="33.67" r="1.05"/><circle cx="130.41" cy="33.6" r="1.05"/><circle cx="131.7" cy="33.56" r="1.05"/><circle cx="132.98" cy="33.52" r="1.05"/><circle cx="134.27" cy="33.5" r="1.05"/><circle cx="135.55" cy="33.48" r="1.05"/><circle cx="56.84" cy="124.57" r="1.05"/><circle cx="58.13" cy="124.56" r="1.05"/><circle cx="59.41" cy="124.54" r="1.05"/><circle cx="60.69" cy="124.51" r="1.05"/><circle cx="61.98" cy="124.48" r="1.05"/><circle cx="63.26" cy="124.42" r="1.05"/><circle cx="64.55" cy="124.35" r="1.05"/><circle cx="65.83" cy="124.25" r="1.05"/><circle cx="67.11" cy="124.12" r="1.05"/><circle cx="68.4" cy="123.94" r="1.05"/><circle cx="69.68" cy="123.72" r="1.05"/><circle cx="70.97" cy="123.42" r="1.05"/><circle cx="72.25" cy="123.04" r="1.05"/><circle cx="73.53" cy="122.56" r="1.05"/><circle cx="74.82" cy="121.97" r="1.05"/><circle cx="76.1" cy="121.24" r="1.05"/><circle cx="77.39" cy="120.34" r="1.05"/><circle cx="78.67" cy="119.27" r="1.05"/><circle cx="79.95" cy="118" r="1.05"/><circle cx="81.24" cy="116.5" r="1.05"/><circle cx="82.52" cy="114.77" r="1.05"/><circle cx="83.81" cy="112.78" r="1.05"/><circle cx="85.09" cy="110.53" r="1.05"/><circle cx="86.37" cy="108.02" r="1.05"/><circle cx="87.66" cy="105.24" r="1.05"/><circle cx="88.94" cy="102.2" r="1.05"/><circle cx="90.23" cy="98.93" r="1.05"/><circle cx="91.51" cy="95.45" r="1.05"/><circle cx="92.79" cy="91.78" r="1.05"/><circle cx="94.08" cy="87.96" r="1.05"/><circle cx="95.36" cy="84.04" r="1.05"/><circle cx="96.65" cy="80.05" r="1.05"/><circle cx="97.93" cy="76.06" r="1.05"/><circle cx="99.21" cy="72.1" r="1.05"/><circle cx="100.5" cy="68.22" r="1.05"/><circle cx="101.78" cy="64.47" r="1.05"/><circle cx="103.07" cy="60.89" r="1.05"/><circle cx="104.35" cy="57.5" r="1.05"/><circle cx="105.63" cy="54.34" r="1.05"/><circle cx="106.92" cy="51.43" r="1.05"/><circle cx="108.2" cy="48.78" r="1.05"/><circle cx="109.49" cy="46.39" r="1.05"/><circle cx="110.77" cy="44.27" r="1.05"/><circle cx="112.05" cy="42.41" r="1.05"/><circle cx="113.34" cy="40.79" r="1.05"/><circle cx="114.62" cy="39.41" r="1.05"/><circle cx="115.91" cy="38.23" r="1.05"/><circle cx="117.19" cy="37.25" r="1.05"/><circle cx="118.47" cy="36.44" r="1.05"/><circle cx="119.76" cy="35.78" r="1.05"/><circle cx="121.04" cy="35.24" r="1.05"/><circle cx="122.33" cy="34.81" r="1.05"/><circle cx="123.61" cy="34.48" r="1.05"/><circle cx="124.89" cy="34.22" r="1.05"/><circle cx="126.18" cy="34.01" r="1.05"/><circle cx="127.46" cy="33.86" r="1.05"/><circle cx="128.75" cy="33.75" r="1.05"/><circle cx="130.03" cy="33.66" r="1.05"/><circle cx="131.31" cy="33.6" r="1.05"/><circle cx="132.6" cy="33.55" r="1.05"/><circle cx="133.88" cy="33.52" r="1.05"/><circle cx="135.17" cy="33.5" r="1.05"/><circle cx="136.45" cy="33.48" r="1.05"/></g>
<g fill="#ff0000"><circle cx="56.33" cy="124.58" r="1.2"/><circle cx="57.61" cy="124.57" r="1.2"/><circle cx="58.9" cy="124.56" r="1.2"/><circle cx="60.18" cy="124.55" r="1.2"/><circle cx="61.46" cy="124.54" r="1.2"/><circle cx="62.75" cy="124.52" r="1.2"/><circle cx="64.03" cy="124.5" r="1.2"/><circle cx="65.32" cy="124.47" r="1.2"/><circle cx="66.6" cy="124.44" r="1.2"/><circle cx="67.88" cy="124.4" r="1.2"/><circle cx="69.17" cy="124.35" r="1.2"/><circle cx="70.45" cy="124.29" r="1.2"/><circle cx="71.74" cy="124.22" r="1.2"/><circle cx="73.02" cy="124.13" r="1.2"/><circle cx="74.3" cy="124.03" r="1.2"/><circle cx="75.59" cy="123.91" r="1.2"/><circle cx="76.87" cy="123.76" r="1.2"/><circle cx="78.16" cy="123.59" r="1.2"/><circle cx="79.44" cy="123.39" r="1.2"/><circle cx="80.72" cy="123.16" r="1.2"/><circle cx="82.01" cy="122.88" r="1.2"/><circle cx="83.29" cy="122.57" r="1.2"/><circle cx="84.58" cy="122.21" r="1.2"/><circle cx="85.86" cy="121.8" r="1.2"/><circle cx="87.14" cy="121.32" r="1.2"/><circle cx="88.43" cy="120.79" r="1.2"/><circle cx="89.71" cy="120.19" r="1.2"/><circle cx="91" cy="119.49" r="1.2"/><circle cx="92.28" cy="118.47" r="1.2"/><circle cx="93.56" cy="117.3" r="1.2"/><circle cx="94.85" cy="115.97" r="1.2"/><circle cx="96.13" cy="114.46" r="1.2"/><circle cx="97.42" cy="112.78" r="1.2"/><circle cx="98.7" cy="110.93" r="1.2"/><circle cx="99.98" cy="108.96" r="1.2"/><circle cx="101.27" cy="106.82" r="1.2"/><circle cx="102.55" cy="104.52" r="1.2"/><circle cx="103.84" cy="102.05" r="1.2"/><circle cx="105.12" cy="99.29" r="1.2"/><circle cx="106.4" cy="96.35" r="1.2"/><circle cx="107.69" cy="93.28" r="1.2"/><circle cx="108.97" cy="90.08" r="1.2"/><circle cx="110.26" cy="86.8" r="1.2"/><circle cx="111.54" cy="83.44" r="1.2"/><circle cx="112.82" cy="80.05" r="1.2"/><circle cx="114.11" cy="76.65" r="1.2"/><circle cx="115.39" cy="73.27" r="1.2"/><circle cx="116.68" cy="70.05" r="1.2"/><circle cx="117.96" cy="66.9" r="1.2"/><circle cx="119.24" cy="63.65" r="1.2"/><circle cx="120.53" cy="60.54" r="1.2"/><circle cx="121.81" cy="57.75" r="1.2"/><circle cx="123.1" cy="55.14" r="1.2"/><circle cx="124.38" cy="52.99" r="1.2"/><circle cx="125.66" cy="50.98" r="1.2"/><circle cx="126.95" cy="48.4" r="1.2"/><circle cx="128.23" cy="45.82" r="1.2"/><circle cx="129.52" cy="43.57" r="1.2"/><circle cx="130.8" cy="41.6" r="1.2"/><circle cx="132.08" cy="39.91" r="1.2"/><circle cx="133.37" cy="38.51" r="1.2"/><circle cx="134.65" cy="37.35" r="1.2"/><circle cx="135.94" cy="36.4" r="1.2"/><circle cx="137.22" cy="35.65" r="1.2"/><circle cx="138.5" cy="35.07" r="1.2"/><circle cx="139.79" cy="34.63" r="1.2"/><circle cx="141.07" cy="34.29" r="1.2"/><circle cx="142.36" cy="34.04" r="1.2"/><circle cx="143.64" cy="33.86" r="1.2"/><circle cx="144.92" cy="33.73" r="1.2"/><circle cx="146.21" cy="33.64" r="1.2"/><circle cx="147.49" cy="33.57" r="1.2"/><circle cx="148.78" cy="33.53" r="1.2"/><circle cx="150.06" cy="33.5" r="1.2"/><circle cx="151.34" cy="33.48" r="1.2"/></g>
<circle cx="159.05" cy="33.45" r="0.9" fill="none" stroke="#ff0000" stroke-width="0.5"/>
<line x1="29.5" x2="168.4" y1="124.6" y2="124.6" stroke="#bbb" stroke-opacity="0.8" stroke-width="0.6" stroke-dasharray="2.9 1.6"/>
<line x1="29.5" x2="168.4" y1="33.45" y2="33.45" stroke="#bbb" stroke-opacity="0.8" stroke-width="0.6" stroke-dasharray="2.9 1.6"/>
<rect x="29.5" y="29.5" width="138.9" height="98.4" fill="none" stroke="#2a2a2a" stroke-width="0.9"/>
<path d="M29.5 124.6H25.9M34.9 127.9V131.7M29.5 106.37H25.9M60.5 127.9V131.7M29.5 88.14H25.9M86.1 127.9V131.7M29.5 69.91H25.9M111.7 127.9V131.7M29.5 51.68H25.9M137.3 127.9V131.7M29.5 33.45H25.9M162.9 127.9V131.7M34.9 127.7H162.9M29.25 124.6V33.45" stroke="#222" stroke-width="0.8" fill="none"/>
<text transform="translate(34.9,140.6) scale(0.1)" font-size="57" text-anchor="middle" stroke="#000" stroke-width="1.2" fill="#000">0</text>
<text transform="translate(20.8,124.6) rotate(-90) scale(0.1)" font-size="57" text-anchor="middle" stroke="#000" stroke-width="1.2" fill="#000">0.0</text>
<text transform="translate(60.5,140.6) scale(0.1)" font-size="57" text-anchor="middle" stroke="#000" stroke-width="1.2" fill="#000">2</text>
<text transform="translate(20.8,106.37) rotate(-90) scale(0.1)" font-size="57" text-anchor="middle" stroke="#000" stroke-width="1.2" fill="#000">0.2</text>
<text transform="translate(86.1,140.6) scale(0.1)" font-size="57" text-anchor="middle" stroke="#000" stroke-width="1.2" fill="#000">4</text>
<text transform="translate(20.8,88.14) rotate(-90) scale(0.1)" font-size="57" text-anchor="middle" stroke="#000" stroke-width="1.2" fill="#000">0.4</text>
<text transform="translate(111.7,140.6) scale(0.1)" font-size="57" text-anchor="middle" stroke="#000" stroke-width="1.2" fill="#000">6</text>
<text transform="translate(20.8,69.91) rotate(-90) scale(0.1)" font-size="57" text-anchor="middle" stroke="#000" stroke-width="1.2" fill="#000">0.6</text>
<text transform="translate(137.3,140.6) scale(0.1)" font-size="57" text-anchor="middle" stroke="#000" stroke-width="1.2" fill="#000">8</text>
<text transform="translate(20.8,51.68) rotate(-90) scale(0.1)" font-size="57" text-anchor="middle" stroke="#000" stroke-width="1.2" fill="#000">0.8</text>
<text transform="translate(162.9,140.6) scale(0.1)" font-size="57" text-anchor="middle" stroke="#000" stroke-width="1.2" fill="#000">10</text>
<text transform="translate(20.8,33.45) rotate(-90) scale(0.1)" font-size="57" text-anchor="middle" stroke="#000" stroke-width="1.2" fill="#000">1.0</text>
<text transform="translate(6.3,78.55) rotate(-90) scale(0.1)" font-size="70" text-anchor="middle" stroke="#000" stroke-width="1" fill="#000">CDF</text>
<text transform="translate(82.9,153.8) scale(0.1)" font-size="75" stroke="#000" stroke-width="1.5" fill="#000">d(ρ,</text>
<text transform="translate(98.6,153.8) scale(0.1)" font-size="75" stroke="#000" stroke-width="1.5" fill="#000">ρ</text>
<text transform="translate(102.7,155.3) scale(0.1)" font-size="51" stroke="#000" stroke-width="1" fill="#000">true</text>
<text transform="translate(112.5,153.8) scale(0.1)" font-size="75" stroke="#000" stroke-width="1.5" fill="#000">)</text>
<g stroke-width="1.4" fill="none">
<line x1="128.2" x2="138" y1="48.2" y2="48.2" stroke="#ff0000"/>
<line x1="128.2" x2="138" y1="53.97" y2="53.97" stroke="#00ff00"/>
<line x1="128.2" x2="138" y1="59.74" y2="59.74" stroke="#0000ff"/>
</g>
<text transform="translate(142,49.85) scale(0.1)" font-size="45.5" fill="#000">N = 20</text>
<text transform="translate(142,55.62) scale(0.1)" font-size="45.5" fill="#000">N = 50</text>
<text transform="translate(142,61.39) scale(0.1)" font-size="45.5" fill="#000">N = 100</text>
<g stroke="#000" stroke-width="1.3" fill="none">
<line x1="121.8" x2="131.5" y1="84.5" y2="84.5"/>
<line x1="121.8" x2="126.8" y1="90.27" y2="90.27"/>
<line x1="121.8" x2="122.8" y1="96.04" y2="96.04"/>
<line x1="126.6" x2="127.6" y1="96.04" y2="96.04"/>
<line x1="121.8" x2="122.8" y1="101.81" y2="101.81"/>
<line x1="126.6" x2="131.2" y1="101.81" y2="101.81"/>
</g>
<text transform="translate(135.3,86.15) scale(0.1)" font-size="48" fill="#000">unif prior</text>
<text transform="translate(135.3,91.92) scale(0.1)" font-size="48" fill="#000">exp(0.1) prior</text>
<text transform="translate(135.3,97.69) scale(0.1)" font-size="48" fill="#000">exp(1) prior</text>
<text transform="translate(135.3,103.46) scale(0.1)" font-size="48" fill="#000">exp(10) prior</text>
</g>
<g transform="translate(0,165)">
<text transform="translate(98.8,17.7) scale(0.1)" font-size="76.5" text-anchor="middle" font-weight="bold" fill="#000">Exact partition function</text>
<line x1="29.5" x2="168.4" y1="124.6" y2="124.6" stroke="#7f7f7f" stroke-width="0.7" stroke-dasharray="2.9 1.6"/>
<line x1="29.5" x2="168.4" y1="33.45" y2="33.45" stroke="#7f7f7f" stroke-width="0.7" stroke-dasharray="2.9 1.6"/>
<line x1="34.9" x2="34.9" y1="29.5" y2="127.9" stroke="#333" stroke-width="0.9"/>
<line x1="40.28" x2="47.34" y1="124.6" y2="124.6" stroke="#ff0000" stroke-width="0.8"/>
<line x1="67.88" x2="89.71" y1="33.45" y2="33.45" stroke="#ff0000" stroke-width="0.8"/>
<path d="M42.33 124.6L42.33 124.44L43.62 124.44L43.62 124.21L44.9 124.21L44.9 123.73L46.18 123.73L46.18 122.8L47.47 122.8L47.47 121.25L48.75 121.25L48.75 118.02L50.04 118.02L50.04 113.93L51.32 113.93L51.32 107.09L52.6 107.09L52.6 98.99L53.89 98.99L53.89 88.73L55.17 88.73L55.17 76.84L56.46 76.84L56.46 66.55L57.74 66.55L57.74 56.37L59.02 56.37L59.02 49.99L60.31 49.99L60.31 44.85L61.59 44.85L61.59 41.52L62.88 41.52L62.88 38.97L64.16 38.97L64.16 37.32L65.44 37.32L65.44 36.09L66.73 36.09L66.73 35.11L68.01 35.11L68.01 34.44L69.3 34.44L69.3 34.02L70.58 34.02L70.58 33.74L71.86 33.74L71.86 33.59" fill="none" stroke="#ff0000" stroke-width="0.8" stroke-opacity="0.4"/>
<path d="M44.52 124.6L44.52 124.44L45.8 124.44L45.8 124.21L47.08 124.21L47.08 123.73L48.37 123.73L48.37 122.8L49.65 122.8L49.65 121.25L50.94 121.25L50.94 118.02L52.22 118.02L52.22 113.93L53.5 113.93L53.5 107.09L54.79 107.09L54.79 98.99L56.07 98.99L56.07 88.73L57.36 88.73L57.36 76.84L58.64 76.84L58.64 66.55L59.92 66.55L59.92 56.37L61.21 56.37L61.21 49.99L62.49 49.99L62.49 44.85L63.78 44.85L63.78 41.52L65.06 41.52L65.06 38.97L66.34 38.97L66.34 37.32L67.63 37.32L67.63 36.09L68.91 36.09L68.91 35.11L70.2 35.11L70.2 34.44L71.48 34.44L71.48 34.02L72.76 34.02L72.76 33.74L74.05 33.74L74.05 33.59" fill="none" stroke="#ff0000" stroke-width="0.8" stroke-opacity="0.4"/>
<path d="M43.49 124.6L43.49 124.44L44.77 124.44L44.77 124.21L46.06 124.21L46.06 123.73L47.34 123.73L47.34 122.8L48.62 122.8L48.62 121.25L49.91 121.25L49.91 118.02L51.19 118.02L51.19 113.93L52.48 113.93L52.48 107.09L53.76 107.09L53.76 98.99L55.04 98.99L55.04 88.73L56.33 88.73L56.33 76.84L57.61 76.84L57.61 66.55L58.9 66.55L58.9 56.37L60.18 56.37L60.18 49.99L61.46 49.99L61.46 44.85L62.75 44.85L62.75 41.52L64.03 41.52L64.03 38.97L65.32 38.97L65.32 37.32L66.6 37.32L66.6 36.09L67.88 36.09L67.88 35.11L69.17 35.11L69.17 34.44L70.45 34.44L70.45 34.02L71.74 34.02L71.74 33.74L73.02 33.74L73.02 33.59" fill="none" stroke="#ff0000" stroke-width="0.8" stroke-opacity="1"/>
<g fill="#ff0000"><circle cx="61.21" cy="49.99" r="1.4"/><circle cx="62.49" cy="44.85" r="1.4"/><circle cx="63.78" cy="41.52" r="1.4"/><circle cx="65.06" cy="38.97" r="1.4"/><circle cx="66.34" cy="37.32" r="1.4"/><circle cx="67.63" cy="36.09" r="1.4"/><circle cx="68.91" cy="35.11" r="1.4"/><circle cx="70.2" cy="34.44" r="1.4"/><circle cx="71.48" cy="34.02" r="1.4"/><circle cx="44.77" cy="124.21" r="1.4"/><circle cx="46.06" cy="123.73" r="1.4"/><circle cx="47.34" cy="122.8" r="1.4"/><circle cx="48.62" cy="121.25" r="1.4"/><circle cx="49.91" cy="118.02" r="1.4"/><circle cx="51.19" cy="113.93" r="1.4"/><circle cx="52.48" cy="107.09" r="1.4"/><circle cx="53.76" cy="98.99" r="1.4"/><circle cx="55.04" cy="88.73" r="1.4"/><circle cx="56.33" cy="76.84" r="1.4"/><circle cx="57.61" cy="66.55" r="1.4"/><circle cx="58.9" cy="56.37" r="1.4"/><circle cx="60.18" cy="49.99" r="1.4"/><circle cx="61.46" cy="44.85" r="1.4"/><circle cx="62.75" cy="41.52" r="1.4"/><circle cx="64.03" cy="38.97" r="1.4"/><circle cx="65.32" cy="37.32" r="1.4"/><circle cx="66.6" cy="36.09" r="1.4"/><circle cx="67.88" cy="35.11" r="1.4"/><circle cx="69.17" cy="34.44" r="1.4"/><circle cx="70.45" cy="34.02" r="1.4"/></g>
<circle cx="41.56" cy="124.6" r="1.0" fill="#fff" stroke="#ff0000" stroke-width="0.55"/>
<line x1="46.06" x2="51.19" y1="124.6" y2="124.6" stroke="#00ff00" stroke-width="0.9"/>
<line x1="64.03" x2="94.21" y1="33.45" y2="33.45" stroke="#00ff00" stroke-width="0.9"/>
<path d="M49.65 124.6L49.65 124.52L50.94 124.52L50.94 124.33L52.22 124.33L52.22 123.82L53.5 123.82L53.5 122.6L54.79 122.6L54.79 119.48L56.07 119.48L56.07 109.47L57.36 109.47L57.36 94.52L58.64 94.52L58.64 79.49L59.92 79.49L59.92 63.83L61.21 63.83L61.21 49.04L62.49 49.04L62.49 41.89L63.78 41.89L63.78 37.96L65.06 37.96L65.06 35.67L66.34 35.67L66.34 34.36L67.63 34.36L67.63 33.82L68.91 33.82L68.91 33.59L70.2 33.59L70.2 33.5" fill="none" stroke="#00ff00" stroke-width="1.0"/>
<path d="M49.14 124.6L49.14 124.52L50.42 124.52L50.42 124.33L51.71 124.33L51.71 123.82L52.99 123.82L52.99 122.6L54.27 122.6L54.27 119.48L55.56 119.48L55.56 109.47L56.84 109.47L56.84 94.52L58.13 94.52L58.13 79.49L59.41 79.49L59.41 63.83L60.69 63.83L60.69 49.04L61.98 49.04L61.98 41.89L63.26 41.89L63.26 37.96L64.55 37.96L64.55 35.67L65.83 35.67L65.83 34.36L67.11 34.36L67.11 33.82L68.4 33.82L68.4 33.59L69.68 33.59L69.68 33.5" fill="none" stroke="#00ff00" stroke-width="1.0"/>
<path d="M60.18 56.04L60.82 49.04L61.46 45.09L62.11 41.89L62.75 39.61L63.39 37.96L64.03 36.68L64.67 35.67L65.32 34.89L65.96 34.36L66.6 34.03L67.24 33.82L67.88 33.68L68.53 33.59L69.17 33.54L69.81 33.5L70.45 33.48" fill="none" stroke="#00ff00" stroke-width="2.6" stroke-linecap="round" stroke-linejoin="round"/>
<g fill="#00ff00"><circle cx="52.22" cy="123.82" r="1.25"/><circle cx="53.5" cy="122.6" r="1.25"/><circle cx="54.79" cy="119.48" r="1.25"/><circle cx="56.07" cy="109.47" r="1.25"/><circle cx="57.36" cy="94.52" r="1.25"/><circle cx="58.64" cy="79.49" r="1.25"/><circle cx="59.92" cy="63.83" r="1.25"/><circle cx="61.21" cy="49.04" r="1.25"/><circle cx="62.49" cy="41.89" r="1.25"/><circle cx="63.78" cy="37.96" r="1.25"/><circle cx="65.06" cy="35.67" r="1.25"/><circle cx="66.34" cy="34.36" r="1.25"/><circle cx="67.63" cy="33.82" r="1.25"/><circle cx="51.71" cy="123.82" r="1.25"/><circle cx="52.99" cy="122.6" r="1.25"/><circle cx="54.27" cy="119.48" r="1.25"/><circle cx="55.56" cy="109.47" r="1.25"/><circle cx="56.84" cy="94.52" r="1.25"/><circle cx="58.13" cy="79.49" r="1.25"/><circle cx="59.41" cy="63.83" r="1.25"/><circle cx="60.69" cy="49.04" r="1.25"/><circle cx="61.98" cy="41.89" r="1.25"/><circle cx="63.26" cy="37.96" r="1.25"/><circle cx="64.55" cy="35.67" r="1.25"/><circle cx="65.83" cy="34.36" r="1.25"/><circle cx="67.11" cy="33.82" r="1.25"/></g>
<line x1="31.7" x2="35.14" y1="124.6" y2="124.6" stroke="#0000ff" stroke-width="0.8"/>
<line x1="42.2" x2="98.06" y1="33.45" y2="33.45" stroke="#0000ff" stroke-width="1.0"/>
<path d="M34.5 124.6L34.5 124.37L36.3 124.37L36.3 120.32L37.58 120.32L37.58 109.38L38.87 109.38L38.87 89.49L40.15 89.49L40.15 66.45L41.43 66.45L41.43 48.04L42.46 48.04L42.46 37.56L44.77 37.56L44.77 34.43L47.08 34.43L47.08 33.72L49.78 33.72L49.78 33.49" fill="none" stroke="#0000ff" stroke-width="0.85"/>
<path d="M40.66 66.45L40.66 66.45L41.95 66.45L41.95 48.04L42.97 48.04L42.97 37.56L45.29 37.56L45.29 34.43L47.6 34.43L47.6 33.72L50.29 33.72L50.29 33.49" fill="none" stroke="#0000ff" stroke-width="1.0"/>
<g fill="#0000ff"><circle cx="36.3" cy="120.32" r="1.55"/><circle cx="37.58" cy="109.38" r="1.55"/><circle cx="38.87" cy="89.49" r="1.55"/><circle cx="40.15" cy="66.45" r="1.55"/><circle cx="41.43" cy="48.04" r="1.55"/><circle cx="42.46" cy="37.56" r="1.55"/><circle cx="44.77" cy="34.43" r="1.55"/><circle cx="47.08" cy="33.72" r="1.55"/><circle cx="49.78" cy="33.49" r="1.55"/></g>
<g fill="#0000ff"><circle cx="56.58" cy="33.45" r="1.05"/><circle cx="69.55" cy="33.45" r="1.05"/><circle cx="87.79" cy="33.45" r="1.05"/><circle cx="91" cy="33.45" r="1.05"/></g>
<g fill="#00ff00"><circle cx="93.56" cy="33.45" r="1.05"/><circle cx="77.51" cy="33.45" r="1.05"/></g>
<g fill="#ff0000"><circle cx="74.3" cy="33.45" r="1.05"/><circle cx="85.86" cy="33.45" r="1.05"/></g>
<circle cx="71.74" cy="33.45" r="1.0" fill="#fff" stroke="#0000ff" stroke-width="0.55"/>
<circle cx="80.72" cy="33.45" r="1.0" fill="#fff" stroke="#0000ff" stroke-width="0.55"/>
<line x1="29.5" x2="168.4" y1="124.6" y2="124.6" stroke="#ccc" stroke-opacity="0.8" stroke-width="0.6" stroke-dasharray="2.9 1.6"/>
<line x1="29.5" x2="168.4" y1="33.45" y2="33.45" stroke="#ccc" stroke-opacity="0.8" stroke-width="0.6" stroke-dasharray="2.9 1.6"/>
<rect x="29.5" y="29.5" width="138.9" height="98.4" fill="none" stroke="#2a2a2a" stroke-width="0.9"/>
<path d="M29.5 124.6H25.9M34.9 127.9V131.7M29.5 106.37H25.9M60.5 127.9V131.7M29.5 88.14H25.9M86.1 127.9V131.7M29.5 69.91H25.9M111.7 127.9V131.7M29.5 51.68H25.9M137.3 127.9V131.7M29.5 33.45H25.9M162.9 127.9V131.7M34.9 127.7H162.9M29.25 124.6V33.45" stroke="#222" stroke-width="0.8" fill="none"/>
<text transform="translate(34.9,140.6) scale(0.1)" font-size="57" text-anchor="middle" stroke="#000" stroke-width="1.2" fill="#000">0</text>
<text transform="translate(20.8,124.6) rotate(-90) scale(0.1)" font-size="57" text-anchor="middle" stroke="#000" stroke-width="1.2" fill="#000">0.0</text>
<text transform="translate(60.5,140.6) scale(0.1)" font-size="57" text-anchor="middle" stroke="#000" stroke-width="1.2" fill="#000">2</text>
<text transform="translate(20.8,106.37) rotate(-90) scale(0.1)" font-size="57" text-anchor="middle" stroke="#000" stroke-width="1.2" fill="#000">0.2</text>
<text transform="translate(86.1,140.6) scale(0.1)" font-size="57" text-anchor="middle" stroke="#000" stroke-width="1.2" fill="#000">4</text>
<text transform="translate(20.8,88.14) rotate(-90) scale(0.1)" font-size="57" text-anchor="middle" stroke="#000" stroke-width="1.2" fill="#000">0.4</text>
<text transform="translate(111.7,140.6) scale(0.1)" font-size="57" text-anchor="middle" stroke="#000" stroke-width="1.2" fill="#000">6</text>
<text transform="translate(20.8,69.91) rotate(-90) scale(0.1)" font-size="57" text-anchor="middle" stroke="#000" stroke-width="1.2" fill="#000">0.6</text>
<text transform="translate(137.3,140.6) scale(0.1)" font-size="57" text-anchor="middle" stroke="#000" stroke-width="1.2" fill="#000">8</text>
<text transform="translate(20.8,51.68) rotate(-90) scale(0.1)" font-size="57" text-anchor="middle" stroke="#000" stroke-width="1.2" fill="#000">0.8</text>
<text transform="translate(162.9,140.6) scale(0.1)" font-size="57" text-anchor="middle" stroke="#000" stroke-width="1.2" fill="#000">10</text>
<text transform="translate(20.8,33.45) rotate(-90) scale(0.1)" font-size="57" text-anchor="middle" stroke="#000" stroke-width="1.2" fill="#000">1.0</text>
<text transform="translate(6.3,78.55) rotate(-90) scale(0.1)" font-size="70" text-anchor="middle" stroke="#000" stroke-width="1" fill="#000">CDF</text>
<text transform="translate(82.9,153.8) scale(0.1)" font-size="75" stroke="#000" stroke-width="1.5" fill="#000">d(ρ,</text>
<text transform="translate(98.6,153.8) scale(0.1)" font-size="75" stroke="#000" stroke-width="1.5" fill="#000">ρ</text>
<text transform="translate(102.7,155.3) scale(0.1)" font-size="51" stroke="#000" stroke-width="1" fill="#000">true</text>
<text transform="translate(112.5,153.8) scale(0.1)" font-size="75" stroke="#000" stroke-width="1.5" fill="#000">)</text>
<g stroke-width="1.4" fill="none">
<line x1="89.9" x2="99.7" y1="48.2" y2="48.2" stroke="#ff0000"/>
<line x1="89.9" x2="99.7" y1="53.97" y2="53.97" stroke="#00ff00"/>
<line x1="89.9" x2="99.7" y1="59.74" y2="59.74" stroke="#0000ff"/>
</g>
<text transform="translate(103.7,49.85) scale(0.1)" font-size="45.5" fill="#000">N = 20</text>
<text transform="translate(103.7,55.62) scale(0.1)" font-size="45.5" fill="#000">N = 50</text>
<text transform="translate(103.7,61.39) scale(0.1)" font-size="45.5" fill="#000">N = 100</text>
<g stroke="#000" stroke-width="1.3" fill="none">
<line x1="83.3" x2="93" y1="84.5" y2="84.5"/>
<line x1="83.3" x2="88.3" y1="90.27" y2="90.27"/>
<line x1="83.3" x2="84.3" y1="96.04" y2="96.04"/>
<line x1="88.1" x2="89.1" y1="96.04" y2="96.04"/>
<line x1="83.3" x2="84.3" y1="101.81" y2="101.81"/>
<line x1="88.1" x2="92.7" y1="101.81" y2="101.81"/>
</g>
<text transform="translate(96.8,86.15) scale(0.1)" font-size="48" fill="#000">unif prior</text>
<text transform="translate(96.8,91.92) scale(0.1)" font-size="48" fill="#000">exp(0.1) prior</text>
<text transform="translate(96.8,97.69) scale(0.1)" font-size="48" fill="#000">exp(1) prior</text>
<text transform="translate(96.8,103.46) scale(0.1)" font-size="48" fill="#000">exp(10) prior</text>
</g>
<g transform="translate(183.5,165)">
<text transform="translate(98.8,17.7) scale(0.1)" font-size="76.5" text-anchor="middle" font-weight="bold" fill="#000">IS approximated partition function, K large</text>
<line x1="29.5" x2="168.4" y1="124.6" y2="124.6" stroke="#7f7f7f" stroke-width="0.7" stroke-dasharray="2.9 1.6"/>
<line x1="29.5" x2="168.4" y1="33.45" y2="33.45" stroke="#7f7f7f" stroke-width="0.7" stroke-dasharray="2.9 1.6"/>
<line x1="34.9" x2="34.9" y1="29.5" y2="127.9" stroke="#333" stroke-width="0.9"/>
<line x1="40.28" x2="47.34" y1="124.6" y2="124.6" stroke="#ff0000" stroke-width="0.8"/>
<line x1="67.88" x2="89.71" y1="33.45" y2="33.45" stroke="#ff0000" stroke-width="0.8"/>
<path d="M42.33 124.6L42.33 124.44L43.62 124.44L43.62 124.21L44.9 124.21L44.9 123.73L46.18 123.73L46.18 122.8L47.47 122.8L47.47 121.25L48.75 121.25L48.75 118.02L50.04 118.02L50.04 113.93L51.32 113.93L51.32 107.09L52.6 107.09L52.6 98.99L53.89 98.99L53.89 88.73L55.17 88.73L55.17 76.84L56.46 76.84L56.46 66.55L57.74 66.55L57.74 56.37L59.02 56.37L59.02 49.99L60.31 49.99L60.31 44.85L61.59 44.85L61.59 41.52L62.88 41.52L62.88 38.97L64.16 38.97L64.16 37.32L65.44 37.32L65.44 36.09L66.73 36.09L66.73 35.11L68.01 35.11L68.01 34.44L69.3 34.44L69.3 34.02L70.58 34.02L70.58 33.74L71.86 33.74L71.86 33.59" fill="none" stroke="#ff0000" stroke-width="0.8" stroke-opacity="0.4"/>
<path d="M44.52 124.6L44.52 124.44L45.8 124.44L45.8 124.21L47.08 124.21L47.08 123.73L48.37 123.73L48.37 122.8L49.65 122.8L49.65 121.25L50.94 121.25L50.94 118.02L52.22 118.02L52.22 113.93L53.5 113.93L53.5 107.09L54.79 107.09L54.79 98.99L56.07 98.99L56.07 88.73L57.36 88.73L57.36 76.84L58.64 76.84L58.64 66.55L59.92 66.55L59.92 56.37L61.21 56.37L61.21 49.99L62.49 49.99L62.49 44.85L63.78 44.85L63.78 41.52L65.06 41.52L65.06 38.97L66.34 38.97L66.34 37.32L67.63 37.32L67.63 36.09L68.91 36.09L68.91 35.11L70.2 35.11L70.2 34.44L71.48 34.44L71.48 34.02L72.76 34.02L72.76 33.74L74.05 33.74L74.05 33.59" fill="none" stroke="#ff0000" stroke-width="0.8" stroke-opacity="0.4"/>
<path d="M43.49 124.6L43.49 124.44L44.77 124.44L44.77 124.21L46.06 124.21L46.06 123.73L47.34 123.73L47.34 122.8L48.62 122.8L48.62 121.25L49.91 121.25L49.91 118.02L51.19 118.02L51.19 113.93L52.48 113.93L52.48 107.09L53.76 107.09L53.76 98.99L55.04 98.99L55.04 88.73L56.33 88.73L56.33 76.84L57.61 76.84L57.61 66.55L58.9 66.55L58.9 56.37L60.18 56.37L60.18 49.99L61.46 49.99L61.46 44.85L62.75 44.85L62.75 41.52L64.03 41.52L64.03 38.97L65.32 38.97L65.32 37.32L66.6 37.32L66.6 36.09L67.88 36.09L67.88 35.11L69.17 35.11L69.17 34.44L70.45 34.44L70.45 34.02L71.74 34.02L71.74 33.74L73.02 33.74L73.02 33.59" fill="none" stroke="#ff0000" stroke-width="0.8" stroke-opacity="1"/>
<g fill="#ff0000"><circle cx="61.21" cy="49.99" r="1.4"/><circle cx="62.49" cy="44.85" r="1.4"/><circle cx="63.78" cy="41.52" r="1.4"/><circle cx="65.06" cy="38.97" r="1.4"/><circle cx="66.34" cy="37.32" r="1.4"/><circle cx="67.63" cy="36.09" r="1.4"/><circle cx="68.91" cy="35.11" r="1.4"/><circle cx="70.2" cy="34.44" r="1.4"/><circle cx="71.48" cy="34.02" r="1.4"/><circle cx="44.77" cy="124.21" r="1.4"/><circle cx="46.06" cy="123.73" r="1.4"/><circle cx="47.34" cy="122.8" r="1.4"/><circle cx="48.62" cy="121.25" r="1.4"/><circle cx="49.91" cy="118.02" r="1.4"/><circle cx="51.19" cy="113.93" r="1.4"/><circle cx="52.48" cy="107.09" r="1.4"/><circle cx="53.76" cy="98.99" r="1.4"/><circle cx="55.04" cy="88.73" r="1.4"/><circle cx="56.33" cy="76.84" r="1.4"/><circle cx="57.61" cy="66.55" r="1.4"/><circle cx="58.9" cy="56.37" r="1.4"/><circle cx="60.18" cy="49.99" r="1.4"/><circle cx="61.46" cy="44.85" r="1.4"/><circle cx="62.75" cy="41.52" r="1.4"/><circle cx="64.03" cy="38.97" r="1.4"/><circle cx="65.32" cy="37.32" r="1.4"/><circle cx="66.6" cy="36.09" r="1.4"/><circle cx="67.88" cy="35.11" r="1.4"/><circle cx="69.17" cy="34.44" r="1.4"/><circle cx="70.45" cy="34.02" r="1.4"/></g>
<circle cx="41.56" cy="124.6" r="1.0" fill="#fff" stroke="#ff0000" stroke-width="0.55"/>
<line x1="46.06" x2="51.19" y1="124.6" y2="124.6" stroke="#00ff00" stroke-width="0.9"/>
<line x1="64.03" x2="99.98" y1="33.45" y2="33.45" stroke="#00ff00" stroke-width="0.9"/>
<path d="M49.65 124.6L49.65 124.52L50.94 124.52L50.94 124.33L52.22 124.33L52.22 123.82L53.5 123.82L53.5 122.6L54.79 122.6L54.79 119.48L56.07 119.48L56.07 109.47L57.36 109.47L57.36 94.52L58.64 94.52L58.64 79.49L59.92 79.49L59.92 63.83L61.21 63.83L61.21 49.04L62.49 49.04L62.49 41.89L63.78 41.89L63.78 37.96L65.06 37.96L65.06 35.67L66.34 35.67L66.34 34.36L67.63 34.36L67.63 33.82L68.91 33.82L68.91 33.59L70.2 33.59L70.2 33.5" fill="none" stroke="#00ff00" stroke-width="1.0"/>
<path d="M49.14 124.6L49.14 124.52L50.42 124.52L50.42 124.33L51.71 124.33L51.71 123.82L52.99 123.82L52.99 122.6L54.27 122.6L54.27 119.48L55.56 119.48L55.56 109.47L56.84 109.47L56.84 94.52L58.13 94.52L58.13 79.49L59.41 79.49L59.41 63.83L60.69 63.83L60.69 49.04L61.98 49.04L61.98 41.89L63.26 41.89L63.26 37.96L64.55 37.96L64.55 35.67L65.83 35.67L65.83 34.36L67.11 34.36L67.11 33.82L68.4 33.82L68.4 33.59L69.68 33.59L69.68 33.5" fill="none" stroke="#00ff00" stroke-width="1.0"/>
<path d="M60.18 56.04L60.82 49.04L61.46 45.09L62.11 41.89L62.75 39.61L63.39 37.96L64.03 36.68L64.67 35.67L65.32 34.89L65.96 34.36L66.6 34.03L67.24 33.82L67.88 33.68L68.53 33.59L69.17 33.54L69.81 33.5L70.45 33.48" fill="none" stroke="#00ff00" stroke-width="2.6" stroke-linecap="round" stroke-linejoin="round"/>
<g fill="#00ff00"><circle cx="52.22" cy="123.82" r="1.25"/><circle cx="53.5" cy="122.6" r="1.25"/><circle cx="54.79" cy="119.48" r="1.25"/><circle cx="56.07" cy="109.47" r="1.25"/><circle cx="57.36" cy="94.52" r="1.25"/><circle cx="58.64" cy="79.49" r="1.25"/><circle cx="59.92" cy="63.83" r="1.25"/><circle cx="61.21" cy="49.04" r="1.25"/><circle cx="62.49" cy="41.89" r="1.25"/><circle cx="63.78" cy="37.96" r="1.25"/><circle cx="65.06" cy="35.67" r="1.25"/><circle cx="66.34" cy="34.36" r="1.25"/><circle cx="67.63" cy="33.82" r="1.25"/><circle cx="51.71" cy="123.82" r="1.25"/><circle cx="52.99" cy="122.6" r="1.25"/><circle cx="54.27" cy="119.48" r="1.25"/><circle cx="55.56" cy="109.47" r="1.25"/><circle cx="56.84" cy="94.52" r="1.25"/><circle cx="58.13" cy="79.49" r="1.25"/><circle cx="59.41" cy="63.83" r="1.25"/><circle cx="60.69" cy="49.04" r="1.25"/><circle cx="61.98" cy="41.89" r="1.25"/><circle cx="63.26" cy="37.96" r="1.25"/><circle cx="64.55" cy="35.67" r="1.25"/><circle cx="65.83" cy="34.36" r="1.25"/><circle cx="67.11" cy="33.82" r="1.25"/></g>
<line x1="31.7" x2="35.14" y1="124.6" y2="124.6" stroke="#0000ff" stroke-width="0.8"/>
<line x1="42.2" x2="101.27" y1="33.45" y2="33.45" stroke="#0000ff" stroke-width="1.0"/>
<path d="M34.5 124.6L34.5 124.37L36.3 124.37L36.3 120.32L37.58 120.32L37.58 109.38L38.87 109.38L38.87 89.49L40.15 89.49L40.15 66.45L41.43 66.45L41.43 48.04L42.46 48.04L42.46 37.56L44.77 37.56L44.77 34.43L47.08 34.43L47.08 33.72L49.78 33.72L49.78 33.49" fill="none" stroke="#0000ff" stroke-width="0.85"/>
<path d="M40.66 66.45L40.66 66.45L41.95 66.45L41.95 48.04L42.97 48.04L42.97 37.56L45.29 37.56L45.29 34.43L47.6 34.43L47.6 33.72L50.29 33.72L50.29 33.49" fill="none" stroke="#0000ff" stroke-width="1.0"/>
<g fill="#0000ff"><circle cx="36.3" cy="120.32" r="1.55"/><circle cx="37.58" cy="109.38" r="1.55"/><circle cx="38.87" cy="89.49" r="1.55"/><circle cx="40.15" cy="66.45" r="1.55"/><circle cx="41.43" cy="48.04" r="1.55"/><circle cx="42.46" cy="37.56" r="1.55"/><circle cx="44.77" cy="34.43" r="1.55"/><circle cx="47.08" cy="33.72" r="1.55"/><circle cx="49.78" cy="33.49" r="1.55"/></g>
<g fill="#0000ff"><circle cx="55.04" cy="33.45" r="1.05"/><circle cx="59.54" cy="33.45" r="1.05"/><circle cx="69.17" cy="33.45" r="1.05"/><circle cx="91" cy="33.45" r="1.05"/><circle cx="75.59" cy="33.45" r="1.05"/></g>
<g fill="#00ff00"><circle cx="99.73" cy="33.45" r="1.05"/><circle cx="80.08" cy="33.45" r="1.05"/></g>
<g fill="#ff0000"><circle cx="76.87" cy="33.45" r="1.05"/><circle cx="83.29" cy="33.45" r="1.05"/></g>
<circle cx="64.67" cy="33.45" r="1.0" fill="#fff" stroke="#0000ff" stroke-width="0.55"/>
<circle cx="85.22" cy="33.45" r="1.0" fill="#fff" stroke="#0000ff" stroke-width="0.55"/>
<line x1="29.5" x2="168.4" y1="124.6" y2="124.6" stroke="#ccc" stroke-opacity="0.8" stroke-width="0.6" stroke-dasharray="2.9 1.6"/>
<line x1="29.5" x2="168.4" y1="33.45" y2="33.45" stroke="#ccc" stroke-opacity="0.8" stroke-width="0.6" stroke-dasharray="2.9 1.6"/>
<rect x="29.5" y="29.5" width="138.9" height="98.4" fill="none" stroke="#2a2a2a" stroke-width="0.9"/>
<path d="M29.5 124.6H25.9M34.9 127.9V131.7M29.5 106.37H25.9M60.5 127.9V131.7M29.5 88.14H25.9M86.1 127.9V131.7M29.5 69.91H25.9M111.7 127.9V131.7M29.5 51.68H25.9M137.3 127.9V131.7M29.5 33.45H25.9M162.9 127.9V131.7M34.9 127.7H162.9M29.25 124.6V33.45" stroke="#222" stroke-width="0.8" fill="none"/>
<text transform="translate(34.9,140.6) scale(0.1)" font-size="57" text-anchor="middle" stroke="#000" stroke-width="1.2" fill="#000">0</text>
<text transform="translate(20.8,124.6) rotate(-90) scale(0.1)" font-size="57" text-anchor="middle" stroke="#000" stroke-width="1.2" fill="#000">0.0</text>
<text transform="translate(60.5,140.6) scale(0.1)" font-size="57" text-anchor="middle" stroke="#000" stroke-width="1.2" fill="#000">2</text>
<text transform="translate(20.8,106.37) rotate(-90) scale(0.1)" font-size="57" text-anchor="middle" stroke="#000" stroke-width="1.2" fill="#000">0.2</text>
<text transform="translate(86.1,140.6) scale(0.1)" font-size="57" text-anchor="middle" stroke="#000" stroke-width="1.2" fill="#000">4</text>
<text transform="translate(20.8,88.14) rotate(-90) scale(0.1)" font-size="57" text-anchor="middle" stroke="#000" stroke-width="1.2" fill="#000">0.4</text>
<text transform="translate(111.7,140.6) scale(0.1)" font-size="57" text-anchor="middle" stroke="#000" stroke-width="1.2" fill="#000">6</text>
<text transform="translate(20.8,69.91) rotate(-90) scale(0.1)" font-size="57" text-anchor="middle" stroke="#000" stroke-width="1.2" fill="#000">0.6</text>
<text transform="translate(137.3,140.6) scale(0.1)" font-size="57" text-anchor="middle" stroke="#000" stroke-width="1.2" fill="#000">8</text>
<text transform="translate(20.8,51.68) rotate(-90) scale(0.1)" font-size="57" text-anchor="middle" stroke="#000" stroke-width="1.2" fill="#000">0.8</text>
<text transform="translate(162.9,140.6) scale(0.1)" font-size="57" text-anchor="middle" stroke="#000" stroke-width="1.2" fill="#000">10</text>
<text transform="translate(20.8,33.45) rotate(-90) scale(0.1)" font-size="57" text-anchor="middle" stroke="#000" stroke-width="1.2" fill="#000">1.0</text>
<text transform="translate(6.3,78.55) rotate(-90) scale(0.1)" font-size="70" text-anchor="middle" stroke="#000" stroke-width="1" fill="#000">CDF</text>
<text transform="translate(82.9,153.8) scale(0.1)" font-size="75" stroke="#000" stroke-width="1.5" fill="#000">d(ρ,</text>
<text transform="translate(98.6,153.8) scale(0.1)" font-size="75" stroke="#000" stroke-width="1.5" fill="#000">ρ</text>
<text transform="translate(102.7,155.3) scale(0.1)" font-size="51" stroke="#000" stroke-width="1" fill="#000">true</text>
<text transform="translate(112.5,153.8) scale(0.1)" font-size="75" stroke="#000" stroke-width="1.5" fill="#000">)</text>
<g stroke-width="1.4" fill="none">
<line x1="89.9" x2="99.7" y1="48.2" y2="48.2" stroke="#ff0000"/>
<line x1="89.9" x2="99.7" y1="53.97" y2="53.97" stroke="#00ff00"/>
<line x1="89.9" x2="99.7" y1="59.74" y2="59.74" stroke="#0000ff"/>
</g>
<text transform="translate(103.7,49.85) scale(0.1)" font-size="45.5" fill="#000">N = 20</text>
<text transform="translate(103.7,55.62) scale(0.1)" font-size="45.5" fill="#000">N = 50</text>
<text transform="translate(103.7,61.39) scale(0.1)" font-size="45.5" fill="#000">N = 100</text>
<g stroke="#000" stroke-width="1.3" fill="none">
<line x1="83.3" x2="93" y1="84.5" y2="84.5"/>
<line x1="83.3" x2="88.3" y1="90.27" y2="90.27"/>
<line x1="83.3" x2="84.3" y1="96.04" y2="96.04"/>
<line x1="88.1" x2="89.1" y1="96.04" y2="96.04"/>
<line x1="83.3" x2="84.3" y1="101.81" y2="101.81"/>
<line x1="88.1" x2="92.7" y1="101.81" y2="101.81"/>
</g>
<text transform="translate(96.8,86.15) scale(0.1)" font-size="48" fill="#000">unif prior</text>
<text transform="translate(96.8,91.92) scale(0.1)" font-size="48" fill="#000">exp(0.1) prior</text>
<text transform="translate(96.8,97.69) scale(0.1)" font-size="48" fill="#000">exp(1) prior</text>
<text transform="translate(96.8,103.46) scale(0.1)" font-size="48" fill="#000">exp(10) prior</text>
</g>
<g transform="translate(366.9,165)">
<text transform="translate(98.8,17.7) scale(0.1)" font-size="76.5" text-anchor="middle" font-weight="bold" fill="#000">IS approximated partition function, K small</text>
<line x1="29.5" x2="168.4" y1="124.6" y2="124.6" stroke="#7f7f7f" stroke-width="0.7" stroke-dasharray="2.9 1.6"/>
<line x1="29.5" x2="168.4" y1="33.45" y2="33.45" stroke="#7f7f7f" stroke-width="0.7" stroke-dasharray="2.9 1.6"/>
<line x1="34.9" x2="34.9" y1="29.5" y2="127.9" stroke="#333" stroke-width="0.9"/>
<line x1="40.28" x2="47.34" y1="124.6" y2="124.6" stroke="#ff0000" stroke-width="0.8"/>
<line x1="67.88" x2="135.94" y1="33.45" y2="33.45" stroke="#ff0000" stroke-width="0.8"/>
<path d="M42.33 124.6L42.33 124.44L43.62 124.44L43.62 124.21L44.9 124.21L44.9 123.73L46.18 123.73L46.18 122.8L47.47 122.8L47.47 121.25L48.75 121.25L48.75 118.02L50.04 118.02L50.04 113.93L51.32 113.93L51.32 107.09L52.6 107.09L52.6 98.99L53.89 98.99L53.89 88.73L55.17 88.73L55.17 76.84L56.46 76.84L56.46 66.55L57.74 66.55L57.74 56.37L59.02 56.37L59.02 49.99L60.31 49.99L60.31 44.85L61.59 44.85L61.59 41.52L62.88 41.52L62.88 38.97L64.16 38.97L64.16 37.32L65.44 37.32L65.44 36.09L66.73 36.09L66.73 35.11L68.01 35.11L68.01 34.44L69.3 34.44L69.3 34.02L70.58 34.02L70.58 33.74L71.86 33.74L71.86 33.59" fill="none" stroke="#ff0000" stroke-width="0.8" stroke-opacity="0.4"/>
<path d="M44.52 124.6L44.52 124.44L45.8 124.44L45.8 124.21L47.08 124.21L47.08 123.73L48.37 123.73L48.37 122.8L49.65 122.8L49.65 121.25L50.94 121.25L50.94 118.02L52.22 118.02L52.22 113.93L53.5 113.93L53.5 107.09L54.79 107.09L54.79 98.99L56.07 98.99L56.07 88.73L57.36 88.73L57.36 76.84L58.64 76.84L58.64 66.55L59.92 66.55L59.92 56.37L61.21 56.37L61.21 49.99L62.49 49.99L62.49 44.85L63.78 44.85L63.78 41.52L65.06 41.52L65.06 38.97L66.34 38.97L66.34 37.32L67.63 37.32L67.63 36.09L68.91 36.09L68.91 35.11L70.2 35.11L70.2 34.44L71.48 34.44L71.48 34.02L72.76 34.02L72.76 33.74L74.05 33.74L74.05 33.59" fill="none" stroke="#ff0000" stroke-width="0.8" stroke-opacity="0.4"/>
<path d="M43.49 124.6L43.49 124.44L44.77 124.44L44.77 124.21L46.06 124.21L46.06 123.73L47.34 123.73L47.34 122.8L48.62 122.8L48.62 121.25L49.91 121.25L49.91 118.02L51.19 118.02L51.19 113.93L52.48 113.93L52.48 107.09L53.76 107.09L53.76 98.99L55.04 98.99L55.04 88.73L56.33 88.73L56.33 76.84L57.61 76.84L57.61 66.55L58.9 66.55L58.9 56.37L60.18 56.37L60.18 49.99L61.46 49.99L61.46 44.85L62.75 44.85L62.75 41.52L64.03 41.52L64.03 38.97L65.32 38.97L65.32 37.32L66.6 37.32L66.6 36.09L67.88 36.09L67.88 35.11L69.17 35.11L69.17 34.44L70.45 34.44L70.45 34.02L71.74 34.02L71.74 33.74L73.02 33.74L73.02 33.59" fill="none" stroke="#ff0000" stroke-width="0.8" stroke-opacity="1"/>
<g fill="#ff0000"><circle cx="61.21" cy="49.99" r="1.4"/><circle cx="62.49" cy="44.85" r="1.4"/><circle cx="63.78" cy="41.52" r="1.4"/><circle cx="65.06" cy="38.97" r="1.4"/><circle cx="66.34" cy="37.32" r="1.4"/><circle cx="67.63" cy="36.09" r="1.4"/><circle cx="68.91" cy="35.11" r="1.4"/><circle cx="70.2" cy="34.44" r="1.4"/><circle cx="71.48" cy="34.02" r="1.4"/><circle cx="44.77" cy="124.21" r="1.4"/><circle cx="46.06" cy="123.73" r="1.4"/><circle cx="47.34" cy="122.8" r="1.4"/><circle cx="48.62" cy="121.25" r="1.4"/><circle cx="49.91" cy="118.02" r="1.4"/><circle cx="51.19" cy="113.93" r="1.4"/><circle cx="52.48" cy="107.09" r="1.4"/><circle cx="53.76" cy="98.99" r="1.4"/><circle cx="55.04" cy="88.73" r="1.4"/><circle cx="56.33" cy="76.84" r="1.4"/><circle cx="57.61" cy="66.55" r="1.4"/><circle cx="58.9" cy="56.37" r="1.4"/><circle cx="60.18" cy="49.99" r="1.4"/><circle cx="61.46" cy="44.85" r="1.4"/><circle cx="62.75" cy="41.52" r="1.4"/><circle cx="64.03" cy="38.97" r="1.4"/><circle cx="65.32" cy="37.32" r="1.4"/><circle cx="66.6" cy="36.09" r="1.4"/><circle cx="67.88" cy="35.11" r="1.4"/><circle cx="69.17" cy="34.44" r="1.4"/><circle cx="70.45" cy="34.02" r="1.4"/></g>
<circle cx="41.56" cy="124.6" r="1.0" fill="#fff" stroke="#ff0000" stroke-width="0.55"/>
<line x1="46.06" x2="51.19" y1="124.6" y2="124.6" stroke="#00ff00" stroke-width="0.9"/>
<line x1="64.03" x2="108.97" y1="33.45" y2="33.45" stroke="#00ff00" stroke-width="0.9"/>
<path d="M49.65 124.6L49.65 124.52L50.94 124.52L50.94 124.33L52.22 124.33L52.22 123.82L53.5 123.82L53.5 122.6L54.79 122.6L54.79 119.48L56.07 119.48L56.07 109.47L57.36 109.47L57.36 94.52L58.64 94.52L58.64 79.49L59.92 79.49L59.92 63.83L61.21 63.83L61.21 49.04L62.49 49.04L62.49 41.89L63.78 41.89L63.78 37.96L65.06 37.96L65.06 35.67L66.34 35.67L66.34 34.36L67.63 34.36L67.63 33.82L68.91 33.82L68.91 33.59L70.2 33.59L70.2 33.5" fill="none" stroke="#00ff00" stroke-width="1.0"/>
<path d="M49.14 124.6L49.14 124.52L50.42 124.52L50.42 124.33L51.71 124.33L51.71 123.82L52.99 123.82L52.99 122.6L54.27 122.6L54.27 119.48L55.56 119.48L55.56 109.47L56.84 109.47L56.84 94.52L58.13 94.52L58.13 79.49L59.41 79.49L59.41 63.83L60.69 63.83L60.69 49.04L61.98 49.04L61.98 41.89L63.26 41.89L63.26 37.96L64.55 37.96L64.55 35.67L65.83 35.67L65.83 34.36L67.11 34.36L67.11 33.82L68.4 33.82L68.4 33.59L69.68 33.59L69.68 33.5" fill="none" stroke="#00ff00" stroke-width="1.0"/>
<path d="M60.18 56.04L60.82 49.04L61.46 45.09L62.11 41.89L62.75 39.61L63.39 37.96L64.03 36.68L64.67 35.67L65.32 34.89L65.96 34.36L66.6 34.03L67.24 33.82L67.88 33.68L68.53 33.59L69.17 33.54L69.81 33.5L70.45 33.48" fill="none" stroke="#00ff00" stroke-width="2.6" stroke-linecap="round" stroke-linejoin="round"/>
<g fill="#00ff00"><circle cx="52.22" cy="123.82" r="1.25"/><circle cx="53.5" cy="122.6" r="1.25"/><circle cx="54.79" cy="119.48" r="1.25"/><circle cx="56.07" cy="109.47" r="1.25"/><circle cx="57.36" cy="94.52" r="1.25"/><circle cx="58.64" cy="79.49" r="1.25"/><circle cx="59.92" cy="63.83" r="1.25"/><circle cx="61.21" cy="49.04" r="1.25"/><circle cx="62.49" cy="41.89" r="1.25"/><circle cx="63.78" cy="37.96" r="1.25"/><circle cx="65.06" cy="35.67" r="1.25"/><circle cx="66.34" cy="34.36" r="1.25"/><circle cx="67.63" cy="33.82" r="1.25"/><circle cx="51.71" cy="123.82" r="1.25"/><circle cx="52.99" cy="122.6" r="1.25"/><circle cx="54.27" cy="119.48" r="1.25"/><circle cx="55.56" cy="109.47" r="1.25"/><circle cx="56.84" cy="94.52" r="1.25"/><circle cx="58.13" cy="79.49" r="1.25"/><circle cx="59.41" cy="63.83" r="1.25"/><circle cx="60.69" cy="49.04" r="1.25"/><circle cx="61.98" cy="41.89" r="1.25"/><circle cx="63.26" cy="37.96" r="1.25"/><circle cx="64.55" cy="35.67" r="1.25"/><circle cx="65.83" cy="34.36" r="1.25"/><circle cx="67.11" cy="33.82" r="1.25"/></g>
<line x1="31.7" x2="35.14" y1="124.6" y2="124.6" stroke="#0000ff" stroke-width="0.8"/>
<line x1="42.2" x2="93.56" y1="33.45" y2="33.45" stroke="#0000ff" stroke-width="1.0"/>
<path d="M34.5 124.6L34.5 124.37L36.3 124.37L36.3 120.32L37.58 120.32L37.58 109.38L38.87 109.38L38.87 89.49L40.15 89.49L40.15 66.45L41.43 66.45L41.43 48.04L42.46 48.04L42.46 37.56L44.77 37.56L44.77 34.43L47.08 34.43L47.08 33.72L49.78 33.72L49.78 33.49" fill="none" stroke="#0000ff" stroke-width="0.85"/>
<path d="M40.66 66.45L40.66 66.45L41.95 66.45L41.95 48.04L42.97 48.04L42.97 37.56L45.29 37.56L45.29 34.43L47.6 34.43L47.6 33.72L50.29 33.72L50.29 33.49" fill="none" stroke="#0000ff" stroke-width="1.0"/>
<g fill="#0000ff"><circle cx="36.3" cy="120.32" r="1.55"/><circle cx="37.58" cy="109.38" r="1.55"/><circle cx="38.87" cy="89.49" r="1.55"/><circle cx="40.15" cy="66.45" r="1.55"/><circle cx="41.43" cy="48.04" r="1.55"/><circle cx="42.46" cy="37.56" r="1.55"/><circle cx="44.77" cy="34.43" r="1.55"/><circle cx="47.08" cy="33.72" r="1.55"/><circle cx="49.78" cy="33.49" r="1.55"/></g>
<g fill="#0000ff"><circle cx="52.48" cy="33.45" r="1.05"/><circle cx="67.88" cy="33.45" r="1.05"/><circle cx="83.29" cy="33.45" r="1.05"/><circle cx="91" cy="33.45" r="1.05"/><circle cx="96.39" cy="33.45" r="1.05"/></g>
<g fill="#00ff00"><circle cx="108.46" cy="33.45" r="1.05"/><circle cx="76.87" cy="33.45" r="1.05"/></g>
<g fill="#ff0000"><circle cx="75.59" cy="33.45" r="1.05"/><circle cx="124.25" cy="33.45" r="1.05"/></g>
<circle cx="71.74" cy="33.45" r="1.0" fill="#fff" stroke="#0000ff" stroke-width="0.55"/>
<circle cx="79.44" cy="33.45" r="1.0" fill="#fff" stroke="#0000ff" stroke-width="0.55"/>
<line x1="29.5" x2="168.4" y1="124.6" y2="124.6" stroke="#ccc" stroke-opacity="0.8" stroke-width="0.6" stroke-dasharray="2.9 1.6"/>
<line x1="29.5" x2="168.4" y1="33.45" y2="33.45" stroke="#ccc" stroke-opacity="0.8" stroke-width="0.6" stroke-dasharray="2.9 1.6"/>
<rect x="29.5" y="29.5" width="138.9" height="98.4" fill="none" stroke="#2a2a2a" stroke-width="0.9"/>
<path d="M29.5 124.6H25.9M34.9 127.9V131.7M29.5 106.37H25.9M60.5 127.9V131.7M29.5 88.14H25.9M86.1 127.9V131.7M29.5 69.91H25.9M111.7 127.9V131.7M29.5 51.68H25.9M137.3 127.9V131.7M29.5 33.45H25.9M162.9 127.9V131.7M34.9 127.7H162.9M29.25 124.6V33.45" stroke="#222" stroke-width="0.8" fill="none"/>
<text transform="translate(34.9,140.6) scale(0.1)" font-size="57" text-anchor="middle" stroke="#000" stroke-width="1.2" fill="#000">0</text>
<text transform="translate(20.8,124.6) rotate(-90) scale(0.1)" font-size="57" text-anchor="middle" stroke="#000" stroke-width="1.2" fill="#000">0.0</text>
<text transform="translate(60.5,140.6) scale(0.1)" font-size="57" text-anchor="middle" stroke="#000" stroke-width="1.2" fill="#000">2</text>
<text transform="translate(20.8,106.37) rotate(-90) scale(0.1)" font-size="57" text-anchor="middle" stroke="#000" stroke-width="1.2" fill="#000">0.2</text>
<text transform="translate(86.1,140.6) scale(0.1)" font-size="57" text-anchor="middle" stroke="#000" stroke-width="1.2" fill="#000">4</text>
<text transform="translate(20.8,88.14) rotate(-90) scale(0.1)" font-size="57" text-anchor="middle" stroke="#000" stroke-width="1.2" fill="#000">0.4</text>
<text transform="translate(111.7,140.6) scale(0.1)" font-size="57" text-anchor="middle" stroke="#000" stroke-width="1.2" fill="#000">6</text>
<text transform="translate(20.8,69.91) rotate(-90) scale(0.1)" font-size="57" text-anchor="middle" stroke="#000" stroke-width="1.2" fill="#000">0.6</text>
<text transform="translate(137.3,140.6) scale(0.1)" font-size="57" text-anchor="middle" stroke="#000" stroke-width="1.2" fill="#000">8</text>
<text transform="translate(20.8,51.68) rotate(-90) scale(0.1)" font-size="57" text-anchor="middle" stroke="#000" stroke-width="1.2" fill="#000">0.8</text>
<text transform="translate(162.9,140.6) scale(0.1)" font-size="57" text-anchor="middle" stroke="#000" stroke-width="1.2" fill="#000">10</text>
<text transform="translate(20.8,33.45) rotate(-90) scale(0.1)" font-size="57" text-anchor="middle" stroke="#000" stroke-width="1.2" fill="#000">1.0</text>
<text transform="translate(6.3,78.55) rotate(-90) scale(0.1)" font-size="70" text-anchor="middle" stroke="#000" stroke-width="1" fill="#000">CDF</text>
<text transform="translate(82.9,153.8) scale(0.1)" font-size="75" stroke="#000" stroke-width="1.5" fill="#000">d(ρ,</text>
<text transform="translate(98.6,153.8) scale(0.1)" font-size="75" stroke="#000" stroke-width="1.5" fill="#000">ρ</text>
<text transform="translate(102.7,155.3) scale(0.1)" font-size="51" stroke="#000" stroke-width="1" fill="#000">true</text>
<text transform="translate(112.5,153.8) scale(0.1)" font-size="75" stroke="#000" stroke-width="1.5" fill="#000">)</text>
<g stroke-width="1.4" fill="none">
<line x1="89.9" x2="99.7" y1="48.2" y2="48.2" stroke="#ff0000"/>
<line x1="89.9" x2="99.7" y1="53.97" y2="53.97" stroke="#00ff00"/>
<line x1="89.9" x2="99.7" y1="59.74" y2="59.74" stroke="#0000ff"/>
</g>
<text transform="translate(103.7,49.85) scale(0.1)" font-size="45.5" fill="#000">N = 20</text>
<text transform="translate(103.7,55.62) scale(0.1)" font-size="45.5" fill="#000">N = 50</text>
<text transform="translate(103.7,61.39) scale(0.1)" font-size="45.5" fill="#000">N = 100</text>
<g stroke="#000" stroke-width="1.3" fill="none">
<line x1="83.3" x2="93" y1="84.5" y2="84.5"/>
<line x1="83.3" x2="88.3" y1="90.27" y2="90.27"/>
<line x1="83.3" x2="84.3" y1="96.04" y2="96.04"/>
<line x1="88.1" x2="89.1" y1="96.04" y2="96.04"/>
<line x1="83.3" x2="84.3" y1="101.81" y2="101.81"/>
<line x1="88.1" x2="92.7" y1="101.81" y2="101.81"/>
</g>
<text transform="translate(96.8,86.15) scale(0.1)" font-size="48" fill="#000">unif prior</text>
<text transform="translate(96.8,91.92) scale(0.1)" font-size="48" fill="#000">exp(0.1) prior</text>
<text transform="translate(96.8,97.69) scale(0.1)" font-size="48" fill="#000">exp(1) prior</text>
<text transform="translate(96.8,103.46) scale(0.1)" font-size="48" fill="#000">exp(10) prior</text>
</g>
</g>
</svg></body></html>
